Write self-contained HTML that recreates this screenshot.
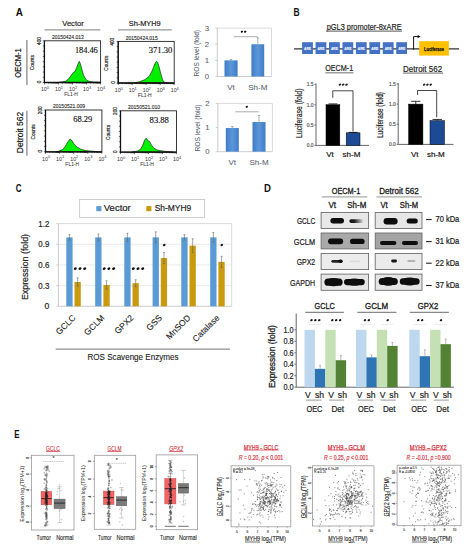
<!DOCTYPE html>
<html><head><meta charset="utf-8"><style>
html,body{margin:0;padding:0;background:#fff;}
svg{display:block;}
text{font-family:"Liberation Sans", sans-serif;}
</style></head><body>
<svg width="476" height="550" viewBox="0 0 476 550">
<rect width="476" height="550" fill="#fff"/>
<text x="15.80" y="16.26" font-size="10.5" fill="#111" text-anchor="start" font-weight="bold" textLength="7.2" lengthAdjust="spacingAndGlyphs" >A</text>
<text x="73.00" y="26.02" font-size="7.6" fill="#222" text-anchor="middle" stroke="#222" stroke-width="0.18" textLength="21.5" lengthAdjust="spacingAndGlyphs" >Vector</text>
<line x1="44.40" y1="29.80" x2="100.30" y2="29.80" stroke="#9a9a9a" stroke-width="1.3" />
<text x="144.70" y="26.02" font-size="7.6" fill="#222" text-anchor="middle" stroke="#222" stroke-width="0.18" textLength="31.8" lengthAdjust="spacingAndGlyphs" >Sh-MYH9</text>
<line x1="118.00" y1="29.80" x2="171.80" y2="29.80" stroke="#9a9a9a" stroke-width="1.3" />
<text transform="translate(18.10,63.00) rotate(-90)" x="0" y="3.29" font-size="9.2" fill="#111" text-anchor="middle" stroke="#111" stroke-width="0.18" textLength="29.5" lengthAdjust="spacingAndGlyphs" >OECM-1</text>
<line x1="26.90" y1="40.00" x2="26.90" y2="85.00" stroke="#8a8a8a" stroke-width="1.3" />
<text transform="translate(19.60,132.50) rotate(-90)" x="0" y="3.29" font-size="9.2" fill="#111" text-anchor="middle" stroke="#111" stroke-width="0.18" textLength="41.5" lengthAdjust="spacingAndGlyphs" >Detroit 562</text>
<line x1="26.90" y1="110.70" x2="26.90" y2="155.80" stroke="#8a8a8a" stroke-width="1.3" />
<path d="M59.00,82.50 L59.00,82.20 L63.00,81.80 L66.00,81.00 L68.00,79.50 L70.00,77.00 L72.00,74.00 L73.30,72.40 L75.00,71.50 L76.50,68.00 L78.00,64.00 L79.30,61.30 L80.50,64.00 L82.00,70.00 L83.50,75.00 L85.00,78.00 L87.00,80.50 L90.00,81.60 L94.00,82.00 L100.00,82.20 L100.00,82.50 Z" fill="#00f000" stroke="#111" stroke-width="0.6" />
<rect x="44.40" y="40.80" width="56.20" height="41.70" fill="none" stroke="#222" stroke-width="0.9" />
<line x1="44.40" y1="40.80" x2="44.40" y2="83.00" stroke="#111" stroke-width="1.3" />
<line x1="43.90" y1="82.50" x2="100.60" y2="82.50" stroke="#111" stroke-width="1.3" />
<line x1="42.80" y1="82.50" x2="44.40" y2="82.50" stroke="#111" stroke-width="0.6" />
<line x1="42.80" y1="77.29" x2="44.40" y2="77.29" stroke="#111" stroke-width="0.6" />
<line x1="42.80" y1="72.08" x2="44.40" y2="72.08" stroke="#111" stroke-width="0.6" />
<line x1="42.80" y1="66.86" x2="44.40" y2="66.86" stroke="#111" stroke-width="0.6" />
<line x1="42.80" y1="61.65" x2="44.40" y2="61.65" stroke="#111" stroke-width="0.6" />
<line x1="42.80" y1="56.44" x2="44.40" y2="56.44" stroke="#111" stroke-width="0.6" />
<line x1="42.80" y1="51.22" x2="44.40" y2="51.22" stroke="#111" stroke-width="0.6" />
<line x1="42.80" y1="46.01" x2="44.40" y2="46.01" stroke="#111" stroke-width="0.6" />
<line x1="42.80" y1="40.80" x2="44.40" y2="40.80" stroke="#111" stroke-width="0.6" />
<line x1="44.40" y1="82.50" x2="44.40" y2="84.50" stroke="#111" stroke-width="0.6" />
<line x1="48.63" y1="82.50" x2="48.63" y2="83.70" stroke="#111" stroke-width="0.6" />
<line x1="51.10" y1="82.50" x2="51.10" y2="83.70" stroke="#111" stroke-width="0.6" />
<line x1="52.86" y1="82.50" x2="52.86" y2="83.70" stroke="#111" stroke-width="0.6" />
<line x1="54.22" y1="82.50" x2="54.22" y2="83.70" stroke="#111" stroke-width="0.6" />
<line x1="55.33" y1="82.50" x2="55.33" y2="83.70" stroke="#111" stroke-width="0.6" />
<line x1="56.27" y1="82.50" x2="56.27" y2="83.70" stroke="#111" stroke-width="0.6" />
<line x1="57.09" y1="82.50" x2="57.09" y2="83.70" stroke="#111" stroke-width="0.6" />
<line x1="57.81" y1="82.50" x2="57.81" y2="83.70" stroke="#111" stroke-width="0.6" />
<line x1="58.45" y1="82.50" x2="58.45" y2="84.50" stroke="#111" stroke-width="0.6" />
<line x1="62.68" y1="82.50" x2="62.68" y2="83.70" stroke="#111" stroke-width="0.6" />
<line x1="65.15" y1="82.50" x2="65.15" y2="83.70" stroke="#111" stroke-width="0.6" />
<line x1="66.91" y1="82.50" x2="66.91" y2="83.70" stroke="#111" stroke-width="0.6" />
<line x1="68.27" y1="82.50" x2="68.27" y2="83.70" stroke="#111" stroke-width="0.6" />
<line x1="69.38" y1="82.50" x2="69.38" y2="83.70" stroke="#111" stroke-width="0.6" />
<line x1="70.32" y1="82.50" x2="70.32" y2="83.70" stroke="#111" stroke-width="0.6" />
<line x1="71.14" y1="82.50" x2="71.14" y2="83.70" stroke="#111" stroke-width="0.6" />
<line x1="71.86" y1="82.50" x2="71.86" y2="83.70" stroke="#111" stroke-width="0.6" />
<line x1="72.50" y1="82.50" x2="72.50" y2="84.50" stroke="#111" stroke-width="0.6" />
<line x1="76.73" y1="82.50" x2="76.73" y2="83.70" stroke="#111" stroke-width="0.6" />
<line x1="79.20" y1="82.50" x2="79.20" y2="83.70" stroke="#111" stroke-width="0.6" />
<line x1="80.96" y1="82.50" x2="80.96" y2="83.70" stroke="#111" stroke-width="0.6" />
<line x1="82.32" y1="82.50" x2="82.32" y2="83.70" stroke="#111" stroke-width="0.6" />
<line x1="83.43" y1="82.50" x2="83.43" y2="83.70" stroke="#111" stroke-width="0.6" />
<line x1="84.37" y1="82.50" x2="84.37" y2="83.70" stroke="#111" stroke-width="0.6" />
<line x1="85.19" y1="82.50" x2="85.19" y2="83.70" stroke="#111" stroke-width="0.6" />
<line x1="85.91" y1="82.50" x2="85.91" y2="83.70" stroke="#111" stroke-width="0.6" />
<line x1="86.55" y1="82.50" x2="86.55" y2="84.50" stroke="#111" stroke-width="0.6" />
<line x1="90.78" y1="82.50" x2="90.78" y2="83.70" stroke="#111" stroke-width="0.6" />
<line x1="93.25" y1="82.50" x2="93.25" y2="83.70" stroke="#111" stroke-width="0.6" />
<line x1="95.01" y1="82.50" x2="95.01" y2="83.70" stroke="#111" stroke-width="0.6" />
<line x1="96.37" y1="82.50" x2="96.37" y2="83.70" stroke="#111" stroke-width="0.6" />
<line x1="97.48" y1="82.50" x2="97.48" y2="83.70" stroke="#111" stroke-width="0.6" />
<line x1="98.42" y1="82.50" x2="98.42" y2="83.70" stroke="#111" stroke-width="0.6" />
<line x1="99.24" y1="82.50" x2="99.24" y2="83.70" stroke="#111" stroke-width="0.6" />
<line x1="99.96" y1="82.50" x2="99.96" y2="83.70" stroke="#111" stroke-width="0.6" />
<line x1="100.60" y1="82.50" x2="100.60" y2="84.50" stroke="#111" stroke-width="0.6" />
<text x="67.90" y="39.16" font-size="5.2" fill="#222" text-anchor="middle" stroke="#222" stroke-width="0.1" textLength="32" lengthAdjust="spacingAndGlyphs" >20150424.013</text>
<text x="74.90" y="52.55" font-size="8.8" fill="#111" text-anchor="start" style='font-family:"Liberation Serif", serif' stroke="#111" stroke-width="0.15" textLength="22.9" lengthAdjust="spacingAndGlyphs" >184.46</text>
<text transform="translate(39.00,41.10) rotate(-90)" x="0" y="1.65" font-size="4.6" fill="#222" text-anchor="middle" stroke="#222" stroke-width="0.18" >400</text>
<text transform="translate(39.20,82.00) rotate(-90)" x="0" y="1.65" font-size="4.6" fill="#222" text-anchor="middle" stroke="#222" stroke-width="0.18" >0</text>
<text transform="translate(32.40,62.65) rotate(-90)" x="0" y="1.72" font-size="4.8" fill="#222" text-anchor="middle" stroke="#222" stroke-width="0.18" textLength="15" lengthAdjust="spacingAndGlyphs" >Counts</text>
<text x="40.90" y="91.20" font-size="5.3" fill="#333">10<tspan font-size="3.9" dy="-2.1">0</tspan></text>
<text x="54.95" y="91.20" font-size="5.3" fill="#333">10<tspan font-size="3.9" dy="-2.1">1</tspan></text>
<text x="69.00" y="91.20" font-size="5.3" fill="#333">10<tspan font-size="3.9" dy="-2.1">2</tspan></text>
<text x="83.05" y="91.20" font-size="5.3" fill="#333">10<tspan font-size="3.9" dy="-2.1">3</tspan></text>
<text x="97.10" y="91.20" font-size="5.3" fill="#333">10<tspan font-size="3.9" dy="-2.1">4</tspan></text>
<text x="71.05" y="96.22" font-size="4.8" fill="#333" text-anchor="middle" stroke="#333" stroke-width="0.05" textLength="13.7" lengthAdjust="spacingAndGlyphs" >FL1-H</text>
<path d="M134.40,83.00 L134.40,82.80 L139.40,81.80 L145.10,79.60 L149.50,75.90 L152.00,71.00 L154.00,66.00 L155.50,62.50 L156.50,61.30 L157.70,62.50 L159.00,66.40 L160.90,74.00 L162.80,80.30 L164.70,82.50 L168.40,83.00 L168.40,83.00 Z" fill="#00f000" stroke="#111" stroke-width="0.6" />
<rect x="118.20" y="41.40" width="56.00" height="41.60" fill="none" stroke="#222" stroke-width="0.9" />
<line x1="118.20" y1="41.40" x2="118.20" y2="83.50" stroke="#111" stroke-width="1.3" />
<line x1="117.70" y1="83.00" x2="174.20" y2="83.00" stroke="#111" stroke-width="1.3" />
<line x1="116.60" y1="83.00" x2="118.20" y2="83.00" stroke="#111" stroke-width="0.6" />
<line x1="116.60" y1="77.80" x2="118.20" y2="77.80" stroke="#111" stroke-width="0.6" />
<line x1="116.60" y1="72.60" x2="118.20" y2="72.60" stroke="#111" stroke-width="0.6" />
<line x1="116.60" y1="67.40" x2="118.20" y2="67.40" stroke="#111" stroke-width="0.6" />
<line x1="116.60" y1="62.20" x2="118.20" y2="62.20" stroke="#111" stroke-width="0.6" />
<line x1="116.60" y1="57.00" x2="118.20" y2="57.00" stroke="#111" stroke-width="0.6" />
<line x1="116.60" y1="51.80" x2="118.20" y2="51.80" stroke="#111" stroke-width="0.6" />
<line x1="116.60" y1="46.60" x2="118.20" y2="46.60" stroke="#111" stroke-width="0.6" />
<line x1="116.60" y1="41.40" x2="118.20" y2="41.40" stroke="#111" stroke-width="0.6" />
<line x1="118.20" y1="83.00" x2="118.20" y2="85.00" stroke="#111" stroke-width="0.6" />
<line x1="122.41" y1="83.00" x2="122.41" y2="84.20" stroke="#111" stroke-width="0.6" />
<line x1="124.88" y1="83.00" x2="124.88" y2="84.20" stroke="#111" stroke-width="0.6" />
<line x1="126.63" y1="83.00" x2="126.63" y2="84.20" stroke="#111" stroke-width="0.6" />
<line x1="127.99" y1="83.00" x2="127.99" y2="84.20" stroke="#111" stroke-width="0.6" />
<line x1="129.09" y1="83.00" x2="129.09" y2="84.20" stroke="#111" stroke-width="0.6" />
<line x1="130.03" y1="83.00" x2="130.03" y2="84.20" stroke="#111" stroke-width="0.6" />
<line x1="130.84" y1="83.00" x2="130.84" y2="84.20" stroke="#111" stroke-width="0.6" />
<line x1="131.56" y1="83.00" x2="131.56" y2="84.20" stroke="#111" stroke-width="0.6" />
<line x1="132.20" y1="83.00" x2="132.20" y2="85.00" stroke="#111" stroke-width="0.6" />
<line x1="136.41" y1="83.00" x2="136.41" y2="84.20" stroke="#111" stroke-width="0.6" />
<line x1="138.88" y1="83.00" x2="138.88" y2="84.20" stroke="#111" stroke-width="0.6" />
<line x1="140.63" y1="83.00" x2="140.63" y2="84.20" stroke="#111" stroke-width="0.6" />
<line x1="141.99" y1="83.00" x2="141.99" y2="84.20" stroke="#111" stroke-width="0.6" />
<line x1="143.09" y1="83.00" x2="143.09" y2="84.20" stroke="#111" stroke-width="0.6" />
<line x1="144.03" y1="83.00" x2="144.03" y2="84.20" stroke="#111" stroke-width="0.6" />
<line x1="144.84" y1="83.00" x2="144.84" y2="84.20" stroke="#111" stroke-width="0.6" />
<line x1="145.56" y1="83.00" x2="145.56" y2="84.20" stroke="#111" stroke-width="0.6" />
<line x1="146.20" y1="83.00" x2="146.20" y2="85.00" stroke="#111" stroke-width="0.6" />
<line x1="150.41" y1="83.00" x2="150.41" y2="84.20" stroke="#111" stroke-width="0.6" />
<line x1="152.88" y1="83.00" x2="152.88" y2="84.20" stroke="#111" stroke-width="0.6" />
<line x1="154.63" y1="83.00" x2="154.63" y2="84.20" stroke="#111" stroke-width="0.6" />
<line x1="155.99" y1="83.00" x2="155.99" y2="84.20" stroke="#111" stroke-width="0.6" />
<line x1="157.09" y1="83.00" x2="157.09" y2="84.20" stroke="#111" stroke-width="0.6" />
<line x1="158.03" y1="83.00" x2="158.03" y2="84.20" stroke="#111" stroke-width="0.6" />
<line x1="158.84" y1="83.00" x2="158.84" y2="84.20" stroke="#111" stroke-width="0.6" />
<line x1="159.56" y1="83.00" x2="159.56" y2="84.20" stroke="#111" stroke-width="0.6" />
<line x1="160.20" y1="83.00" x2="160.20" y2="85.00" stroke="#111" stroke-width="0.6" />
<line x1="164.41" y1="83.00" x2="164.41" y2="84.20" stroke="#111" stroke-width="0.6" />
<line x1="166.88" y1="83.00" x2="166.88" y2="84.20" stroke="#111" stroke-width="0.6" />
<line x1="168.63" y1="83.00" x2="168.63" y2="84.20" stroke="#111" stroke-width="0.6" />
<line x1="169.99" y1="83.00" x2="169.99" y2="84.20" stroke="#111" stroke-width="0.6" />
<line x1="171.09" y1="83.00" x2="171.09" y2="84.20" stroke="#111" stroke-width="0.6" />
<line x1="172.03" y1="83.00" x2="172.03" y2="84.20" stroke="#111" stroke-width="0.6" />
<line x1="172.84" y1="83.00" x2="172.84" y2="84.20" stroke="#111" stroke-width="0.6" />
<line x1="173.56" y1="83.00" x2="173.56" y2="84.20" stroke="#111" stroke-width="0.6" />
<line x1="174.20" y1="83.00" x2="174.20" y2="85.00" stroke="#111" stroke-width="0.6" />
<text x="141.70" y="39.76" font-size="5.2" fill="#222" text-anchor="middle" stroke="#222" stroke-width="0.1" textLength="32" lengthAdjust="spacingAndGlyphs" >20150424.015</text>
<text x="148.80" y="53.15" font-size="8.8" fill="#111" text-anchor="start" style='font-family:"Liberation Serif", serif' stroke="#111" stroke-width="0.15" textLength="23.6" lengthAdjust="spacingAndGlyphs" >371.30</text>
<text transform="translate(112.80,41.70) rotate(-90)" x="0" y="1.65" font-size="4.6" fill="#222" text-anchor="middle" stroke="#222" stroke-width="0.18" >400</text>
<text transform="translate(113.00,82.50) rotate(-90)" x="0" y="1.65" font-size="4.6" fill="#222" text-anchor="middle" stroke="#222" stroke-width="0.18" >0</text>
<text transform="translate(106.20,63.20) rotate(-90)" x="0" y="1.72" font-size="4.8" fill="#222" text-anchor="middle" stroke="#222" stroke-width="0.18" textLength="15" lengthAdjust="spacingAndGlyphs" >Counts</text>
<text x="114.70" y="91.70" font-size="5.3" fill="#333">10<tspan font-size="3.9" dy="-2.1">0</tspan></text>
<text x="128.70" y="91.70" font-size="5.3" fill="#333">10<tspan font-size="3.9" dy="-2.1">1</tspan></text>
<text x="142.70" y="91.70" font-size="5.3" fill="#333">10<tspan font-size="3.9" dy="-2.1">2</tspan></text>
<text x="156.70" y="91.70" font-size="5.3" fill="#333">10<tspan font-size="3.9" dy="-2.1">3</tspan></text>
<text x="170.70" y="91.70" font-size="5.3" fill="#333">10<tspan font-size="3.9" dy="-2.1">4</tspan></text>
<text x="144.76" y="96.72" font-size="4.8" fill="#333" text-anchor="middle" stroke="#333" stroke-width="0.05" textLength="13.7" lengthAdjust="spacingAndGlyphs" >FL1-H</text>
<path d="M56.30,151.80 L56.30,151.70 L58.90,151.10 L62.70,149.60 L65.20,146.40 L67.70,142.00 L70.00,139.10 L72.10,140.80 L74.00,143.90 L77.20,147.10 L80.90,149.20 L85.40,150.60 L92.90,151.20 L98.00,151.70 L98.00,151.80 Z" fill="#00f000" stroke="#111" stroke-width="0.6" />
<rect x="45.50" y="110.00" width="56.40" height="41.80" fill="none" stroke="#222" stroke-width="0.9" />
<line x1="45.50" y1="110.00" x2="45.50" y2="152.30" stroke="#111" stroke-width="1.3" />
<line x1="45.00" y1="151.80" x2="101.90" y2="151.80" stroke="#111" stroke-width="1.3" />
<line x1="43.90" y1="151.80" x2="45.50" y2="151.80" stroke="#111" stroke-width="0.6" />
<line x1="43.90" y1="146.58" x2="45.50" y2="146.58" stroke="#111" stroke-width="0.6" />
<line x1="43.90" y1="141.35" x2="45.50" y2="141.35" stroke="#111" stroke-width="0.6" />
<line x1="43.90" y1="136.12" x2="45.50" y2="136.12" stroke="#111" stroke-width="0.6" />
<line x1="43.90" y1="130.90" x2="45.50" y2="130.90" stroke="#111" stroke-width="0.6" />
<line x1="43.90" y1="125.68" x2="45.50" y2="125.68" stroke="#111" stroke-width="0.6" />
<line x1="43.90" y1="120.45" x2="45.50" y2="120.45" stroke="#111" stroke-width="0.6" />
<line x1="43.90" y1="115.23" x2="45.50" y2="115.23" stroke="#111" stroke-width="0.6" />
<line x1="43.90" y1="110.00" x2="45.50" y2="110.00" stroke="#111" stroke-width="0.6" />
<line x1="45.50" y1="151.80" x2="45.50" y2="153.80" stroke="#111" stroke-width="0.6" />
<line x1="49.74" y1="151.80" x2="49.74" y2="153.00" stroke="#111" stroke-width="0.6" />
<line x1="52.23" y1="151.80" x2="52.23" y2="153.00" stroke="#111" stroke-width="0.6" />
<line x1="53.99" y1="151.80" x2="53.99" y2="153.00" stroke="#111" stroke-width="0.6" />
<line x1="55.36" y1="151.80" x2="55.36" y2="153.00" stroke="#111" stroke-width="0.6" />
<line x1="56.47" y1="151.80" x2="56.47" y2="153.00" stroke="#111" stroke-width="0.6" />
<line x1="57.42" y1="151.80" x2="57.42" y2="153.00" stroke="#111" stroke-width="0.6" />
<line x1="58.23" y1="151.80" x2="58.23" y2="153.00" stroke="#111" stroke-width="0.6" />
<line x1="58.95" y1="151.80" x2="58.95" y2="153.00" stroke="#111" stroke-width="0.6" />
<line x1="59.60" y1="151.80" x2="59.60" y2="153.80" stroke="#111" stroke-width="0.6" />
<line x1="63.84" y1="151.80" x2="63.84" y2="153.00" stroke="#111" stroke-width="0.6" />
<line x1="66.33" y1="151.80" x2="66.33" y2="153.00" stroke="#111" stroke-width="0.6" />
<line x1="68.09" y1="151.80" x2="68.09" y2="153.00" stroke="#111" stroke-width="0.6" />
<line x1="69.46" y1="151.80" x2="69.46" y2="153.00" stroke="#111" stroke-width="0.6" />
<line x1="70.57" y1="151.80" x2="70.57" y2="153.00" stroke="#111" stroke-width="0.6" />
<line x1="71.52" y1="151.80" x2="71.52" y2="153.00" stroke="#111" stroke-width="0.6" />
<line x1="72.33" y1="151.80" x2="72.33" y2="153.00" stroke="#111" stroke-width="0.6" />
<line x1="73.05" y1="151.80" x2="73.05" y2="153.00" stroke="#111" stroke-width="0.6" />
<line x1="73.70" y1="151.80" x2="73.70" y2="153.80" stroke="#111" stroke-width="0.6" />
<line x1="77.94" y1="151.80" x2="77.94" y2="153.00" stroke="#111" stroke-width="0.6" />
<line x1="80.43" y1="151.80" x2="80.43" y2="153.00" stroke="#111" stroke-width="0.6" />
<line x1="82.19" y1="151.80" x2="82.19" y2="153.00" stroke="#111" stroke-width="0.6" />
<line x1="83.56" y1="151.80" x2="83.56" y2="153.00" stroke="#111" stroke-width="0.6" />
<line x1="84.67" y1="151.80" x2="84.67" y2="153.00" stroke="#111" stroke-width="0.6" />
<line x1="85.62" y1="151.80" x2="85.62" y2="153.00" stroke="#111" stroke-width="0.6" />
<line x1="86.43" y1="151.80" x2="86.43" y2="153.00" stroke="#111" stroke-width="0.6" />
<line x1="87.15" y1="151.80" x2="87.15" y2="153.00" stroke="#111" stroke-width="0.6" />
<line x1="87.80" y1="151.80" x2="87.80" y2="153.80" stroke="#111" stroke-width="0.6" />
<line x1="92.04" y1="151.80" x2="92.04" y2="153.00" stroke="#111" stroke-width="0.6" />
<line x1="94.53" y1="151.80" x2="94.53" y2="153.00" stroke="#111" stroke-width="0.6" />
<line x1="96.29" y1="151.80" x2="96.29" y2="153.00" stroke="#111" stroke-width="0.6" />
<line x1="97.66" y1="151.80" x2="97.66" y2="153.00" stroke="#111" stroke-width="0.6" />
<line x1="98.77" y1="151.80" x2="98.77" y2="153.00" stroke="#111" stroke-width="0.6" />
<line x1="99.72" y1="151.80" x2="99.72" y2="153.00" stroke="#111" stroke-width="0.6" />
<line x1="100.53" y1="151.80" x2="100.53" y2="153.00" stroke="#111" stroke-width="0.6" />
<line x1="101.25" y1="151.80" x2="101.25" y2="153.00" stroke="#111" stroke-width="0.6" />
<line x1="101.90" y1="151.80" x2="101.90" y2="153.80" stroke="#111" stroke-width="0.6" />
<text x="69.00" y="108.36" font-size="5.2" fill="#222" text-anchor="middle" stroke="#222" stroke-width="0.1" textLength="32" lengthAdjust="spacingAndGlyphs" >20150521.009</text>
<text x="73.20" y="121.75" font-size="8.8" fill="#111" text-anchor="start" style='font-family:"Liberation Serif", serif' stroke="#111" stroke-width="0.15" textLength="19" lengthAdjust="spacingAndGlyphs" >68.29</text>
<text transform="translate(40.10,110.30) rotate(-90)" x="0" y="1.65" font-size="4.6" fill="#222" text-anchor="middle" stroke="#222" stroke-width="0.18" >200</text>
<text transform="translate(40.30,151.30) rotate(-90)" x="0" y="1.65" font-size="4.6" fill="#222" text-anchor="middle" stroke="#222" stroke-width="0.18" >0</text>
<text transform="translate(33.50,131.90) rotate(-90)" x="0" y="1.72" font-size="4.8" fill="#222" text-anchor="middle" stroke="#222" stroke-width="0.18" textLength="15" lengthAdjust="spacingAndGlyphs" >Counts</text>
<text x="42.00" y="160.50" font-size="5.3" fill="#333">10<tspan font-size="3.9" dy="-2.1">0</tspan></text>
<text x="56.10" y="160.50" font-size="5.3" fill="#333">10<tspan font-size="3.9" dy="-2.1">1</tspan></text>
<text x="70.20" y="160.50" font-size="5.3" fill="#333">10<tspan font-size="3.9" dy="-2.1">2</tspan></text>
<text x="84.30" y="160.50" font-size="5.3" fill="#333">10<tspan font-size="3.9" dy="-2.1">3</tspan></text>
<text x="98.40" y="160.50" font-size="5.3" fill="#333">10<tspan font-size="3.9" dy="-2.1">4</tspan></text>
<text x="72.24" y="165.52" font-size="4.8" fill="#333" text-anchor="middle" stroke="#333" stroke-width="0.05" textLength="13.7" lengthAdjust="spacingAndGlyphs" >FL1-H</text>
<path d="M132.00,152.10 L132.00,152.10 L137.70,150.90 L140.80,149.00 L142.70,145.20 L144.60,140.10 L146.20,138.20 L148.00,140.80 L149.60,141.40 L151.50,145.20 L154.00,148.30 L157.80,150.20 L164.10,151.20 L173.00,152.10 L173.00,152.10 Z" fill="#00f000" stroke="#111" stroke-width="0.6" />
<rect x="120.50" y="110.80" width="56.00" height="41.30" fill="none" stroke="#222" stroke-width="0.9" />
<line x1="120.50" y1="110.80" x2="120.50" y2="152.60" stroke="#111" stroke-width="1.3" />
<line x1="120.00" y1="152.10" x2="176.50" y2="152.10" stroke="#111" stroke-width="1.3" />
<line x1="118.90" y1="152.10" x2="120.50" y2="152.10" stroke="#111" stroke-width="0.6" />
<line x1="118.90" y1="146.94" x2="120.50" y2="146.94" stroke="#111" stroke-width="0.6" />
<line x1="118.90" y1="141.78" x2="120.50" y2="141.78" stroke="#111" stroke-width="0.6" />
<line x1="118.90" y1="136.61" x2="120.50" y2="136.61" stroke="#111" stroke-width="0.6" />
<line x1="118.90" y1="131.45" x2="120.50" y2="131.45" stroke="#111" stroke-width="0.6" />
<line x1="118.90" y1="126.29" x2="120.50" y2="126.29" stroke="#111" stroke-width="0.6" />
<line x1="118.90" y1="121.12" x2="120.50" y2="121.12" stroke="#111" stroke-width="0.6" />
<line x1="118.90" y1="115.96" x2="120.50" y2="115.96" stroke="#111" stroke-width="0.6" />
<line x1="118.90" y1="110.80" x2="120.50" y2="110.80" stroke="#111" stroke-width="0.6" />
<line x1="120.50" y1="152.10" x2="120.50" y2="154.10" stroke="#111" stroke-width="0.6" />
<line x1="124.71" y1="152.10" x2="124.71" y2="153.30" stroke="#111" stroke-width="0.6" />
<line x1="127.18" y1="152.10" x2="127.18" y2="153.30" stroke="#111" stroke-width="0.6" />
<line x1="128.93" y1="152.10" x2="128.93" y2="153.30" stroke="#111" stroke-width="0.6" />
<line x1="130.29" y1="152.10" x2="130.29" y2="153.30" stroke="#111" stroke-width="0.6" />
<line x1="131.39" y1="152.10" x2="131.39" y2="153.30" stroke="#111" stroke-width="0.6" />
<line x1="132.33" y1="152.10" x2="132.33" y2="153.30" stroke="#111" stroke-width="0.6" />
<line x1="133.14" y1="152.10" x2="133.14" y2="153.30" stroke="#111" stroke-width="0.6" />
<line x1="133.86" y1="152.10" x2="133.86" y2="153.30" stroke="#111" stroke-width="0.6" />
<line x1="134.50" y1="152.10" x2="134.50" y2="154.10" stroke="#111" stroke-width="0.6" />
<line x1="138.71" y1="152.10" x2="138.71" y2="153.30" stroke="#111" stroke-width="0.6" />
<line x1="141.18" y1="152.10" x2="141.18" y2="153.30" stroke="#111" stroke-width="0.6" />
<line x1="142.93" y1="152.10" x2="142.93" y2="153.30" stroke="#111" stroke-width="0.6" />
<line x1="144.29" y1="152.10" x2="144.29" y2="153.30" stroke="#111" stroke-width="0.6" />
<line x1="145.39" y1="152.10" x2="145.39" y2="153.30" stroke="#111" stroke-width="0.6" />
<line x1="146.33" y1="152.10" x2="146.33" y2="153.30" stroke="#111" stroke-width="0.6" />
<line x1="147.14" y1="152.10" x2="147.14" y2="153.30" stroke="#111" stroke-width="0.6" />
<line x1="147.86" y1="152.10" x2="147.86" y2="153.30" stroke="#111" stroke-width="0.6" />
<line x1="148.50" y1="152.10" x2="148.50" y2="154.10" stroke="#111" stroke-width="0.6" />
<line x1="152.71" y1="152.10" x2="152.71" y2="153.30" stroke="#111" stroke-width="0.6" />
<line x1="155.18" y1="152.10" x2="155.18" y2="153.30" stroke="#111" stroke-width="0.6" />
<line x1="156.93" y1="152.10" x2="156.93" y2="153.30" stroke="#111" stroke-width="0.6" />
<line x1="158.29" y1="152.10" x2="158.29" y2="153.30" stroke="#111" stroke-width="0.6" />
<line x1="159.39" y1="152.10" x2="159.39" y2="153.30" stroke="#111" stroke-width="0.6" />
<line x1="160.33" y1="152.10" x2="160.33" y2="153.30" stroke="#111" stroke-width="0.6" />
<line x1="161.14" y1="152.10" x2="161.14" y2="153.30" stroke="#111" stroke-width="0.6" />
<line x1="161.86" y1="152.10" x2="161.86" y2="153.30" stroke="#111" stroke-width="0.6" />
<line x1="162.50" y1="152.10" x2="162.50" y2="154.10" stroke="#111" stroke-width="0.6" />
<line x1="166.71" y1="152.10" x2="166.71" y2="153.30" stroke="#111" stroke-width="0.6" />
<line x1="169.18" y1="152.10" x2="169.18" y2="153.30" stroke="#111" stroke-width="0.6" />
<line x1="170.93" y1="152.10" x2="170.93" y2="153.30" stroke="#111" stroke-width="0.6" />
<line x1="172.29" y1="152.10" x2="172.29" y2="153.30" stroke="#111" stroke-width="0.6" />
<line x1="173.39" y1="152.10" x2="173.39" y2="153.30" stroke="#111" stroke-width="0.6" />
<line x1="174.33" y1="152.10" x2="174.33" y2="153.30" stroke="#111" stroke-width="0.6" />
<line x1="175.14" y1="152.10" x2="175.14" y2="153.30" stroke="#111" stroke-width="0.6" />
<line x1="175.86" y1="152.10" x2="175.86" y2="153.30" stroke="#111" stroke-width="0.6" />
<line x1="176.50" y1="152.10" x2="176.50" y2="154.10" stroke="#111" stroke-width="0.6" />
<text x="144.00" y="109.16" font-size="5.2" fill="#222" text-anchor="middle" stroke="#222" stroke-width="0.1" textLength="32" lengthAdjust="spacingAndGlyphs" >20150521.010</text>
<text x="149.60" y="122.55" font-size="8.8" fill="#111" text-anchor="start" style='font-family:"Liberation Serif", serif' stroke="#111" stroke-width="0.15" textLength="19.3" lengthAdjust="spacingAndGlyphs" >83.88</text>
<text transform="translate(115.10,111.10) rotate(-90)" x="0" y="1.65" font-size="4.6" fill="#222" text-anchor="middle" stroke="#222" stroke-width="0.18" >200</text>
<text transform="translate(115.30,151.60) rotate(-90)" x="0" y="1.65" font-size="4.6" fill="#222" text-anchor="middle" stroke="#222" stroke-width="0.18" >0</text>
<text transform="translate(108.50,132.45) rotate(-90)" x="0" y="1.72" font-size="4.8" fill="#222" text-anchor="middle" stroke="#222" stroke-width="0.18" textLength="15" lengthAdjust="spacingAndGlyphs" >Counts</text>
<text x="117.00" y="160.80" font-size="5.3" fill="#333">10<tspan font-size="3.9" dy="-2.1">0</tspan></text>
<text x="131.00" y="160.80" font-size="5.3" fill="#333">10<tspan font-size="3.9" dy="-2.1">1</tspan></text>
<text x="145.00" y="160.80" font-size="5.3" fill="#333">10<tspan font-size="3.9" dy="-2.1">2</tspan></text>
<text x="159.00" y="160.80" font-size="5.3" fill="#333">10<tspan font-size="3.9" dy="-2.1">3</tspan></text>
<text x="173.00" y="160.80" font-size="5.3" fill="#333">10<tspan font-size="3.9" dy="-2.1">4</tspan></text>
<text x="147.06" y="165.82" font-size="4.8" fill="#333" text-anchor="middle" stroke="#333" stroke-width="0.05" textLength="13.7" lengthAdjust="spacingAndGlyphs" >FL1-H</text>
<defs><linearGradient id="gb" x1="0" y1="0" x2="1" y2="0"><stop offset="0" stop-color="#3f7cc6"/><stop offset="0.5" stop-color="#5a97da"/><stop offset="1" stop-color="#3f7cc6"/></linearGradient></defs>
<line x1="217.30" y1="76.50" x2="217.30" y2="28.10" stroke="#bfbfbf" stroke-width="0.8" />
<line x1="217.30" y1="28.10" x2="271.50" y2="28.10" stroke="#d0d0d0" stroke-width="0.8" />
<line x1="271.50" y1="28.10" x2="271.50" y2="76.50" stroke="#d0d0d0" stroke-width="0.8" />
<line x1="217.30" y1="76.50" x2="271.50" y2="76.50" stroke="#bfbfbf" stroke-width="0.8" />
<text x="206.80" y="79.29" font-size="7.8" fill="#556070" text-anchor="middle" stroke="#556070" stroke-width="0.05" >0</text>
<line x1="215.30" y1="76.50" x2="217.30" y2="76.50" stroke="#bfbfbf" stroke-width="0.8" />
<text x="206.80" y="63.16" font-size="7.8" fill="#556070" text-anchor="middle" stroke="#556070" stroke-width="0.05" >1</text>
<line x1="215.30" y1="60.37" x2="217.30" y2="60.37" stroke="#bfbfbf" stroke-width="0.8" />
<text x="206.80" y="47.03" font-size="7.8" fill="#556070" text-anchor="middle" stroke="#556070" stroke-width="0.05" >2</text>
<line x1="215.30" y1="44.23" x2="217.30" y2="44.23" stroke="#bfbfbf" stroke-width="0.8" />
<text x="206.80" y="30.89" font-size="7.8" fill="#556070" text-anchor="middle" stroke="#556070" stroke-width="0.05" >3</text>
<line x1="215.30" y1="28.10" x2="217.30" y2="28.10" stroke="#bfbfbf" stroke-width="0.8" />
<rect x="224.50" y="60.37" width="13.10" height="16.13" fill="url(#gb)" />
<line x1="231.05" y1="59.40" x2="231.05" y2="61.24" stroke="#7a8fa8" stroke-width="0.7" />
<line x1="229.85" y1="59.40" x2="232.25" y2="59.40" stroke="#7a8fa8" stroke-width="0.7" />
<text x="231.05" y="89.56" font-size="8.0" fill="#556070" text-anchor="middle" stroke="#556070" stroke-width="0.05" >Vt</text>
<rect x="251.40" y="44.23" width="12.80" height="32.27" fill="url(#gb)" />
<line x1="257.80" y1="37.78" x2="257.80" y2="50.04" stroke="#7a8fa8" stroke-width="0.7" />
<line x1="256.60" y1="37.78" x2="259.00" y2="37.78" stroke="#7a8fa8" stroke-width="0.7" />
<text x="257.80" y="89.56" font-size="8.0" fill="#556070" text-anchor="middle" stroke="#556070" stroke-width="0.05" >Sh-M</text>
<line x1="233.70" y1="36.70" x2="257.60" y2="36.70" stroke="#a6a6a6" stroke-width="0.9" />
<ellipse cx="241.95" cy="31.70" rx="1.25" ry="0.95" fill="#111" transform="rotate(-25 241.95 31.70)"/>
<ellipse cx="245.25" cy="31.70" rx="1.25" ry="0.95" fill="#111" transform="rotate(-25 245.25 31.70)"/>
<text transform="translate(196.30,53.20) rotate(-90)" x="0" y="2.86" font-size="8.0" fill="#556070" text-anchor="middle" stroke="#556070" stroke-width="0.05" textLength="46.5" lengthAdjust="spacingAndGlyphs" >ROS level (fold)</text>
<line x1="217.80" y1="151.70" x2="217.80" y2="103.40" stroke="#bfbfbf" stroke-width="0.8" />
<line x1="217.80" y1="103.40" x2="272.40" y2="103.40" stroke="#d0d0d0" stroke-width="0.8" />
<line x1="272.40" y1="103.40" x2="272.40" y2="151.70" stroke="#d0d0d0" stroke-width="0.8" />
<line x1="217.80" y1="151.70" x2="272.40" y2="151.70" stroke="#bfbfbf" stroke-width="0.8" />
<text x="207.30" y="154.49" font-size="7.8" fill="#556070" text-anchor="middle" stroke="#556070" stroke-width="0.05" >0</text>
<line x1="215.80" y1="151.70" x2="217.80" y2="151.70" stroke="#bfbfbf" stroke-width="0.8" />
<text x="207.30" y="130.34" font-size="7.8" fill="#556070" text-anchor="middle" stroke="#556070" stroke-width="0.05" >1</text>
<line x1="215.80" y1="127.55" x2="217.80" y2="127.55" stroke="#bfbfbf" stroke-width="0.8" />
<text x="207.30" y="106.19" font-size="7.8" fill="#556070" text-anchor="middle" stroke="#556070" stroke-width="0.05" >2</text>
<line x1="215.80" y1="103.40" x2="217.80" y2="103.40" stroke="#bfbfbf" stroke-width="0.8" />
<rect x="225.80" y="128.03" width="13.00" height="23.67" fill="url(#gb)" />
<line x1="232.30" y1="126.58" x2="232.30" y2="129.34" stroke="#7a8fa8" stroke-width="0.7" />
<line x1="231.10" y1="126.58" x2="233.50" y2="126.58" stroke="#7a8fa8" stroke-width="0.7" />
<text x="232.30" y="164.76" font-size="8.0" fill="#556070" text-anchor="middle" stroke="#556070" stroke-width="0.05" >Vt</text>
<rect x="252.50" y="122.00" width="13.00" height="29.70" fill="url(#gb)" />
<line x1="259.00" y1="115.47" x2="259.00" y2="127.86" stroke="#7a8fa8" stroke-width="0.7" />
<line x1="257.80" y1="115.47" x2="260.20" y2="115.47" stroke="#7a8fa8" stroke-width="0.7" />
<text x="259.00" y="164.76" font-size="8.0" fill="#556070" text-anchor="middle" stroke="#556070" stroke-width="0.05" >Sh-M</text>
<line x1="235.30" y1="111.80" x2="258.80" y2="111.80" stroke="#a6a6a6" stroke-width="0.9" />
<ellipse cx="246.80" cy="106.80" rx="1.25" ry="0.95" fill="#111" transform="rotate(-25 246.80 106.80)"/>
<text transform="translate(197.20,128.00) rotate(-90)" x="0" y="2.86" font-size="8.0" fill="#556070" text-anchor="middle" stroke="#556070" stroke-width="0.05" textLength="47" lengthAdjust="spacingAndGlyphs" >ROS level (fold)</text>
<text x="293.60" y="16.36" font-size="10.5" fill="#111" text-anchor="start" font-weight="bold" textLength="6.1" lengthAdjust="spacingAndGlyphs" >B</text>
<text x="326.70" y="29.84" font-size="8.2" fill="#222" text-anchor="start" stroke="#222" stroke-width="0.18" textLength="75" lengthAdjust="spacingAndGlyphs" >pGL3 promoter-8xARE</text>
<line x1="326.00" y1="31.20" x2="402.00" y2="31.20" stroke="#777" stroke-width="1.2" />
<line x1="294.00" y1="48.90" x2="459.00" y2="48.90" stroke="#333" stroke-width="1.3" />
<rect x="302.10" y="42.20" width="10.80" height="11.80" fill="#4472c4" />
<text x="307.50" y="49.88" font-size="4.4" fill="#fff" text-anchor="middle" font-weight="bold" stroke="#fff" stroke-width="0.1" textLength="7.0" lengthAdjust="spacingAndGlyphs" >ARE</text>
<rect x="315.55" y="42.20" width="10.80" height="11.80" fill="#4472c4" />
<text x="320.95" y="49.88" font-size="4.4" fill="#fff" text-anchor="middle" font-weight="bold" stroke="#fff" stroke-width="0.1" textLength="7.0" lengthAdjust="spacingAndGlyphs" >ARE</text>
<rect x="329.00" y="42.20" width="10.80" height="11.80" fill="#4472c4" />
<text x="334.40" y="49.88" font-size="4.4" fill="#fff" text-anchor="middle" font-weight="bold" stroke="#fff" stroke-width="0.1" textLength="7.0" lengthAdjust="spacingAndGlyphs" >ARE</text>
<rect x="342.45" y="42.20" width="10.80" height="11.80" fill="#4472c4" />
<text x="347.85" y="49.88" font-size="4.4" fill="#fff" text-anchor="middle" font-weight="bold" stroke="#fff" stroke-width="0.1" textLength="7.0" lengthAdjust="spacingAndGlyphs" >ARE</text>
<rect x="355.90" y="42.20" width="10.80" height="11.80" fill="#4472c4" />
<text x="361.30" y="49.88" font-size="4.4" fill="#fff" text-anchor="middle" font-weight="bold" stroke="#fff" stroke-width="0.1" textLength="7.0" lengthAdjust="spacingAndGlyphs" >ARE</text>
<rect x="369.35" y="42.20" width="10.80" height="11.80" fill="#4472c4" />
<text x="374.75" y="49.88" font-size="4.4" fill="#fff" text-anchor="middle" font-weight="bold" stroke="#fff" stroke-width="0.1" textLength="7.0" lengthAdjust="spacingAndGlyphs" >ARE</text>
<rect x="382.80" y="42.20" width="10.80" height="11.80" fill="#4472c4" />
<text x="388.20" y="49.88" font-size="4.4" fill="#fff" text-anchor="middle" font-weight="bold" stroke="#fff" stroke-width="0.1" textLength="7.0" lengthAdjust="spacingAndGlyphs" >ARE</text>
<rect x="396.25" y="42.20" width="10.80" height="11.80" fill="#4472c4" />
<text x="401.65" y="49.88" font-size="4.4" fill="#fff" text-anchor="middle" font-weight="bold" stroke="#fff" stroke-width="0.1" textLength="7.0" lengthAdjust="spacingAndGlyphs" >ARE</text>
<path d="M413.6,49.8 L413.6,36.6 L418.5,36.6" fill="none" stroke="#111" stroke-width="1.0" />
<path d="M420.6,36.6 L417.6,34.9 L417.6,38.3 Z" fill="#111" />
<rect x="419.20" y="41.20" width="29.70" height="14.40" fill="#ffc000" />
<text x="434.00" y="50.69" font-size="5.0" fill="#111" text-anchor="middle" font-weight="bold" stroke="#111" stroke-width="0.25" textLength="20" lengthAdjust="spacingAndGlyphs" >Luciferase</text>
<line x1="316.00" y1="83.40" x2="316.00" y2="145.40" stroke="#555" stroke-width="0.9" />
<line x1="316.00" y1="145.40" x2="369.00" y2="145.40" stroke="#555" stroke-width="0.9" />
<line x1="314.40" y1="145.40" x2="316.00" y2="145.40" stroke="#555" stroke-width="0.8" />
<text x="313.60" y="147.33" font-size="5.4" fill="#555" text-anchor="end" stroke="#555" stroke-width="0.18" textLength="6.8" lengthAdjust="spacingAndGlyphs" >0.0</text>
<line x1="314.40" y1="125.07" x2="316.00" y2="125.07" stroke="#555" stroke-width="0.8" />
<text x="313.60" y="127.00" font-size="5.4" fill="#555" text-anchor="end" stroke="#555" stroke-width="0.18" textLength="6.8" lengthAdjust="spacingAndGlyphs" >0.5</text>
<line x1="314.40" y1="104.73" x2="316.00" y2="104.73" stroke="#555" stroke-width="0.8" />
<text x="313.60" y="106.67" font-size="5.4" fill="#555" text-anchor="end" stroke="#555" stroke-width="0.18" textLength="6.8" lengthAdjust="spacingAndGlyphs" >1.0</text>
<line x1="314.40" y1="84.40" x2="316.00" y2="84.40" stroke="#555" stroke-width="0.8" />
<text x="313.60" y="86.33" font-size="5.4" fill="#555" text-anchor="end" stroke="#555" stroke-width="0.18" textLength="6.8" lengthAdjust="spacingAndGlyphs" >1.5</text>
<rect x="326.00" y="104.73" width="13.80" height="40.67" fill="#000" stroke="#000" stroke-width="0.5" />
<line x1="332.90" y1="103.92" x2="332.90" y2="104.73" stroke="#000" stroke-width="0.8" />
<line x1="328.50" y1="103.92" x2="337.30" y2="103.92" stroke="#000" stroke-width="0.8" />
<text x="330.00" y="156.86" font-size="8" fill="#111" text-anchor="middle" stroke="#111" stroke-width="0.18" >Vt</text>
<rect x="346.20" y="132.79" width="13.80" height="12.61" fill="#1c4a94" stroke="#000" stroke-width="0.5" />
<line x1="353.10" y1="132.39" x2="353.10" y2="132.79" stroke="#000" stroke-width="0.8" />
<line x1="348.70" y1="132.39" x2="357.50" y2="132.39" stroke="#000" stroke-width="0.8" />
<text x="351.50" y="156.86" font-size="8" fill="#111" text-anchor="middle" stroke="#111" stroke-width="0.18" >sh-M</text>
<path d="M332.8,97.8 L332.8,90.8 L353,90.8 L353,131.4" fill="none" stroke="#333" stroke-width="0.9" />
<ellipse cx="339.90" cy="84.60" rx="1.35" ry="1.0" fill="#222" transform="rotate(-25 339.90 84.60)"/>
<ellipse cx="343.20" cy="84.60" rx="1.35" ry="1.0" fill="#222" transform="rotate(-25 343.20 84.60)"/>
<ellipse cx="346.50" cy="84.60" rx="1.35" ry="1.0" fill="#222" transform="rotate(-25 346.50 84.60)"/>
<text x="339.20" y="71.31" font-size="8.4" fill="#222" text-anchor="middle" stroke="#222" stroke-width="0.18" textLength="28" lengthAdjust="spacingAndGlyphs" >OECM-1</text>
<line x1="325.30" y1="72.80" x2="353.50" y2="72.80" stroke="#888" stroke-width="1.2" />
<line x1="398.20" y1="83.00" x2="398.20" y2="144.40" stroke="#555" stroke-width="0.9" />
<line x1="398.20" y1="144.40" x2="453.50" y2="144.40" stroke="#555" stroke-width="0.9" />
<line x1="396.60" y1="144.40" x2="398.20" y2="144.40" stroke="#555" stroke-width="0.8" />
<text x="395.80" y="146.33" font-size="5.4" fill="#555" text-anchor="end" stroke="#555" stroke-width="0.18" textLength="6.8" lengthAdjust="spacingAndGlyphs" >0.0</text>
<line x1="396.60" y1="124.27" x2="398.20" y2="124.27" stroke="#555" stroke-width="0.8" />
<text x="395.80" y="126.20" font-size="5.4" fill="#555" text-anchor="end" stroke="#555" stroke-width="0.18" textLength="6.8" lengthAdjust="spacingAndGlyphs" >0.5</text>
<line x1="396.60" y1="104.13" x2="398.20" y2="104.13" stroke="#555" stroke-width="0.8" />
<text x="395.80" y="106.07" font-size="5.4" fill="#555" text-anchor="end" stroke="#555" stroke-width="0.18" textLength="6.8" lengthAdjust="spacingAndGlyphs" >1.0</text>
<line x1="396.60" y1="84.00" x2="398.20" y2="84.00" stroke="#555" stroke-width="0.8" />
<text x="395.80" y="85.93" font-size="5.4" fill="#555" text-anchor="end" stroke="#555" stroke-width="0.18" textLength="6.8" lengthAdjust="spacingAndGlyphs" >1.5</text>
<rect x="408.60" y="104.13" width="14.30" height="40.27" fill="#000" stroke="#000" stroke-width="0.5" />
<line x1="415.75" y1="101.31" x2="415.75" y2="104.13" stroke="#000" stroke-width="0.8" />
<line x1="411.10" y1="101.31" x2="420.40" y2="101.31" stroke="#000" stroke-width="0.8" />
<text x="414.80" y="156.86" font-size="8" fill="#111" text-anchor="middle" stroke="#111" stroke-width="0.18" >Vt</text>
<rect x="430.00" y="120.64" width="14.50" height="23.76" fill="#1c4a94" stroke="#000" stroke-width="0.5" />
<line x1="437.25" y1="119.43" x2="437.25" y2="120.64" stroke="#000" stroke-width="0.8" />
<line x1="432.50" y1="119.43" x2="442.00" y2="119.43" stroke="#000" stroke-width="0.8" />
<text x="435.80" y="156.86" font-size="8" fill="#111" text-anchor="middle" stroke="#111" stroke-width="0.18" >sh-M</text>
<path d="M417.6,94.9 L417.6,90.5 L436.7,90.5 L436.7,117.3" fill="none" stroke="#333" stroke-width="0.9" />
<ellipse cx="424.15" cy="84.60" rx="1.35" ry="1.0" fill="#222" transform="rotate(-25 424.15 84.60)"/>
<ellipse cx="427.45" cy="84.60" rx="1.35" ry="1.0" fill="#222" transform="rotate(-25 427.45 84.60)"/>
<ellipse cx="430.75" cy="84.60" rx="1.35" ry="1.0" fill="#222" transform="rotate(-25 430.75 84.60)"/>
<text x="422.60" y="71.51" font-size="8.4" fill="#222" text-anchor="middle" stroke="#222" stroke-width="0.18" textLength="39" lengthAdjust="spacingAndGlyphs" >Detroit 562</text>
<line x1="402.90" y1="73.10" x2="443.00" y2="73.10" stroke="#888" stroke-width="1.2" />
<text transform="translate(299.50,113.30) rotate(-90)" x="0" y="2.94" font-size="8.2" fill="#222" text-anchor="middle" stroke="#222" stroke-width="0.18" textLength="49.5" lengthAdjust="spacingAndGlyphs" >Luciferase (fold)</text>
<text transform="translate(379.80,115.00) rotate(-90)" x="0" y="2.94" font-size="8.2" fill="#222" text-anchor="middle" stroke="#222" stroke-width="0.18" textLength="46" lengthAdjust="spacingAndGlyphs" >Luciferase (fold)</text>
<text x="15.80" y="191.76" font-size="10.5" fill="#111" text-anchor="start" font-weight="bold" textLength="5.8" lengthAdjust="spacingAndGlyphs" >C</text>
<rect x="79.60" y="199.50" width="125.00" height="17.90" fill="#fff" stroke="#c8c8c8" stroke-width="0.9" />
<rect x="96.30" y="206.10" width="5.10" height="5.10" fill="#5b9bd5" />
<text x="103.80" y="211.28" font-size="8.6" fill="#222" text-anchor="start" stroke="#222" stroke-width="0.18" textLength="27.0" lengthAdjust="spacingAndGlyphs" >Vector</text>
<rect x="146.30" y="206.10" width="5.10" height="5.10" fill="#c99a0e" />
<text x="154.70" y="211.28" font-size="8.6" fill="#222" text-anchor="start" stroke="#222" stroke-width="0.18" textLength="36.6" lengthAdjust="spacingAndGlyphs" >Sh-MYH9</text>
<line x1="58.40" y1="223.60" x2="58.40" y2="306.30" stroke="#bfbfbf" stroke-width="0.8" />
<line x1="58.40" y1="223.60" x2="231.70" y2="223.60" stroke="#d0d0d0" stroke-width="0.8" />
<line x1="231.70" y1="223.60" x2="231.70" y2="306.30" stroke="#d0d0d0" stroke-width="0.8" />
<line x1="56.40" y1="306.30" x2="58.40" y2="306.30" stroke="#bfbfbf" stroke-width="0.8" />
<text x="49.30" y="309.38" font-size="8.6" fill="#222" text-anchor="end" stroke="#222" stroke-width="0.18" >0</text>
<line x1="58.40" y1="285.62" x2="231.70" y2="285.62" stroke="#e4e4e4" stroke-width="0.8" />
<line x1="56.40" y1="285.62" x2="58.40" y2="285.62" stroke="#bfbfbf" stroke-width="0.8" />
<text x="49.30" y="288.70" font-size="8.6" fill="#222" text-anchor="end" stroke="#222" stroke-width="0.18" textLength="11" lengthAdjust="spacingAndGlyphs" >0.3</text>
<line x1="58.40" y1="264.95" x2="231.70" y2="264.95" stroke="#e4e4e4" stroke-width="0.8" />
<line x1="56.40" y1="264.95" x2="58.40" y2="264.95" stroke="#bfbfbf" stroke-width="0.8" />
<text x="49.30" y="268.03" font-size="8.6" fill="#222" text-anchor="end" stroke="#222" stroke-width="0.18" textLength="11" lengthAdjust="spacingAndGlyphs" >0.6</text>
<line x1="58.40" y1="244.27" x2="231.70" y2="244.27" stroke="#e4e4e4" stroke-width="0.8" />
<line x1="56.40" y1="244.27" x2="58.40" y2="244.27" stroke="#bfbfbf" stroke-width="0.8" />
<text x="49.30" y="247.35" font-size="8.6" fill="#222" text-anchor="end" stroke="#222" stroke-width="0.18" textLength="11" lengthAdjust="spacingAndGlyphs" >0.9</text>
<line x1="56.40" y1="223.60" x2="58.40" y2="223.60" stroke="#bfbfbf" stroke-width="0.8" />
<text x="49.30" y="226.68" font-size="8.6" fill="#222" text-anchor="end" stroke="#222" stroke-width="0.18" textLength="11" lengthAdjust="spacingAndGlyphs" >1.2</text>
<line x1="58.40" y1="306.30" x2="231.70" y2="306.30" stroke="#bfbfbf" stroke-width="0.8" />
<text transform="translate(25.00,267.00) rotate(-90)" x="0" y="2.94" font-size="8.2" fill="#222" text-anchor="middle" stroke="#222" stroke-width="0.18" textLength="66" lengthAdjust="spacingAndGlyphs" >Expression (fold)</text>
<rect x="66.30" y="237.38" width="6.30" height="68.92" fill="#5b9bd5" />
<rect x="74.50" y="281.97" width="6.30" height="24.33" fill="#c99a0e" />
<line x1="69.45" y1="234.63" x2="69.45" y2="240.14" stroke="#666" stroke-width="0.6" />
<line x1="68.45" y1="234.63" x2="70.45" y2="234.63" stroke="#666" stroke-width="0.6" />
<line x1="68.45" y1="240.14" x2="70.45" y2="240.14" stroke="#666" stroke-width="0.6" />
<line x1="77.65" y1="277.84" x2="77.65" y2="286.11" stroke="#666" stroke-width="0.6" />
<line x1="76.65" y1="277.84" x2="78.65" y2="277.84" stroke="#666" stroke-width="0.6" />
<line x1="76.65" y1="286.11" x2="78.65" y2="286.11" stroke="#666" stroke-width="0.6" />
<ellipse cx="75.30" cy="268.60" rx="1.6" ry="1.15" fill="#111" transform="rotate(-25 75.30 268.60)"/>
<ellipse cx="80.00" cy="268.60" rx="1.6" ry="1.15" fill="#111" transform="rotate(-25 80.00 268.60)"/>
<ellipse cx="84.70" cy="268.60" rx="1.6" ry="1.15" fill="#111" transform="rotate(-25 84.70 268.60)"/>
<text transform="translate(76.20,318.40) rotate(-45)" x="0" y="0" font-size="8.6" fill="#222" stroke="#222" stroke-width="0.1" text-anchor="end">GCLC</text>
<rect x="95.20" y="237.38" width="6.30" height="68.92" fill="#5b9bd5" />
<rect x="103.40" y="284.94" width="6.30" height="21.36" fill="#c99a0e" />
<line x1="98.35" y1="233.94" x2="98.35" y2="240.83" stroke="#666" stroke-width="0.6" />
<line x1="97.35" y1="233.94" x2="99.35" y2="233.94" stroke="#666" stroke-width="0.6" />
<line x1="97.35" y1="240.83" x2="99.35" y2="240.83" stroke="#666" stroke-width="0.6" />
<line x1="106.55" y1="280.80" x2="106.55" y2="289.07" stroke="#666" stroke-width="0.6" />
<line x1="105.55" y1="280.80" x2="107.55" y2="280.80" stroke="#666" stroke-width="0.6" />
<line x1="105.55" y1="289.07" x2="107.55" y2="289.07" stroke="#666" stroke-width="0.6" />
<ellipse cx="104.20" cy="268.60" rx="1.6" ry="1.15" fill="#111" transform="rotate(-25 104.20 268.60)"/>
<ellipse cx="108.90" cy="268.60" rx="1.6" ry="1.15" fill="#111" transform="rotate(-25 108.90 268.60)"/>
<ellipse cx="113.60" cy="268.60" rx="1.6" ry="1.15" fill="#111" transform="rotate(-25 113.60 268.60)"/>
<text transform="translate(105.10,318.40) rotate(-45)" x="0" y="0" font-size="8.6" fill="#222" stroke="#222" stroke-width="0.1" text-anchor="end">GCLM</text>
<rect x="124.30" y="237.38" width="6.30" height="68.92" fill="#5b9bd5" />
<rect x="132.50" y="283.21" width="6.30" height="23.09" fill="#c99a0e" />
<line x1="127.45" y1="233.25" x2="127.45" y2="241.52" stroke="#666" stroke-width="0.6" />
<line x1="126.45" y1="233.25" x2="128.45" y2="233.25" stroke="#666" stroke-width="0.6" />
<line x1="126.45" y1="241.52" x2="128.45" y2="241.52" stroke="#666" stroke-width="0.6" />
<line x1="135.65" y1="279.77" x2="135.65" y2="286.66" stroke="#666" stroke-width="0.6" />
<line x1="134.65" y1="279.77" x2="136.65" y2="279.77" stroke="#666" stroke-width="0.6" />
<line x1="134.65" y1="286.66" x2="136.65" y2="286.66" stroke="#666" stroke-width="0.6" />
<ellipse cx="133.30" cy="268.60" rx="1.6" ry="1.15" fill="#111" transform="rotate(-25 133.30 268.60)"/>
<ellipse cx="138.00" cy="268.60" rx="1.6" ry="1.15" fill="#111" transform="rotate(-25 138.00 268.60)"/>
<ellipse cx="142.70" cy="268.60" rx="1.6" ry="1.15" fill="#111" transform="rotate(-25 142.70 268.60)"/>
<text transform="translate(134.20,318.40) rotate(-45)" x="0" y="0" font-size="8.6" fill="#222" stroke="#222" stroke-width="0.1" text-anchor="end">GPX2</text>
<rect x="152.60" y="237.38" width="6.30" height="68.92" fill="#5b9bd5" />
<rect x="160.80" y="258.06" width="6.30" height="48.24" fill="#c99a0e" />
<line x1="155.75" y1="231.87" x2="155.75" y2="242.90" stroke="#666" stroke-width="0.6" />
<line x1="154.75" y1="231.87" x2="156.75" y2="231.87" stroke="#666" stroke-width="0.6" />
<line x1="154.75" y1="242.90" x2="156.75" y2="242.90" stroke="#666" stroke-width="0.6" />
<line x1="163.95" y1="252.55" x2="163.95" y2="263.57" stroke="#666" stroke-width="0.6" />
<line x1="162.95" y1="252.55" x2="164.95" y2="252.55" stroke="#666" stroke-width="0.6" />
<line x1="162.95" y1="263.57" x2="164.95" y2="263.57" stroke="#666" stroke-width="0.6" />
<ellipse cx="164.20" cy="245.00" rx="1.4" ry="1.0" fill="#111" transform="rotate(-25 164.20 245.00)"/>
<text transform="translate(162.50,318.40) rotate(-45)" x="0" y="0" font-size="8.6" fill="#222" stroke="#222" stroke-width="0.1" text-anchor="end">GSS</text>
<rect x="181.30" y="237.38" width="6.30" height="68.92" fill="#5b9bd5" />
<rect x="189.50" y="245.65" width="6.30" height="60.65" fill="#c99a0e" />
<line x1="184.45" y1="234.63" x2="184.45" y2="240.14" stroke="#666" stroke-width="0.6" />
<line x1="183.45" y1="234.63" x2="185.45" y2="234.63" stroke="#666" stroke-width="0.6" />
<line x1="183.45" y1="240.14" x2="185.45" y2="240.14" stroke="#666" stroke-width="0.6" />
<line x1="192.65" y1="238.76" x2="192.65" y2="252.54" stroke="#666" stroke-width="0.6" />
<line x1="191.65" y1="238.76" x2="193.65" y2="238.76" stroke="#666" stroke-width="0.6" />
<line x1="191.65" y1="252.54" x2="193.65" y2="252.54" stroke="#666" stroke-width="0.6" />
<text transform="translate(191.20,318.40) rotate(-45)" x="0" y="0" font-size="8.6" fill="#222" stroke="#222" stroke-width="0.1" text-anchor="end">MnSOD</text>
<rect x="210.20" y="237.38" width="6.30" height="68.92" fill="#5b9bd5" />
<rect x="218.40" y="261.85" width="6.30" height="44.45" fill="#c99a0e" />
<line x1="213.35" y1="232.56" x2="213.35" y2="242.21" stroke="#666" stroke-width="0.6" />
<line x1="212.35" y1="232.56" x2="214.35" y2="232.56" stroke="#666" stroke-width="0.6" />
<line x1="212.35" y1="242.21" x2="214.35" y2="242.21" stroke="#666" stroke-width="0.6" />
<line x1="221.55" y1="256.34" x2="221.55" y2="267.36" stroke="#666" stroke-width="0.6" />
<line x1="220.55" y1="256.34" x2="222.55" y2="256.34" stroke="#666" stroke-width="0.6" />
<line x1="220.55" y1="267.36" x2="222.55" y2="267.36" stroke="#666" stroke-width="0.6" />
<ellipse cx="221.80" cy="245.00" rx="1.4" ry="1.0" fill="#111" transform="rotate(-25 221.80 245.00)"/>
<text transform="translate(220.10,318.40) rotate(-45)" x="0" y="0" font-size="8.6" fill="#222" stroke="#222" stroke-width="0.1" text-anchor="end">Catalase</text>
<line x1="55.70" y1="349.10" x2="230.00" y2="349.10" stroke="#8f8f8f" stroke-width="1.2" />
<text x="133.00" y="360.38" font-size="8.6" fill="#222" text-anchor="middle" stroke="#222" stroke-width="0.12" textLength="91" lengthAdjust="spacingAndGlyphs" >ROS Scavenge Enzymes</text>
<text x="264.10" y="192.26" font-size="10.5" fill="#111" text-anchor="start" font-weight="bold" textLength="6.9" lengthAdjust="spacingAndGlyphs" >D</text>
<text x="346.00" y="193.91" font-size="8.4" fill="#222" text-anchor="middle" stroke="#222" stroke-width="0.3" textLength="28.6" lengthAdjust="spacingAndGlyphs" >OECM-1</text>
<line x1="321.70" y1="196.90" x2="367.40" y2="196.90" stroke="#aaa" stroke-width="1.2" />
<text x="399.00" y="193.91" font-size="8.4" fill="#222" text-anchor="middle" stroke="#222" stroke-width="0.3" textLength="39.5" lengthAdjust="spacingAndGlyphs" >Detroit 562</text>
<line x1="376.40" y1="196.90" x2="422.10" y2="196.90" stroke="#aaa" stroke-width="1.2" />
<text x="332.20" y="208.21" font-size="8.4" fill="#222" text-anchor="middle" stroke="#222" stroke-width="0.3" textLength="7.6" lengthAdjust="spacingAndGlyphs" >Vt</text>
<text x="356.80" y="208.21" font-size="8.4" fill="#222" text-anchor="middle" stroke="#222" stroke-width="0.3" textLength="19" lengthAdjust="spacingAndGlyphs" >Sh-M</text>
<text x="384.00" y="208.21" font-size="8.4" fill="#222" text-anchor="middle" stroke="#222" stroke-width="0.3" textLength="7.2" lengthAdjust="spacingAndGlyphs" >Vt</text>
<text x="409.00" y="208.21" font-size="8.4" fill="#222" text-anchor="middle" stroke="#222" stroke-width="0.3" textLength="18.3" lengthAdjust="spacingAndGlyphs" >Sh-M</text>
<defs><filter id="bl" x="-20%" y="-50%" width="140%" height="200%"><feGaussianBlur stdDeviation="0.7"/></filter><filter id="bl2" x="-20%" y="-80%" width="140%" height="260%"><feGaussianBlur stdDeviation="1.1"/></filter><linearGradient id="fade" x1="0" y1="0" x2="1" y2="0"><stop offset="0" stop-color="#111"/><stop offset="0.35" stop-color="#222"/><stop offset="1" stop-color="#222" stop-opacity="0"/></linearGradient></defs>
<rect x="321.10" y="212.40" width="47.50" height="16.10" fill="#e8e8e8" stroke="#666" stroke-width="0.85" />
<rect x="375.20" y="212.40" width="46.80" height="16.10" fill="#e6e6e6" stroke="#666" stroke-width="0.85" />
<text x="306.10" y="224.13" font-size="8.6" fill="#1a1a1a" text-anchor="middle" stroke="#1a1a1a" stroke-width="0.2" textLength="18.4" lengthAdjust="spacingAndGlyphs" >GCLC</text>
<line x1="426.10" y1="219.50" x2="431.70" y2="219.50" stroke="#222" stroke-width="1.1" />
<text x="435.50" y="221.98" font-size="8.6" fill="#1a1a1a" text-anchor="start" stroke="#1a1a1a" stroke-width="0.22" textLength="23.7" lengthAdjust="spacingAndGlyphs" >70 kDa</text>
<rect x="321.10" y="233.00" width="47.50" height="15.90" fill="#a9a9a9" stroke="#666" stroke-width="0.85" />
<rect x="375.20" y="233.00" width="46.80" height="15.90" fill="#a4a4a4" stroke="#666" stroke-width="0.85" />
<text x="304.40" y="244.63" font-size="8.6" fill="#1a1a1a" text-anchor="middle" stroke="#1a1a1a" stroke-width="0.2" textLength="21.4" lengthAdjust="spacingAndGlyphs" >GCLM</text>
<line x1="426.10" y1="241.60" x2="431.70" y2="241.60" stroke="#222" stroke-width="1.1" />
<text x="435.50" y="244.08" font-size="8.6" fill="#1a1a1a" text-anchor="start" stroke="#1a1a1a" stroke-width="0.22" textLength="23.7" lengthAdjust="spacingAndGlyphs" >31 kDa</text>
<rect x="321.10" y="253.40" width="47.50" height="16.20" fill="#ececec" stroke="#666" stroke-width="0.85" />
<rect x="375.20" y="253.40" width="46.80" height="16.20" fill="#ebebeb" stroke="#666" stroke-width="0.85" />
<text x="305.90" y="265.18" font-size="8.6" fill="#1a1a1a" text-anchor="middle" stroke="#1a1a1a" stroke-width="0.2" textLength="18.5" lengthAdjust="spacingAndGlyphs" >GPX2</text>
<line x1="426.10" y1="263.20" x2="431.70" y2="263.20" stroke="#222" stroke-width="1.1" />
<text x="435.50" y="265.68" font-size="8.6" fill="#1a1a1a" text-anchor="start" stroke="#1a1a1a" stroke-width="0.22" textLength="23.7" lengthAdjust="spacingAndGlyphs" >22 kDa</text>
<rect x="321.10" y="274.10" width="47.50" height="16.20" fill="#e6e6e6" stroke="#666" stroke-width="0.85" />
<rect x="375.20" y="274.10" width="46.80" height="16.20" fill="#e4e4e4" stroke="#666" stroke-width="0.85" />
<text x="302.60" y="285.88" font-size="8.6" fill="#1a1a1a" text-anchor="middle" stroke="#1a1a1a" stroke-width="0.2" textLength="25.0" lengthAdjust="spacingAndGlyphs" >GAPDH</text>
<line x1="426.10" y1="285.50" x2="431.70" y2="285.50" stroke="#222" stroke-width="1.1" />
<text x="435.50" y="287.98" font-size="8.6" fill="#1a1a1a" text-anchor="start" stroke="#1a1a1a" stroke-width="0.22" textLength="23.7" lengthAdjust="spacingAndGlyphs" >37 kDa</text>
<rect x="330.40" y="217.90" width="13.60" height="5.50" rx="2.75" ry="2.75" fill="#0a0a0a" opacity="1.0" filter="url(#bl)"/>
<rect x="349.3" y="219.3" width="14.5" height="3.6" rx="1.8" fill="url(#fade)" filter="url(#bl)"/>
<rect x="383.60" y="218.00" width="14.00" height="6.40" rx="3.20" ry="3.20" fill="#0a0a0a" opacity="1.0" filter="url(#bl)"/>
<rect x="406.60" y="218.60" width="11.20" height="5.00" rx="2.50" ry="2.50" fill="#0a0a0a" opacity="1.0" filter="url(#bl)"/>
<rect x="328.00" y="238.40" width="15.20" height="5.80" rx="2.90" ry="2.90" fill="#0a0a0a" opacity="1.0" filter="url(#bl)"/>
<rect x="350.00" y="238.80" width="14.60" height="5.20" rx="2.60" ry="2.60" fill="#0a0a0a" opacity="1.0" filter="url(#bl)"/>
<rect x="380.00" y="240.90" width="16.40" height="4.00" rx="2.00" ry="2.00" fill="#0a0a0a" opacity="1.0" filter="url(#bl)"/>
<rect x="402.00" y="240.90" width="16.00" height="4.00" rx="2.00" ry="2.00" fill="#0a0a0a" opacity="1.0" filter="url(#bl)"/>
<rect x="331.40" y="259.90" width="11.00" height="2.80" rx="1.40" ry="1.40" fill="#0a0a0a" opacity="0.9" filter="url(#bl)"/>
<rect x="338.50" y="259.60" width="4.10" height="3.30" rx="1.65" ry="1.65" fill="#0a0a0a" opacity="1.0" filter="url(#bl)"/>
<rect x="349.50" y="260.40" width="10.50" height="1.80" rx="0.90" ry="0.90" fill="#0a0a0a" opacity="0.07" filter="url(#bl)"/>
<rect x="391.20" y="259.50" width="5.80" height="2.90" rx="1.45" ry="1.45" fill="#0a0a0a" opacity="0.95" filter="url(#bl)"/>
<rect x="407.30" y="260.00" width="8.20" height="1.90" rx="0.95" ry="0.95" fill="#0a0a0a" opacity="0.25" filter="url(#bl)"/>
<rect x="324.40" y="278.50" width="18.20" height="7.30" rx="3.65" ry="3.65" fill="#0a0a0a" opacity="1.0" filter="url(#bl)"/>
<rect x="344.00" y="279.00" width="20.80" height="6.20" rx="3.10" ry="3.10" fill="#0a0a0a" opacity="1.0" filter="url(#bl)"/>
<rect x="378.70" y="277.90" width="19.10" height="7.00" rx="3.50" ry="3.50" fill="#0a0a0a" opacity="1.0" filter="url(#bl)"/>
<rect x="399.80" y="278.20" width="19.80" height="6.50" rx="3.25" ry="3.25" fill="#0a0a0a" opacity="1.0" filter="url(#bl)"/>
<ellipse cx="333.50" cy="282.15" rx="7.10" ry="4.15" fill="#0a0a0a" filter="url(#bl)"/>
<ellipse cx="354.40" cy="282.10" rx="8.11" ry="3.60" fill="#0a0a0a" filter="url(#bl)"/>
<ellipse cx="388.25" cy="281.40" rx="7.45" ry="4.30" fill="#0a0a0a" filter="url(#bl)"/>
<ellipse cx="409.70" cy="281.45" rx="7.72" ry="4.05" fill="#0a0a0a" filter="url(#bl)"/>
<line x1="296.20" y1="313.50" x2="296.20" y2="387.20" stroke="#555" stroke-width="0.9" />
<line x1="296.20" y1="387.20" x2="454.00" y2="387.20" stroke="#555" stroke-width="0.9" />
<line x1="294.40" y1="387.20" x2="296.20" y2="387.20" stroke="#555" stroke-width="0.8" />
<text x="293.60" y="390.14" font-size="8.2" fill="#222" text-anchor="end" stroke="#222" stroke-width="0.18" textLength="10.2" lengthAdjust="spacingAndGlyphs" >0.0</text>
<line x1="294.40" y1="375.72" x2="296.20" y2="375.72" stroke="#555" stroke-width="0.8" />
<text x="293.60" y="378.66" font-size="8.2" fill="#222" text-anchor="end" stroke="#222" stroke-width="0.18" textLength="10.2" lengthAdjust="spacingAndGlyphs" >0.2</text>
<line x1="294.40" y1="364.24" x2="296.20" y2="364.24" stroke="#555" stroke-width="0.8" />
<text x="293.60" y="367.18" font-size="8.2" fill="#222" text-anchor="end" stroke="#222" stroke-width="0.18" textLength="10.2" lengthAdjust="spacingAndGlyphs" >0.4</text>
<line x1="294.40" y1="352.76" x2="296.20" y2="352.76" stroke="#555" stroke-width="0.8" />
<text x="293.60" y="355.70" font-size="8.2" fill="#222" text-anchor="end" stroke="#222" stroke-width="0.18" textLength="10.2" lengthAdjust="spacingAndGlyphs" >0.6</text>
<line x1="294.40" y1="341.28" x2="296.20" y2="341.28" stroke="#555" stroke-width="0.8" />
<text x="293.60" y="344.22" font-size="8.2" fill="#222" text-anchor="end" stroke="#222" stroke-width="0.18" textLength="10.2" lengthAdjust="spacingAndGlyphs" >0.8</text>
<line x1="294.40" y1="329.80" x2="296.20" y2="329.80" stroke="#555" stroke-width="0.8" />
<text x="293.60" y="332.74" font-size="8.2" fill="#222" text-anchor="end" stroke="#222" stroke-width="0.18" textLength="10.2" lengthAdjust="spacingAndGlyphs" >1.0</text>
<text transform="translate(272.30,356.60) rotate(-90)" x="0" y="3.08" font-size="8.6" fill="#222" text-anchor="middle" stroke="#222" stroke-width="0.3" textLength="63" lengthAdjust="spacingAndGlyphs" >Expression (fold)</text>
<rect x="304.50" y="329.80" width="10.40" height="57.40" fill="#bdd7ee" />
<rect x="314.90" y="368.83" width="10.40" height="18.37" fill="#2e75b6" />
<line x1="320.10" y1="365.39" x2="320.10" y2="368.83" stroke="#999" stroke-width="0.7" />
<line x1="319.10" y1="365.39" x2="321.10" y2="365.39" stroke="#999" stroke-width="0.7" />
<rect x="325.30" y="329.80" width="10.40" height="57.40" fill="#c5e0b4" />
<rect x="335.70" y="360.22" width="10.40" height="26.98" fill="#548235" />
<line x1="340.90" y1="355.63" x2="340.90" y2="360.22" stroke="#999" stroke-width="0.7" />
<line x1="339.90" y1="355.63" x2="341.90" y2="355.63" stroke="#999" stroke-width="0.7" />
<text x="324.70" y="309.18" font-size="8.6" fill="#1a1a1a" text-anchor="middle" stroke="#1a1a1a" stroke-width="0.3" textLength="20.2" lengthAdjust="spacingAndGlyphs" >GCLC</text>
<line x1="305.30" y1="312.40" x2="343.90" y2="312.40" stroke="#888" stroke-width="1.1" />
<ellipse cx="311.50" cy="320.20" rx="1.3" ry="1.0" fill="#111" transform="rotate(-25 311.50 320.20)"/>
<ellipse cx="315.40" cy="320.20" rx="1.3" ry="1.0" fill="#111" transform="rotate(-25 315.40 320.20)"/>
<ellipse cx="319.30" cy="320.20" rx="1.3" ry="1.0" fill="#111" transform="rotate(-25 319.30 320.20)"/>
<line x1="308.90" y1="324.40" x2="320.90" y2="324.40" stroke="#d8d8d8" stroke-width="0.6" />
<ellipse cx="332.30" cy="320.20" rx="1.3" ry="1.0" fill="#111" transform="rotate(-25 332.30 320.20)"/>
<ellipse cx="336.20" cy="320.20" rx="1.3" ry="1.0" fill="#111" transform="rotate(-25 336.20 320.20)"/>
<ellipse cx="340.10" cy="320.20" rx="1.3" ry="1.0" fill="#111" transform="rotate(-25 340.10 320.20)"/>
<line x1="329.70" y1="324.40" x2="341.70" y2="324.40" stroke="#d8d8d8" stroke-width="0.6" />
<text x="307.90" y="397.68" font-size="8.6" fill="#222" text-anchor="middle" stroke="#222" stroke-width="0.2" >V</text>
<text x="319.50" y="397.68" font-size="8.6" fill="#222" text-anchor="middle" stroke="#222" stroke-width="0.2" >sh</text>
<text x="331.10" y="397.68" font-size="8.6" fill="#222" text-anchor="middle" stroke="#222" stroke-width="0.2" >V</text>
<text x="342.40" y="397.68" font-size="8.6" fill="#222" text-anchor="middle" stroke="#222" stroke-width="0.2" >sh</text>
<line x1="306.00" y1="400.10" x2="321.40" y2="400.10" stroke="#999" stroke-width="1.0" />
<line x1="329.00" y1="400.10" x2="344.10" y2="400.10" stroke="#999" stroke-width="1.0" />
<text x="314.40" y="411.68" font-size="8.6" fill="#222" text-anchor="middle" stroke="#222" stroke-width="0.2" textLength="16" lengthAdjust="spacingAndGlyphs" >OEC</text>
<text x="337.80" y="411.68" font-size="8.6" fill="#222" text-anchor="middle" stroke="#222" stroke-width="0.2" textLength="12.6" lengthAdjust="spacingAndGlyphs" >Det</text>
<rect x="356.00" y="329.80" width="10.40" height="57.40" fill="#bdd7ee" />
<rect x="366.40" y="357.35" width="10.40" height="29.85" fill="#2e75b6" />
<line x1="371.60" y1="355.06" x2="371.60" y2="357.35" stroke="#999" stroke-width="0.7" />
<line x1="370.60" y1="355.06" x2="372.60" y2="355.06" stroke="#999" stroke-width="0.7" />
<rect x="376.80" y="329.80" width="10.40" height="57.40" fill="#c5e0b4" />
<rect x="387.20" y="345.87" width="10.40" height="41.33" fill="#548235" />
<line x1="392.40" y1="342.43" x2="392.40" y2="345.87" stroke="#999" stroke-width="0.7" />
<line x1="391.40" y1="342.43" x2="393.40" y2="342.43" stroke="#999" stroke-width="0.7" />
<text x="376.65" y="309.18" font-size="8.6" fill="#1a1a1a" text-anchor="middle" stroke="#1a1a1a" stroke-width="0.3" textLength="23.1" lengthAdjust="spacingAndGlyphs" >GCLM</text>
<line x1="357.30" y1="312.40" x2="396.40" y2="312.40" stroke="#888" stroke-width="1.1" />
<ellipse cx="364.95" cy="320.20" rx="1.3" ry="1.0" fill="#111" transform="rotate(-25 364.95 320.20)"/>
<ellipse cx="368.85" cy="320.20" rx="1.3" ry="1.0" fill="#111" transform="rotate(-25 368.85 320.20)"/>
<line x1="360.40" y1="324.40" x2="372.40" y2="324.40" stroke="#d8d8d8" stroke-width="0.6" />
<ellipse cx="387.70" cy="320.20" rx="1.3" ry="1.0" fill="#111" transform="rotate(-25 387.70 320.20)"/>
<line x1="381.20" y1="324.40" x2="393.20" y2="324.40" stroke="#d8d8d8" stroke-width="0.6" />
<text x="359.40" y="397.68" font-size="8.6" fill="#222" text-anchor="middle" stroke="#222" stroke-width="0.2" >V</text>
<text x="371.00" y="397.68" font-size="8.6" fill="#222" text-anchor="middle" stroke="#222" stroke-width="0.2" >sh</text>
<text x="382.60" y="397.68" font-size="8.6" fill="#222" text-anchor="middle" stroke="#222" stroke-width="0.2" >V</text>
<text x="393.90" y="397.68" font-size="8.6" fill="#222" text-anchor="middle" stroke="#222" stroke-width="0.2" >sh</text>
<line x1="357.50" y1="400.10" x2="372.90" y2="400.10" stroke="#999" stroke-width="1.0" />
<line x1="380.50" y1="400.10" x2="395.60" y2="400.10" stroke="#999" stroke-width="1.0" />
<text x="365.90" y="411.68" font-size="8.6" fill="#222" text-anchor="middle" stroke="#222" stroke-width="0.2" textLength="16" lengthAdjust="spacingAndGlyphs" >OEC</text>
<text x="389.30" y="411.68" font-size="8.6" fill="#222" text-anchor="middle" stroke="#222" stroke-width="0.2" textLength="12.6" lengthAdjust="spacingAndGlyphs" >Det</text>
<rect x="409.30" y="329.80" width="10.40" height="57.40" fill="#bdd7ee" />
<rect x="419.70" y="356.20" width="10.40" height="31.00" fill="#2e75b6" />
<line x1="424.90" y1="349.89" x2="424.90" y2="356.20" stroke="#999" stroke-width="0.7" />
<line x1="423.90" y1="349.89" x2="425.90" y2="349.89" stroke="#999" stroke-width="0.7" />
<rect x="430.10" y="329.80" width="10.40" height="57.40" fill="#c5e0b4" />
<rect x="440.50" y="344.15" width="10.40" height="43.05" fill="#548235" />
<line x1="445.70" y1="338.98" x2="445.70" y2="344.15" stroke="#999" stroke-width="0.7" />
<line x1="444.70" y1="338.98" x2="446.70" y2="338.98" stroke="#999" stroke-width="0.7" />
<text x="428.00" y="309.18" font-size="8.6" fill="#1a1a1a" text-anchor="middle" stroke="#1a1a1a" stroke-width="0.3" textLength="20.5" lengthAdjust="spacingAndGlyphs" >GPX2</text>
<line x1="409.80" y1="312.40" x2="448.90" y2="312.40" stroke="#888" stroke-width="1.1" />
<ellipse cx="418.25" cy="320.20" rx="1.3" ry="1.0" fill="#111" transform="rotate(-25 418.25 320.20)"/>
<ellipse cx="422.15" cy="320.20" rx="1.3" ry="1.0" fill="#111" transform="rotate(-25 422.15 320.20)"/>
<line x1="413.70" y1="324.40" x2="425.70" y2="324.40" stroke="#d8d8d8" stroke-width="0.6" />
<ellipse cx="441.00" cy="320.20" rx="1.3" ry="1.0" fill="#111" transform="rotate(-25 441.00 320.20)"/>
<line x1="434.50" y1="324.40" x2="446.50" y2="324.40" stroke="#d8d8d8" stroke-width="0.6" />
<text x="412.70" y="397.68" font-size="8.6" fill="#222" text-anchor="middle" stroke="#222" stroke-width="0.2" >V</text>
<text x="424.30" y="397.68" font-size="8.6" fill="#222" text-anchor="middle" stroke="#222" stroke-width="0.2" >sh</text>
<text x="435.90" y="397.68" font-size="8.6" fill="#222" text-anchor="middle" stroke="#222" stroke-width="0.2" >V</text>
<text x="447.20" y="397.68" font-size="8.6" fill="#222" text-anchor="middle" stroke="#222" stroke-width="0.2" >sh</text>
<line x1="410.80" y1="400.10" x2="426.20" y2="400.10" stroke="#999" stroke-width="1.0" />
<line x1="433.80" y1="400.10" x2="448.90" y2="400.10" stroke="#999" stroke-width="1.0" />
<text x="419.20" y="411.68" font-size="8.6" fill="#222" text-anchor="middle" stroke="#222" stroke-width="0.2" textLength="16" lengthAdjust="spacingAndGlyphs" >OEC</text>
<text x="442.60" y="411.68" font-size="8.6" fill="#222" text-anchor="middle" stroke="#222" stroke-width="0.2" textLength="12.6" lengthAdjust="spacingAndGlyphs" >Det</text>
<text x="14.20" y="438.36" font-size="10.5" fill="#111" text-anchor="start" font-weight="bold" textLength="5.3" lengthAdjust="spacingAndGlyphs" >E</text>
<text x="52.90" y="451.25" font-size="7.4" fill="#d42f3a" text-anchor="middle" stroke="#d42f3a" stroke-width="0.12" textLength="13.8" lengthAdjust="spacingAndGlyphs" >GCLC</text>
<line x1="45.90" y1="451.50" x2="59.90" y2="451.50" stroke="#d42f3a" stroke-width="0.7" />
<rect x="31.50" y="455.30" width="42.50" height="74.70" fill="#fff" stroke="#9a9a9a" stroke-width="0.8" />
<line x1="30.10" y1="457.80" x2="31.50" y2="457.80" stroke="#666" stroke-width="0.6" />
<text transform="translate(27.30,457.80) rotate(-90)" x="0" y="1.22" font-size="3.4" fill="#444" text-anchor="middle" stroke="#444" stroke-width="0.18" >8</text>
<line x1="30.10" y1="474.00" x2="31.50" y2="474.00" stroke="#666" stroke-width="0.6" />
<text transform="translate(27.30,474.00) rotate(-90)" x="0" y="1.22" font-size="3.4" fill="#444" text-anchor="middle" stroke="#444" stroke-width="0.18" >6</text>
<line x1="30.10" y1="490.00" x2="31.50" y2="490.00" stroke="#666" stroke-width="0.6" />
<text transform="translate(27.30,490.00) rotate(-90)" x="0" y="1.22" font-size="3.4" fill="#444" text-anchor="middle" stroke="#444" stroke-width="0.18" >4</text>
<line x1="30.10" y1="506.00" x2="31.50" y2="506.00" stroke="#666" stroke-width="0.6" />
<text transform="translate(27.30,506.00) rotate(-90)" x="0" y="1.22" font-size="3.4" fill="#444" text-anchor="middle" stroke="#444" stroke-width="0.18" >2</text>
<line x1="30.10" y1="522.00" x2="31.50" y2="522.00" stroke="#666" stroke-width="0.6" />
<text transform="translate(27.30,522.00) rotate(-90)" x="0" y="1.22" font-size="3.4" fill="#444" text-anchor="middle" stroke="#444" stroke-width="0.18" >0</text>
<line x1="46.40" y1="466.00" x2="46.40" y2="491.50" stroke="#aaa" stroke-width="0.45" />
<line x1="46.40" y1="504.80" x2="46.40" y2="524.60" stroke="#aaa" stroke-width="0.45" />
<line x1="44.20" y1="466.00" x2="48.60" y2="466.00" stroke="#999" stroke-width="0.5" />
<line x1="44.20" y1="524.60" x2="48.60" y2="524.60" stroke="#999" stroke-width="0.5" />
<line x1="59.55" y1="486.80" x2="59.55" y2="499.10" stroke="#aaa" stroke-width="0.45" />
<line x1="59.55" y1="508.70" x2="59.55" y2="522.60" stroke="#aaa" stroke-width="0.45" />
<line x1="57.35" y1="486.80" x2="61.75" y2="486.80" stroke="#999" stroke-width="0.5" />
<line x1="57.35" y1="522.60" x2="61.75" y2="522.60" stroke="#999" stroke-width="0.5" />
<rect x="41.10" y="491.50" width="10.60" height="13.30" fill="#f46464" stroke="#c84848" stroke-width="0.5" />
<rect x="54.00" y="499.10" width="11.10" height="9.60" fill="#7a7a7a" stroke="#5a5a5a" stroke-width="0.4" />
<circle cx="45.60" cy="498.74" r="0.5" fill="#222" stroke="none" opacity="0.7"/>
<circle cx="46.65" cy="499.53" r="0.5" fill="#222" stroke="none" opacity="0.7"/>
<circle cx="47.30" cy="467.67" r="0.5" fill="none" stroke="#555" stroke-width="0.35"/>
<circle cx="46.07" cy="502.64" r="0.5" fill="#222" stroke="none" opacity="0.7"/>
<circle cx="45.54" cy="494.62" r="0.5" fill="#222" stroke="none" opacity="0.7"/>
<circle cx="46.34" cy="514.77" r="0.5" fill="none" stroke="#555" stroke-width="0.35"/>
<circle cx="46.83" cy="514.90" r="0.5" fill="none" stroke="#555" stroke-width="0.35"/>
<circle cx="47.39" cy="469.84" r="0.5" fill="none" stroke="#555" stroke-width="0.35"/>
<circle cx="46.51" cy="488.14" r="0.5" fill="none" stroke="#555" stroke-width="0.35"/>
<circle cx="46.12" cy="501.36" r="0.5" fill="#222" stroke="none" opacity="0.7"/>
<circle cx="46.27" cy="467.63" r="0.5" fill="none" stroke="#555" stroke-width="0.35"/>
<circle cx="46.77" cy="481.07" r="0.5" fill="none" stroke="#555" stroke-width="0.35"/>
<circle cx="46.33" cy="491.91" r="0.5" fill="#222" stroke="none" opacity="0.7"/>
<circle cx="46.15" cy="514.82" r="0.5" fill="none" stroke="#555" stroke-width="0.35"/>
<circle cx="47.68" cy="488.41" r="0.5" fill="none" stroke="#555" stroke-width="0.35"/>
<circle cx="46.11" cy="489.49" r="0.5" fill="none" stroke="#555" stroke-width="0.35"/>
<circle cx="46.46" cy="502.15" r="0.5" fill="#222" stroke="none" opacity="0.7"/>
<circle cx="46.49" cy="503.94" r="0.5" fill="#222" stroke="none" opacity="0.7"/>
<circle cx="46.79" cy="506.87" r="0.5" fill="#222" stroke="none" opacity="0.55"/>
<circle cx="46.55" cy="494.39" r="0.5" fill="#222" stroke="none" opacity="0.7"/>
<circle cx="46.41" cy="514.05" r="0.5" fill="none" stroke="#555" stroke-width="0.35"/>
<circle cx="46.62" cy="473.68" r="0.5" fill="none" stroke="#555" stroke-width="0.35"/>
<circle cx="45.72" cy="496.63" r="0.5" fill="#222" stroke="none" opacity="0.7"/>
<circle cx="46.56" cy="499.28" r="0.5" fill="#222" stroke="none" opacity="0.7"/>
<circle cx="46.83" cy="503.53" r="0.5" fill="#222" stroke="none" opacity="0.7"/>
<circle cx="45.49" cy="489.69" r="0.5" fill="none" stroke="#555" stroke-width="0.35"/>
<circle cx="45.07" cy="525.81" r="0.5" fill="none" stroke="#555" stroke-width="0.35"/>
<circle cx="46.40" cy="470.16" r="0.5" fill="none" stroke="#555" stroke-width="0.35"/>
<circle cx="45.70" cy="525.25" r="0.5" fill="none" stroke="#555" stroke-width="0.35"/>
<circle cx="46.59" cy="516.87" r="0.5" fill="none" stroke="#555" stroke-width="0.35"/>
<circle cx="49.37" cy="471.38" r="0.5" fill="none" stroke="#555" stroke-width="0.35"/>
<circle cx="46.36" cy="516.96" r="0.5" fill="none" stroke="#555" stroke-width="0.35"/>
<circle cx="46.95" cy="492.34" r="0.5" fill="#222" stroke="none" opacity="0.7"/>
<circle cx="45.21" cy="525.78" r="0.5" fill="none" stroke="#555" stroke-width="0.35"/>
<circle cx="46.21" cy="502.15" r="0.5" fill="#222" stroke="none" opacity="0.7"/>
<circle cx="46.83" cy="493.51" r="0.5" fill="#222" stroke="none" opacity="0.7"/>
<circle cx="46.34" cy="501.72" r="0.5" fill="#222" stroke="none" opacity="0.7"/>
<circle cx="46.73" cy="505.74" r="0.5" fill="none" stroke="#555" stroke-width="0.35"/>
<circle cx="44.99" cy="467.15" r="0.5" fill="none" stroke="#555" stroke-width="0.35"/>
<circle cx="47.42" cy="474.44" r="0.5" fill="none" stroke="#555" stroke-width="0.35"/>
<circle cx="44.69" cy="525.59" r="0.5" fill="none" stroke="#555" stroke-width="0.35"/>
<circle cx="47.47" cy="504.78" r="0.5" fill="#222" stroke="none" opacity="0.7"/>
<circle cx="46.41" cy="492.52" r="0.5" fill="#222" stroke="none" opacity="0.7"/>
<circle cx="46.38" cy="491.92" r="0.5" fill="#222" stroke="none" opacity="0.7"/>
<circle cx="46.76" cy="496.93" r="0.5" fill="#222" stroke="none" opacity="0.7"/>
<circle cx="48.31" cy="469.98" r="0.5" fill="none" stroke="#555" stroke-width="0.35"/>
<circle cx="44.61" cy="503.04" r="0.5" fill="#222" stroke="none" opacity="0.7"/>
<circle cx="46.74" cy="504.25" r="0.5" fill="#222" stroke="none" opacity="0.7"/>
<circle cx="46.12" cy="512.81" r="0.5" fill="none" stroke="#555" stroke-width="0.35"/>
<circle cx="46.55" cy="498.42" r="0.5" fill="#222" stroke="none" opacity="0.7"/>
<circle cx="46.53" cy="481.19" r="0.5" fill="none" stroke="#555" stroke-width="0.35"/>
<circle cx="45.89" cy="499.75" r="0.5" fill="#222" stroke="none" opacity="0.7"/>
<circle cx="47.09" cy="515.55" r="0.5" fill="none" stroke="#555" stroke-width="0.35"/>
<circle cx="46.70" cy="501.08" r="0.5" fill="#222" stroke="none" opacity="0.7"/>
<circle cx="47.47" cy="495.50" r="0.5" fill="#222" stroke="none" opacity="0.7"/>
<circle cx="46.06" cy="515.85" r="0.5" fill="none" stroke="#555" stroke-width="0.35"/>
<circle cx="46.76" cy="491.65" r="0.5" fill="#222" stroke="none" opacity="0.7"/>
<circle cx="46.73" cy="499.21" r="0.5" fill="#222" stroke="none" opacity="0.7"/>
<circle cx="46.58" cy="499.69" r="0.5" fill="#222" stroke="none" opacity="0.7"/>
<circle cx="46.59" cy="467.53" r="0.5" fill="none" stroke="#555" stroke-width="0.35"/>
<circle cx="46.56" cy="477.89" r="0.5" fill="none" stroke="#555" stroke-width="0.35"/>
<circle cx="45.86" cy="474.99" r="0.5" fill="none" stroke="#555" stroke-width="0.35"/>
<circle cx="46.00" cy="484.82" r="0.5" fill="#222" stroke="none" opacity="0.55"/>
<circle cx="46.54" cy="492.31" r="0.5" fill="#222" stroke="none" opacity="0.7"/>
<circle cx="47.28" cy="490.56" r="0.5" fill="none" stroke="#555" stroke-width="0.35"/>
<circle cx="47.08" cy="497.57" r="0.5" fill="#222" stroke="none" opacity="0.7"/>
<circle cx="46.91" cy="495.76" r="0.5" fill="#222" stroke="none" opacity="0.7"/>
<circle cx="46.85" cy="495.66" r="0.5" fill="#222" stroke="none" opacity="0.7"/>
<circle cx="46.52" cy="499.42" r="0.5" fill="#222" stroke="none" opacity="0.7"/>
<circle cx="46.90" cy="496.52" r="0.5" fill="#222" stroke="none" opacity="0.7"/>
<circle cx="48.00" cy="466.69" r="0.5" fill="none" stroke="#555" stroke-width="0.35"/>
<circle cx="46.19" cy="501.28" r="0.5" fill="#222" stroke="none" opacity="0.7"/>
<circle cx="45.95" cy="494.46" r="0.5" fill="#222" stroke="none" opacity="0.7"/>
<circle cx="47.67" cy="509.86" r="0.5" fill="#222" stroke="none" opacity="0.55"/>
<circle cx="45.40" cy="497.29" r="0.5" fill="#222" stroke="none" opacity="0.7"/>
<circle cx="47.49" cy="468.60" r="0.5" fill="none" stroke="#555" stroke-width="0.35"/>
<circle cx="46.21" cy="495.94" r="0.5" fill="#222" stroke="none" opacity="0.7"/>
<circle cx="46.08" cy="514.09" r="0.5" fill="none" stroke="#555" stroke-width="0.35"/>
<circle cx="46.56" cy="508.39" r="0.5" fill="none" stroke="#555" stroke-width="0.35"/>
<circle cx="46.89" cy="500.15" r="0.5" fill="#222" stroke="none" opacity="0.7"/>
<circle cx="46.51" cy="514.36" r="0.5" fill="none" stroke="#555" stroke-width="0.35"/>
<circle cx="45.83" cy="493.11" r="0.5" fill="#222" stroke="none" opacity="0.7"/>
<circle cx="46.33" cy="494.04" r="0.5" fill="#222" stroke="none" opacity="0.7"/>
<circle cx="46.74" cy="522.58" r="0.5" fill="none" stroke="#555" stroke-width="0.35"/>
<circle cx="47.13" cy="495.21" r="0.5" fill="#222" stroke="none" opacity="0.7"/>
<circle cx="47.04" cy="518.41" r="0.5" fill="none" stroke="#555" stroke-width="0.35"/>
<circle cx="45.90" cy="512.12" r="0.5" fill="#222" stroke="none" opacity="0.55"/>
<circle cx="46.03" cy="495.38" r="0.5" fill="#222" stroke="none" opacity="0.7"/>
<circle cx="44.22" cy="472.91" r="0.5" fill="none" stroke="#555" stroke-width="0.35"/>
<circle cx="46.88" cy="497.04" r="0.5" fill="#222" stroke="none" opacity="0.7"/>
<circle cx="45.55" cy="496.95" r="0.5" fill="#222" stroke="none" opacity="0.7"/>
<circle cx="46.52" cy="508.11" r="0.5" fill="none" stroke="#555" stroke-width="0.35"/>
<circle cx="46.55" cy="504.05" r="0.5" fill="#222" stroke="none" opacity="0.7"/>
<circle cx="46.88" cy="525.72" r="0.5" fill="none" stroke="#555" stroke-width="0.35"/>
<circle cx="47.41" cy="504.14" r="0.5" fill="#222" stroke="none" opacity="0.7"/>
<circle cx="45.75" cy="509.51" r="0.5" fill="#222" stroke="none" opacity="0.55"/>
<circle cx="46.30" cy="487.34" r="0.5" fill="#222" stroke="none" opacity="0.55"/>
<circle cx="44.27" cy="479.23" r="0.5" fill="none" stroke="#555" stroke-width="0.35"/>
<circle cx="46.92" cy="496.04" r="0.5" fill="#222" stroke="none" opacity="0.7"/>
<circle cx="47.90" cy="492.41" r="0.5" fill="#222" stroke="none" opacity="0.7"/>
<circle cx="47.05" cy="495.32" r="0.5" fill="#222" stroke="none" opacity="0.7"/>
<circle cx="45.80" cy="505.76" r="0.5" fill="#222" stroke="none" opacity="0.55"/>
<circle cx="46.60" cy="519.51" r="0.5" fill="none" stroke="#555" stroke-width="0.35"/>
<circle cx="46.55" cy="523.81" r="0.5" fill="none" stroke="#555" stroke-width="0.35"/>
<circle cx="47.05" cy="517.03" r="0.5" fill="none" stroke="#555" stroke-width="0.35"/>
<circle cx="46.29" cy="501.41" r="0.5" fill="#222" stroke="none" opacity="0.7"/>
<circle cx="46.26" cy="495.49" r="0.5" fill="#222" stroke="none" opacity="0.7"/>
<circle cx="45.73" cy="479.39" r="0.5" fill="none" stroke="#555" stroke-width="0.35"/>
<circle cx="46.79" cy="503.99" r="0.5" fill="#222" stroke="none" opacity="0.7"/>
<circle cx="45.32" cy="474.70" r="0.5" fill="none" stroke="#555" stroke-width="0.35"/>
<circle cx="46.29" cy="502.96" r="0.5" fill="#222" stroke="none" opacity="0.7"/>
<circle cx="46.79" cy="501.90" r="0.5" fill="#222" stroke="none" opacity="0.7"/>
<circle cx="46.35" cy="494.12" r="0.5" fill="#222" stroke="none" opacity="0.7"/>
<circle cx="46.16" cy="502.36" r="0.5" fill="#222" stroke="none" opacity="0.7"/>
<circle cx="46.51" cy="502.03" r="0.5" fill="#222" stroke="none" opacity="0.7"/>
<circle cx="47.54" cy="521.89" r="0.5" fill="none" stroke="#555" stroke-width="0.35"/>
<circle cx="45.85" cy="504.96" r="0.5" fill="none" stroke="#555" stroke-width="0.35"/>
<circle cx="45.92" cy="488.00" r="0.5" fill="none" stroke="#555" stroke-width="0.35"/>
<circle cx="46.43" cy="495.11" r="0.5" fill="#222" stroke="none" opacity="0.7"/>
<circle cx="46.51" cy="498.51" r="0.5" fill="#222" stroke="none" opacity="0.7"/>
<circle cx="46.32" cy="497.79" r="0.5" fill="#222" stroke="none" opacity="0.7"/>
<circle cx="47.37" cy="466.05" r="0.5" fill="none" stroke="#555" stroke-width="0.35"/>
<circle cx="46.78" cy="493.19" r="0.5" fill="#222" stroke="none" opacity="0.7"/>
<circle cx="46.55" cy="492.41" r="0.5" fill="#222" stroke="none" opacity="0.7"/>
<circle cx="45.60" cy="522.91" r="0.5" fill="none" stroke="#555" stroke-width="0.35"/>
<circle cx="47.02" cy="498.18" r="0.5" fill="#222" stroke="none" opacity="0.7"/>
<circle cx="46.82" cy="495.68" r="0.5" fill="#222" stroke="none" opacity="0.7"/>
<circle cx="46.85" cy="500.10" r="0.5" fill="#222" stroke="none" opacity="0.7"/>
<circle cx="47.81" cy="496.30" r="0.5" fill="#222" stroke="none" opacity="0.7"/>
<circle cx="45.25" cy="495.87" r="0.5" fill="#222" stroke="none" opacity="0.7"/>
<circle cx="45.85" cy="498.89" r="0.5" fill="#222" stroke="none" opacity="0.7"/>
<circle cx="45.25" cy="475.70" r="0.5" fill="none" stroke="#555" stroke-width="0.35"/>
<circle cx="46.09" cy="493.87" r="0.5" fill="#222" stroke="none" opacity="0.7"/>
<circle cx="46.22" cy="499.54" r="0.5" fill="#222" stroke="none" opacity="0.7"/>
<circle cx="46.57" cy="475.70" r="0.5" fill="none" stroke="#555" stroke-width="0.35"/>
<circle cx="46.44" cy="518.01" r="0.5" fill="none" stroke="#555" stroke-width="0.35"/>
<circle cx="47.25" cy="496.45" r="0.5" fill="#222" stroke="none" opacity="0.7"/>
<circle cx="45.86" cy="500.85" r="0.5" fill="#222" stroke="none" opacity="0.7"/>
<circle cx="46.53" cy="500.73" r="0.5" fill="#222" stroke="none" opacity="0.7"/>
<circle cx="46.37" cy="494.76" r="0.5" fill="#222" stroke="none" opacity="0.7"/>
<circle cx="45.91" cy="500.75" r="0.5" fill="#222" stroke="none" opacity="0.7"/>
<circle cx="45.84" cy="497.15" r="0.5" fill="#222" stroke="none" opacity="0.7"/>
<circle cx="46.33" cy="503.20" r="0.5" fill="#222" stroke="none" opacity="0.7"/>
<circle cx="45.62" cy="512.73" r="0.5" fill="none" stroke="#555" stroke-width="0.35"/>
<circle cx="47.41" cy="521.57" r="0.5" fill="none" stroke="#555" stroke-width="0.35"/>
<circle cx="46.77" cy="497.67" r="0.5" fill="#222" stroke="none" opacity="0.7"/>
<circle cx="46.29" cy="502.32" r="0.5" fill="#222" stroke="none" opacity="0.7"/>
<circle cx="44.47" cy="488.63" r="0.5" fill="none" stroke="#555" stroke-width="0.35"/>
<circle cx="46.94" cy="483.02" r="0.5" fill="none" stroke="#555" stroke-width="0.35"/>
<circle cx="45.01" cy="480.38" r="0.5" fill="#222" stroke="none" opacity="0.55"/>
<circle cx="45.85" cy="499.32" r="0.5" fill="#222" stroke="none" opacity="0.7"/>
<circle cx="45.12" cy="493.41" r="0.5" fill="#222" stroke="none" opacity="0.7"/>
<circle cx="47.04" cy="467.13" r="0.5" fill="none" stroke="#555" stroke-width="0.35"/>
<circle cx="45.91" cy="492.82" r="0.5" fill="#222" stroke="none" opacity="0.7"/>
<circle cx="47.17" cy="508.60" r="0.5" fill="none" stroke="#555" stroke-width="0.35"/>
<circle cx="45.76" cy="502.69" r="0.5" fill="#222" stroke="none" opacity="0.7"/>
<circle cx="45.95" cy="502.72" r="0.5" fill="#222" stroke="none" opacity="0.7"/>
<circle cx="45.95" cy="487.32" r="0.5" fill="#222" stroke="none" opacity="0.55"/>
<circle cx="46.11" cy="517.08" r="0.5" fill="none" stroke="#555" stroke-width="0.35"/>
<circle cx="46.17" cy="466.92" r="0.5" fill="none" stroke="#555" stroke-width="0.35"/>
<circle cx="44.58" cy="479.04" r="0.5" fill="none" stroke="#555" stroke-width="0.35"/>
<circle cx="44.21" cy="468.72" r="0.5" fill="none" stroke="#555" stroke-width="0.35"/>
<circle cx="46.28" cy="489.83" r="0.5" fill="none" stroke="#555" stroke-width="0.35"/>
<circle cx="45.76" cy="495.81" r="0.5" fill="#222" stroke="none" opacity="0.7"/>
<circle cx="46.32" cy="502.51" r="0.5" fill="#222" stroke="none" opacity="0.7"/>
<circle cx="45.55" cy="493.89" r="0.5" fill="#222" stroke="none" opacity="0.7"/>
<circle cx="45.24" cy="499.69" r="0.5" fill="#222" stroke="none" opacity="0.7"/>
<circle cx="47.03" cy="476.04" r="0.5" fill="none" stroke="#555" stroke-width="0.35"/>
<circle cx="47.34" cy="496.78" r="0.5" fill="#222" stroke="none" opacity="0.7"/>
<circle cx="46.94" cy="497.06" r="0.5" fill="#222" stroke="none" opacity="0.7"/>
<circle cx="47.27" cy="498.15" r="0.5" fill="#222" stroke="none" opacity="0.7"/>
<circle cx="46.63" cy="513.55" r="0.5" fill="none" stroke="#555" stroke-width="0.35"/>
<circle cx="45.75" cy="470.10" r="0.5" fill="none" stroke="#555" stroke-width="0.35"/>
<circle cx="46.48" cy="485.28" r="0.5" fill="none" stroke="#555" stroke-width="0.35"/>
<circle cx="45.16" cy="479.19" r="0.5" fill="none" stroke="#555" stroke-width="0.35"/>
<circle cx="46.42" cy="500.05" r="0.5" fill="#222" stroke="none" opacity="0.7"/>
<circle cx="46.40" cy="507.97" r="0.5" fill="none" stroke="#555" stroke-width="0.35"/>
<circle cx="46.50" cy="501.45" r="0.5" fill="#222" stroke="none" opacity="0.7"/>
<circle cx="45.97" cy="515.77" r="0.5" fill="none" stroke="#555" stroke-width="0.35"/>
<circle cx="47.33" cy="501.06" r="0.5" fill="#222" stroke="none" opacity="0.7"/>
<circle cx="46.52" cy="495.06" r="0.5" fill="#222" stroke="none" opacity="0.7"/>
<circle cx="46.78" cy="499.29" r="0.5" fill="#222" stroke="none" opacity="0.7"/>
<circle cx="47.19" cy="494.59" r="0.5" fill="#222" stroke="none" opacity="0.7"/>
<circle cx="45.87" cy="490.31" r="0.5" fill="#222" stroke="none" opacity="0.55"/>
<circle cx="46.85" cy="500.88" r="0.5" fill="#222" stroke="none" opacity="0.7"/>
<circle cx="46.04" cy="502.85" r="0.5" fill="#222" stroke="none" opacity="0.7"/>
<circle cx="46.18" cy="495.05" r="0.5" fill="#222" stroke="none" opacity="0.7"/>
<circle cx="46.03" cy="491.81" r="0.5" fill="#222" stroke="none" opacity="0.7"/>
<circle cx="45.33" cy="496.59" r="0.5" fill="#222" stroke="none" opacity="0.7"/>
<circle cx="46.90" cy="496.29" r="0.5" fill="#222" stroke="none" opacity="0.7"/>
<circle cx="47.55" cy="501.80" r="0.5" fill="#222" stroke="none" opacity="0.7"/>
<circle cx="45.71" cy="504.68" r="0.5" fill="#222" stroke="none" opacity="0.7"/>
<circle cx="45.76" cy="499.47" r="0.5" fill="#222" stroke="none" opacity="0.7"/>
<circle cx="46.97" cy="502.60" r="0.5" fill="#222" stroke="none" opacity="0.7"/>
<circle cx="46.20" cy="516.61" r="0.5" fill="none" stroke="#555" stroke-width="0.35"/>
<circle cx="46.72" cy="501.09" r="0.5" fill="#222" stroke="none" opacity="0.7"/>
<circle cx="44.69" cy="513.29" r="0.5" fill="none" stroke="#555" stroke-width="0.35"/>
<circle cx="46.44" cy="490.49" r="0.5" fill="none" stroke="#555" stroke-width="0.35"/>
<circle cx="46.02" cy="494.55" r="0.5" fill="#222" stroke="none" opacity="0.7"/>
<circle cx="44.86" cy="501.05" r="0.5" fill="#222" stroke="none" opacity="0.7"/>
<circle cx="46.75" cy="490.45" r="0.5" fill="#222" stroke="none" opacity="0.55"/>
<circle cx="47.02" cy="509.93" r="0.5" fill="#222" stroke="none" opacity="0.55"/>
<circle cx="46.55" cy="494.94" r="0.5" fill="#222" stroke="none" opacity="0.7"/>
<circle cx="47.05" cy="500.87" r="0.5" fill="#222" stroke="none" opacity="0.7"/>
<circle cx="45.66" cy="523.87" r="0.5" fill="none" stroke="#555" stroke-width="0.35"/>
<circle cx="45.86" cy="503.01" r="0.5" fill="#222" stroke="none" opacity="0.7"/>
<circle cx="45.90" cy="497.13" r="0.5" fill="#222" stroke="none" opacity="0.7"/>
<circle cx="47.98" cy="468.19" r="0.5" fill="none" stroke="#555" stroke-width="0.35"/>
<circle cx="47.11" cy="502.59" r="0.5" fill="#222" stroke="none" opacity="0.7"/>
<circle cx="46.32" cy="496.24" r="0.5" fill="#222" stroke="none" opacity="0.7"/>
<circle cx="46.55" cy="500.48" r="0.5" fill="#222" stroke="none" opacity="0.7"/>
<circle cx="46.47" cy="495.95" r="0.5" fill="#222" stroke="none" opacity="0.7"/>
<circle cx="46.53" cy="497.96" r="0.5" fill="#222" stroke="none" opacity="0.7"/>
<circle cx="46.26" cy="499.28" r="0.5" fill="#222" stroke="none" opacity="0.7"/>
<circle cx="46.10" cy="513.09" r="0.5" fill="none" stroke="#555" stroke-width="0.35"/>
<circle cx="45.58" cy="493.09" r="0.5" fill="#222" stroke="none" opacity="0.7"/>
<circle cx="45.98" cy="500.35" r="0.5" fill="#222" stroke="none" opacity="0.7"/>
<circle cx="47.47" cy="503.30" r="0.5" fill="#222" stroke="none" opacity="0.7"/>
<circle cx="46.87" cy="506.85" r="0.5" fill="#222" stroke="none" opacity="0.55"/>
<circle cx="46.94" cy="512.73" r="0.5" fill="#222" stroke="none" opacity="0.55"/>
<circle cx="46.44" cy="485.31" r="0.5" fill="none" stroke="#555" stroke-width="0.35"/>
<circle cx="46.76" cy="500.49" r="0.5" fill="#222" stroke="none" opacity="0.7"/>
<circle cx="45.91" cy="486.55" r="0.5" fill="#222" stroke="none" opacity="0.55"/>
<circle cx="45.89" cy="501.53" r="0.5" fill="#222" stroke="none" opacity="0.7"/>
<circle cx="45.50" cy="519.06" r="0.5" fill="none" stroke="#555" stroke-width="0.35"/>
<circle cx="45.71" cy="493.01" r="0.5" fill="#222" stroke="none" opacity="0.7"/>
<circle cx="46.98" cy="496.18" r="0.5" fill="#222" stroke="none" opacity="0.7"/>
<circle cx="44.28" cy="483.30" r="0.5" fill="none" stroke="#555" stroke-width="0.35"/>
<circle cx="46.63" cy="493.92" r="0.5" fill="#222" stroke="none" opacity="0.7"/>
<circle cx="47.10" cy="482.09" r="0.5" fill="#222" stroke="none" opacity="0.55"/>
<circle cx="61.24" cy="507.63" r="0.45" fill="none" stroke="#777" stroke-width="0.3"/>
<circle cx="59.66" cy="484.97" r="0.45" fill="none" stroke="#777" stroke-width="0.3"/>
<circle cx="59.34" cy="510.72" r="0.45" fill="none" stroke="#777" stroke-width="0.3"/>
<circle cx="58.63" cy="505.99" r="0.45" fill="none" stroke="#777" stroke-width="0.3"/>
<circle cx="59.36" cy="504.38" r="0.45" fill="none" stroke="#777" stroke-width="0.3"/>
<circle cx="60.92" cy="490.32" r="0.45" fill="none" stroke="#777" stroke-width="0.3"/>
<circle cx="58.96" cy="500.71" r="0.45" fill="none" stroke="#777" stroke-width="0.3"/>
<circle cx="57.83" cy="505.94" r="0.45" fill="none" stroke="#777" stroke-width="0.3"/>
<circle cx="57.65" cy="491.69" r="0.45" fill="none" stroke="#777" stroke-width="0.3"/>
<circle cx="57.89" cy="488.75" r="0.45" fill="none" stroke="#777" stroke-width="0.3"/>
<circle cx="57.47" cy="502.72" r="0.45" fill="none" stroke="#777" stroke-width="0.3"/>
<circle cx="61.20" cy="509.30" r="0.45" fill="none" stroke="#777" stroke-width="0.3"/>
<circle cx="60.08" cy="501.40" r="0.45" fill="none" stroke="#777" stroke-width="0.3"/>
<circle cx="59.19" cy="488.67" r="0.45" fill="none" stroke="#777" stroke-width="0.3"/>
<circle cx="61.74" cy="502.91" r="0.45" fill="none" stroke="#777" stroke-width="0.3"/>
<circle cx="58.56" cy="506.49" r="0.45" fill="none" stroke="#777" stroke-width="0.3"/>
<circle cx="60.68" cy="507.21" r="0.45" fill="none" stroke="#777" stroke-width="0.3"/>
<circle cx="60.75" cy="501.62" r="0.45" fill="none" stroke="#777" stroke-width="0.3"/>
<circle cx="57.23" cy="500.09" r="0.45" fill="none" stroke="#777" stroke-width="0.3"/>
<circle cx="57.21" cy="494.64" r="0.45" fill="none" stroke="#777" stroke-width="0.3"/>
<circle cx="58.16" cy="500.83" r="0.45" fill="none" stroke="#777" stroke-width="0.3"/>
<circle cx="60.91" cy="506.21" r="0.45" fill="none" stroke="#777" stroke-width="0.3"/>
<circle cx="61.49" cy="519.41" r="0.45" fill="none" stroke="#777" stroke-width="0.3"/>
<circle cx="57.71" cy="500.42" r="0.45" fill="none" stroke="#777" stroke-width="0.3"/>
<circle cx="61.12" cy="500.88" r="0.45" fill="none" stroke="#777" stroke-width="0.3"/>
<line x1="41.10" y1="498.60" x2="51.70" y2="498.60" stroke="#222" stroke-width="0.9" />
<line x1="54.00" y1="503.10" x2="65.10" y2="503.10" stroke="#222" stroke-width="0.9" />
<line x1="42.90" y1="461.50" x2="63.90" y2="461.50" stroke="#bbb" stroke-width="0.8" stroke-dasharray="1.2 0.6"/>
<text x="53.40" y="460.29" font-size="5" fill="#555" text-anchor="middle" stroke="#555" stroke-width="0.18" >*</text>
<text x="43.70" y="539.73" font-size="6.8" fill="#1a1a1a" text-anchor="middle" stroke="#1a1a1a" stroke-width="0.1" textLength="14.2" lengthAdjust="spacingAndGlyphs" >Tumor</text>
<text x="64.85" y="539.73" font-size="6.8" fill="#1a1a1a" text-anchor="middle" stroke="#1a1a1a" stroke-width="0.1" textLength="17.3" lengthAdjust="spacingAndGlyphs" >Normal</text>
<text transform="translate(21.80,493.65) rotate(-90)" x="0" y="2.3" font-size="6.2" fill="#222" text-anchor="middle" textLength="56" lengthAdjust="spacingAndGlyphs">Expression  log<tspan font-size="4" dy="1.5">2</tspan><tspan dy="-1.5">(TPM+1)</tspan></text>
<text x="114.50" y="451.25" font-size="7.4" fill="#d42f3a" text-anchor="middle" stroke="#d42f3a" stroke-width="0.12" textLength="13.8" lengthAdjust="spacingAndGlyphs" >GCLM</text>
<line x1="107.50" y1="451.50" x2="121.50" y2="451.50" stroke="#d42f3a" stroke-width="0.7" />
<rect x="94.30" y="455.30" width="41.40" height="74.00" fill="#fff" stroke="#9a9a9a" stroke-width="0.8" />
<line x1="92.90" y1="461.40" x2="94.30" y2="461.40" stroke="#666" stroke-width="0.6" />
<text transform="translate(90.10,461.40) rotate(-90)" x="0" y="1.22" font-size="3.4" fill="#444" text-anchor="middle" stroke="#444" stroke-width="0.18" >8</text>
<line x1="92.90" y1="479.10" x2="94.30" y2="479.10" stroke="#666" stroke-width="0.6" />
<text transform="translate(90.10,479.10) rotate(-90)" x="0" y="1.22" font-size="3.4" fill="#444" text-anchor="middle" stroke="#444" stroke-width="0.18" >6</text>
<line x1="92.90" y1="496.50" x2="94.30" y2="496.50" stroke="#666" stroke-width="0.6" />
<text transform="translate(90.10,496.50) rotate(-90)" x="0" y="1.22" font-size="3.4" fill="#444" text-anchor="middle" stroke="#444" stroke-width="0.18" >4</text>
<line x1="92.90" y1="513.50" x2="94.30" y2="513.50" stroke="#666" stroke-width="0.6" />
<text transform="translate(90.10,513.50) rotate(-90)" x="0" y="1.22" font-size="3.4" fill="#444" text-anchor="middle" stroke="#444" stroke-width="0.18" >2</text>
<line x1="108.75" y1="465.00" x2="108.75" y2="491.10" stroke="#aaa" stroke-width="0.45" />
<line x1="108.75" y1="504.50" x2="108.75" y2="525.00" stroke="#aaa" stroke-width="0.45" />
<line x1="106.55" y1="465.00" x2="110.95" y2="465.00" stroke="#999" stroke-width="0.5" />
<line x1="106.55" y1="525.00" x2="110.95" y2="525.00" stroke="#999" stroke-width="0.5" />
<line x1="121.55" y1="487.50" x2="121.55" y2="496.70" stroke="#aaa" stroke-width="0.45" />
<line x1="121.55" y1="505.80" x2="121.55" y2="518.00" stroke="#aaa" stroke-width="0.45" />
<line x1="119.35" y1="487.50" x2="123.75" y2="487.50" stroke="#999" stroke-width="0.5" />
<line x1="119.35" y1="518.00" x2="123.75" y2="518.00" stroke="#999" stroke-width="0.5" />
<rect x="103.50" y="491.10" width="10.50" height="13.40" fill="#f46464" stroke="#c84848" stroke-width="0.5" />
<rect x="116.30" y="496.70" width="10.50" height="9.10" fill="#7a7a7a" stroke="#5a5a5a" stroke-width="0.4" />
<circle cx="107.81" cy="498.72" r="0.5" fill="#222" stroke="none" opacity="0.7"/>
<circle cx="108.90" cy="494.45" r="0.5" fill="#222" stroke="none" opacity="0.7"/>
<circle cx="108.50" cy="463.85" r="0.5" fill="none" stroke="#555" stroke-width="0.35"/>
<circle cx="108.32" cy="521.88" r="0.5" fill="none" stroke="#555" stroke-width="0.35"/>
<circle cx="108.38" cy="511.97" r="0.5" fill="#222" stroke="none" opacity="0.55"/>
<circle cx="109.12" cy="498.91" r="0.5" fill="#222" stroke="none" opacity="0.7"/>
<circle cx="108.30" cy="490.45" r="0.5" fill="none" stroke="#555" stroke-width="0.35"/>
<circle cx="107.61" cy="471.41" r="0.5" fill="none" stroke="#555" stroke-width="0.35"/>
<circle cx="107.51" cy="513.94" r="0.5" fill="none" stroke="#555" stroke-width="0.35"/>
<circle cx="108.41" cy="483.42" r="0.5" fill="#222" stroke="none" opacity="0.55"/>
<circle cx="108.39" cy="501.42" r="0.5" fill="#222" stroke="none" opacity="0.7"/>
<circle cx="108.95" cy="476.82" r="0.5" fill="none" stroke="#555" stroke-width="0.35"/>
<circle cx="108.94" cy="497.27" r="0.5" fill="#222" stroke="none" opacity="0.7"/>
<circle cx="108.62" cy="498.20" r="0.5" fill="#222" stroke="none" opacity="0.7"/>
<circle cx="108.86" cy="497.81" r="0.5" fill="#222" stroke="none" opacity="0.7"/>
<circle cx="108.43" cy="475.48" r="0.5" fill="none" stroke="#555" stroke-width="0.35"/>
<circle cx="108.52" cy="503.95" r="0.5" fill="#222" stroke="none" opacity="0.7"/>
<circle cx="108.21" cy="507.14" r="0.5" fill="#222" stroke="none" opacity="0.55"/>
<circle cx="109.07" cy="480.51" r="0.5" fill="none" stroke="#555" stroke-width="0.35"/>
<circle cx="108.78" cy="495.92" r="0.5" fill="#222" stroke="none" opacity="0.7"/>
<circle cx="109.42" cy="492.14" r="0.5" fill="#222" stroke="none" opacity="0.7"/>
<circle cx="108.36" cy="503.56" r="0.5" fill="#222" stroke="none" opacity="0.7"/>
<circle cx="110.36" cy="502.76" r="0.5" fill="#222" stroke="none" opacity="0.7"/>
<circle cx="110.19" cy="466.78" r="0.5" fill="none" stroke="#555" stroke-width="0.35"/>
<circle cx="109.17" cy="516.22" r="0.5" fill="none" stroke="#555" stroke-width="0.35"/>
<circle cx="108.61" cy="518.46" r="0.5" fill="none" stroke="#555" stroke-width="0.35"/>
<circle cx="108.32" cy="472.65" r="0.5" fill="none" stroke="#555" stroke-width="0.35"/>
<circle cx="108.97" cy="522.67" r="0.5" fill="none" stroke="#555" stroke-width="0.35"/>
<circle cx="108.27" cy="513.02" r="0.5" fill="none" stroke="#555" stroke-width="0.35"/>
<circle cx="109.91" cy="476.63" r="0.5" fill="none" stroke="#555" stroke-width="0.35"/>
<circle cx="109.27" cy="491.67" r="0.5" fill="#222" stroke="none" opacity="0.7"/>
<circle cx="109.61" cy="493.78" r="0.5" fill="#222" stroke="none" opacity="0.7"/>
<circle cx="109.13" cy="497.76" r="0.5" fill="#222" stroke="none" opacity="0.7"/>
<circle cx="108.92" cy="478.10" r="0.5" fill="none" stroke="#555" stroke-width="0.35"/>
<circle cx="109.01" cy="499.80" r="0.5" fill="#222" stroke="none" opacity="0.7"/>
<circle cx="108.15" cy="497.32" r="0.5" fill="#222" stroke="none" opacity="0.7"/>
<circle cx="107.69" cy="474.28" r="0.5" fill="none" stroke="#555" stroke-width="0.35"/>
<circle cx="109.18" cy="503.15" r="0.5" fill="#222" stroke="none" opacity="0.7"/>
<circle cx="107.87" cy="473.31" r="0.5" fill="none" stroke="#555" stroke-width="0.35"/>
<circle cx="108.84" cy="498.19" r="0.5" fill="#222" stroke="none" opacity="0.7"/>
<circle cx="109.78" cy="494.10" r="0.5" fill="#222" stroke="none" opacity="0.7"/>
<circle cx="108.95" cy="493.90" r="0.5" fill="#222" stroke="none" opacity="0.7"/>
<circle cx="111.16" cy="467.03" r="0.5" fill="none" stroke="#555" stroke-width="0.35"/>
<circle cx="108.39" cy="493.72" r="0.5" fill="#222" stroke="none" opacity="0.7"/>
<circle cx="108.43" cy="493.39" r="0.5" fill="#222" stroke="none" opacity="0.7"/>
<circle cx="108.23" cy="493.35" r="0.5" fill="#222" stroke="none" opacity="0.7"/>
<circle cx="108.10" cy="492.57" r="0.5" fill="#222" stroke="none" opacity="0.7"/>
<circle cx="109.50" cy="497.67" r="0.5" fill="#222" stroke="none" opacity="0.7"/>
<circle cx="108.60" cy="491.40" r="0.5" fill="#222" stroke="none" opacity="0.7"/>
<circle cx="108.47" cy="496.56" r="0.5" fill="#222" stroke="none" opacity="0.7"/>
<circle cx="108.83" cy="464.44" r="0.5" fill="none" stroke="#555" stroke-width="0.35"/>
<circle cx="109.36" cy="496.41" r="0.5" fill="#222" stroke="none" opacity="0.7"/>
<circle cx="107.57" cy="504.04" r="0.5" fill="#222" stroke="none" opacity="0.7"/>
<circle cx="108.67" cy="492.36" r="0.5" fill="#222" stroke="none" opacity="0.7"/>
<circle cx="108.59" cy="493.31" r="0.5" fill="#222" stroke="none" opacity="0.7"/>
<circle cx="108.75" cy="472.73" r="0.5" fill="none" stroke="#555" stroke-width="0.35"/>
<circle cx="109.05" cy="491.80" r="0.5" fill="#222" stroke="none" opacity="0.7"/>
<circle cx="107.89" cy="470.73" r="0.5" fill="none" stroke="#555" stroke-width="0.35"/>
<circle cx="108.12" cy="476.08" r="0.5" fill="none" stroke="#555" stroke-width="0.35"/>
<circle cx="108.70" cy="510.36" r="0.5" fill="#222" stroke="none" opacity="0.55"/>
<circle cx="107.90" cy="494.66" r="0.5" fill="#222" stroke="none" opacity="0.7"/>
<circle cx="109.75" cy="516.77" r="0.5" fill="none" stroke="#555" stroke-width="0.35"/>
<circle cx="109.41" cy="492.36" r="0.5" fill="#222" stroke="none" opacity="0.7"/>
<circle cx="109.24" cy="490.24" r="0.5" fill="#222" stroke="none" opacity="0.55"/>
<circle cx="108.69" cy="491.15" r="0.5" fill="#222" stroke="none" opacity="0.7"/>
<circle cx="108.58" cy="492.31" r="0.5" fill="#222" stroke="none" opacity="0.7"/>
<circle cx="108.65" cy="491.59" r="0.5" fill="#222" stroke="none" opacity="0.7"/>
<circle cx="109.34" cy="499.87" r="0.5" fill="#222" stroke="none" opacity="0.7"/>
<circle cx="109.70" cy="508.41" r="0.5" fill="none" stroke="#555" stroke-width="0.35"/>
<circle cx="109.07" cy="513.80" r="0.5" fill="none" stroke="#555" stroke-width="0.35"/>
<circle cx="108.94" cy="522.39" r="0.5" fill="none" stroke="#555" stroke-width="0.35"/>
<circle cx="109.26" cy="505.17" r="0.5" fill="#222" stroke="none" opacity="0.55"/>
<circle cx="109.47" cy="499.23" r="0.5" fill="#222" stroke="none" opacity="0.7"/>
<circle cx="108.49" cy="506.21" r="0.5" fill="none" stroke="#555" stroke-width="0.35"/>
<circle cx="109.48" cy="502.49" r="0.5" fill="#222" stroke="none" opacity="0.7"/>
<circle cx="110.03" cy="496.32" r="0.5" fill="#222" stroke="none" opacity="0.7"/>
<circle cx="108.47" cy="500.21" r="0.5" fill="#222" stroke="none" opacity="0.7"/>
<circle cx="109.19" cy="507.91" r="0.5" fill="none" stroke="#555" stroke-width="0.35"/>
<circle cx="109.46" cy="483.62" r="0.5" fill="none" stroke="#555" stroke-width="0.35"/>
<circle cx="108.78" cy="515.29" r="0.5" fill="none" stroke="#555" stroke-width="0.35"/>
<circle cx="108.39" cy="511.58" r="0.5" fill="none" stroke="#555" stroke-width="0.35"/>
<circle cx="109.16" cy="494.17" r="0.5" fill="#222" stroke="none" opacity="0.7"/>
<circle cx="109.01" cy="476.51" r="0.5" fill="none" stroke="#555" stroke-width="0.35"/>
<circle cx="108.76" cy="493.37" r="0.5" fill="#222" stroke="none" opacity="0.7"/>
<circle cx="111.98" cy="480.02" r="0.5" fill="none" stroke="#555" stroke-width="0.35"/>
<circle cx="108.42" cy="473.87" r="0.5" fill="none" stroke="#555" stroke-width="0.35"/>
<circle cx="108.61" cy="493.16" r="0.5" fill="#222" stroke="none" opacity="0.7"/>
<circle cx="108.75" cy="463.64" r="0.5" fill="none" stroke="#555" stroke-width="0.35"/>
<circle cx="108.25" cy="501.26" r="0.5" fill="#222" stroke="none" opacity="0.7"/>
<circle cx="110.17" cy="465.73" r="0.5" fill="none" stroke="#555" stroke-width="0.35"/>
<circle cx="109.21" cy="502.40" r="0.5" fill="#222" stroke="none" opacity="0.7"/>
<circle cx="107.94" cy="487.69" r="0.5" fill="#222" stroke="none" opacity="0.55"/>
<circle cx="107.74" cy="513.27" r="0.5" fill="none" stroke="#555" stroke-width="0.35"/>
<circle cx="108.58" cy="518.79" r="0.5" fill="none" stroke="#555" stroke-width="0.35"/>
<circle cx="108.40" cy="496.06" r="0.5" fill="#222" stroke="none" opacity="0.7"/>
<circle cx="108.39" cy="496.45" r="0.5" fill="#222" stroke="none" opacity="0.7"/>
<circle cx="109.17" cy="506.55" r="0.5" fill="none" stroke="#555" stroke-width="0.35"/>
<circle cx="108.51" cy="492.58" r="0.5" fill="#222" stroke="none" opacity="0.7"/>
<circle cx="108.41" cy="499.80" r="0.5" fill="#222" stroke="none" opacity="0.7"/>
<circle cx="110.03" cy="491.75" r="0.5" fill="#222" stroke="none" opacity="0.7"/>
<circle cx="108.47" cy="499.74" r="0.5" fill="#222" stroke="none" opacity="0.7"/>
<circle cx="110.29" cy="491.26" r="0.5" fill="#222" stroke="none" opacity="0.7"/>
<circle cx="107.75" cy="504.06" r="0.5" fill="#222" stroke="none" opacity="0.7"/>
<circle cx="108.65" cy="498.64" r="0.5" fill="#222" stroke="none" opacity="0.7"/>
<circle cx="108.62" cy="501.57" r="0.5" fill="#222" stroke="none" opacity="0.7"/>
<circle cx="108.32" cy="485.16" r="0.5" fill="#222" stroke="none" opacity="0.55"/>
<circle cx="108.72" cy="493.62" r="0.5" fill="#222" stroke="none" opacity="0.7"/>
<circle cx="109.74" cy="492.16" r="0.5" fill="#222" stroke="none" opacity="0.7"/>
<circle cx="110.02" cy="506.69" r="0.5" fill="none" stroke="#555" stroke-width="0.35"/>
<circle cx="109.75" cy="504.05" r="0.5" fill="#222" stroke="none" opacity="0.7"/>
<circle cx="108.33" cy="503.07" r="0.5" fill="#222" stroke="none" opacity="0.7"/>
<circle cx="108.98" cy="497.33" r="0.5" fill="#222" stroke="none" opacity="0.7"/>
<circle cx="107.09" cy="502.21" r="0.5" fill="#222" stroke="none" opacity="0.7"/>
<circle cx="109.47" cy="481.03" r="0.5" fill="#222" stroke="none" opacity="0.55"/>
<circle cx="110.77" cy="487.49" r="0.5" fill="none" stroke="#555" stroke-width="0.35"/>
<circle cx="107.95" cy="499.18" r="0.5" fill="#222" stroke="none" opacity="0.7"/>
<circle cx="108.79" cy="492.59" r="0.5" fill="#222" stroke="none" opacity="0.7"/>
<circle cx="107.82" cy="516.09" r="0.5" fill="none" stroke="#555" stroke-width="0.35"/>
<circle cx="109.68" cy="508.52" r="0.5" fill="#222" stroke="none" opacity="0.55"/>
<circle cx="108.08" cy="497.32" r="0.5" fill="#222" stroke="none" opacity="0.7"/>
<circle cx="108.02" cy="465.17" r="0.5" fill="none" stroke="#555" stroke-width="0.35"/>
<circle cx="108.46" cy="497.59" r="0.5" fill="#222" stroke="none" opacity="0.7"/>
<circle cx="108.03" cy="498.51" r="0.5" fill="#222" stroke="none" opacity="0.7"/>
<circle cx="109.83" cy="474.88" r="0.5" fill="none" stroke="#555" stroke-width="0.35"/>
<circle cx="109.77" cy="480.02" r="0.5" fill="#222" stroke="none" opacity="0.55"/>
<circle cx="108.86" cy="495.80" r="0.5" fill="#222" stroke="none" opacity="0.7"/>
<circle cx="109.32" cy="511.04" r="0.5" fill="none" stroke="#555" stroke-width="0.35"/>
<circle cx="107.42" cy="492.23" r="0.5" fill="#222" stroke="none" opacity="0.7"/>
<circle cx="109.43" cy="493.31" r="0.5" fill="#222" stroke="none" opacity="0.7"/>
<circle cx="108.16" cy="518.66" r="0.5" fill="none" stroke="#555" stroke-width="0.35"/>
<circle cx="108.96" cy="523.74" r="0.5" fill="none" stroke="#555" stroke-width="0.35"/>
<circle cx="108.13" cy="489.17" r="0.5" fill="#222" stroke="none" opacity="0.55"/>
<circle cx="108.41" cy="496.71" r="0.5" fill="#222" stroke="none" opacity="0.7"/>
<circle cx="109.37" cy="522.11" r="0.5" fill="none" stroke="#555" stroke-width="0.35"/>
<circle cx="110.01" cy="513.94" r="0.5" fill="none" stroke="#555" stroke-width="0.35"/>
<circle cx="108.20" cy="474.44" r="0.5" fill="none" stroke="#555" stroke-width="0.35"/>
<circle cx="107.54" cy="522.45" r="0.5" fill="none" stroke="#555" stroke-width="0.35"/>
<circle cx="108.52" cy="503.62" r="0.5" fill="#222" stroke="none" opacity="0.7"/>
<circle cx="109.32" cy="492.38" r="0.5" fill="#222" stroke="none" opacity="0.7"/>
<circle cx="109.54" cy="471.27" r="0.5" fill="none" stroke="#555" stroke-width="0.35"/>
<circle cx="108.55" cy="499.67" r="0.5" fill="#222" stroke="none" opacity="0.7"/>
<circle cx="108.13" cy="501.09" r="0.5" fill="#222" stroke="none" opacity="0.7"/>
<circle cx="108.77" cy="496.89" r="0.5" fill="#222" stroke="none" opacity="0.7"/>
<circle cx="109.41" cy="501.04" r="0.5" fill="#222" stroke="none" opacity="0.7"/>
<circle cx="108.14" cy="471.07" r="0.5" fill="none" stroke="#555" stroke-width="0.35"/>
<circle cx="109.63" cy="495.11" r="0.5" fill="#222" stroke="none" opacity="0.7"/>
<circle cx="108.93" cy="492.14" r="0.5" fill="#222" stroke="none" opacity="0.7"/>
<circle cx="108.97" cy="501.32" r="0.5" fill="#222" stroke="none" opacity="0.7"/>
<circle cx="108.38" cy="490.44" r="0.5" fill="#222" stroke="none" opacity="0.55"/>
<circle cx="107.32" cy="521.58" r="0.5" fill="none" stroke="#555" stroke-width="0.35"/>
<circle cx="107.93" cy="493.26" r="0.5" fill="#222" stroke="none" opacity="0.7"/>
<circle cx="107.47" cy="497.31" r="0.5" fill="#222" stroke="none" opacity="0.7"/>
<circle cx="108.64" cy="498.36" r="0.5" fill="#222" stroke="none" opacity="0.7"/>
<circle cx="108.87" cy="502.53" r="0.5" fill="#222" stroke="none" opacity="0.7"/>
<circle cx="108.05" cy="497.31" r="0.5" fill="#222" stroke="none" opacity="0.7"/>
<circle cx="108.82" cy="520.24" r="0.5" fill="none" stroke="#555" stroke-width="0.35"/>
<circle cx="109.16" cy="494.35" r="0.5" fill="#222" stroke="none" opacity="0.7"/>
<circle cx="109.62" cy="504.70" r="0.5" fill="#222" stroke="none" opacity="0.55"/>
<circle cx="108.79" cy="498.21" r="0.5" fill="#222" stroke="none" opacity="0.7"/>
<circle cx="109.33" cy="493.32" r="0.5" fill="#222" stroke="none" opacity="0.7"/>
<circle cx="108.83" cy="493.83" r="0.5" fill="#222" stroke="none" opacity="0.7"/>
<circle cx="108.71" cy="476.09" r="0.5" fill="none" stroke="#555" stroke-width="0.35"/>
<circle cx="108.28" cy="519.82" r="0.5" fill="none" stroke="#555" stroke-width="0.35"/>
<circle cx="109.16" cy="505.18" r="0.5" fill="#222" stroke="none" opacity="0.55"/>
<circle cx="108.33" cy="491.28" r="0.5" fill="#222" stroke="none" opacity="0.7"/>
<circle cx="108.94" cy="495.63" r="0.5" fill="#222" stroke="none" opacity="0.7"/>
<circle cx="109.42" cy="498.42" r="0.5" fill="#222" stroke="none" opacity="0.7"/>
<circle cx="108.38" cy="495.28" r="0.5" fill="#222" stroke="none" opacity="0.7"/>
<circle cx="108.63" cy="501.85" r="0.5" fill="#222" stroke="none" opacity="0.7"/>
<circle cx="108.38" cy="494.59" r="0.5" fill="#222" stroke="none" opacity="0.7"/>
<circle cx="107.88" cy="496.86" r="0.5" fill="#222" stroke="none" opacity="0.7"/>
<circle cx="109.02" cy="481.97" r="0.5" fill="none" stroke="#555" stroke-width="0.35"/>
<circle cx="108.75" cy="520.27" r="0.5" fill="none" stroke="#555" stroke-width="0.35"/>
<circle cx="109.47" cy="492.92" r="0.5" fill="#222" stroke="none" opacity="0.7"/>
<circle cx="109.07" cy="485.19" r="0.5" fill="none" stroke="#555" stroke-width="0.35"/>
<circle cx="108.34" cy="502.24" r="0.5" fill="#222" stroke="none" opacity="0.7"/>
<circle cx="107.68" cy="494.85" r="0.5" fill="#222" stroke="none" opacity="0.7"/>
<circle cx="108.49" cy="491.33" r="0.5" fill="#222" stroke="none" opacity="0.7"/>
<circle cx="108.31" cy="488.20" r="0.5" fill="#222" stroke="none" opacity="0.55"/>
<circle cx="107.57" cy="513.62" r="0.5" fill="none" stroke="#555" stroke-width="0.35"/>
<circle cx="107.47" cy="489.09" r="0.5" fill="none" stroke="#555" stroke-width="0.35"/>
<circle cx="108.30" cy="516.25" r="0.5" fill="none" stroke="#555" stroke-width="0.35"/>
<circle cx="108.13" cy="498.05" r="0.5" fill="#222" stroke="none" opacity="0.7"/>
<circle cx="109.60" cy="493.55" r="0.5" fill="#222" stroke="none" opacity="0.7"/>
<circle cx="108.14" cy="490.88" r="0.5" fill="#222" stroke="none" opacity="0.55"/>
<circle cx="108.75" cy="496.57" r="0.5" fill="#222" stroke="none" opacity="0.7"/>
<circle cx="108.63" cy="497.20" r="0.5" fill="#222" stroke="none" opacity="0.7"/>
<circle cx="109.21" cy="513.32" r="0.5" fill="none" stroke="#555" stroke-width="0.35"/>
<circle cx="108.27" cy="507.53" r="0.5" fill="#222" stroke="none" opacity="0.55"/>
<circle cx="108.61" cy="498.09" r="0.5" fill="#222" stroke="none" opacity="0.7"/>
<circle cx="109.87" cy="502.50" r="0.5" fill="#222" stroke="none" opacity="0.7"/>
<circle cx="109.21" cy="522.66" r="0.5" fill="none" stroke="#555" stroke-width="0.35"/>
<circle cx="108.28" cy="463.86" r="0.5" fill="none" stroke="#555" stroke-width="0.35"/>
<circle cx="110.24" cy="498.47" r="0.5" fill="#222" stroke="none" opacity="0.7"/>
<circle cx="108.23" cy="494.85" r="0.5" fill="#222" stroke="none" opacity="0.7"/>
<circle cx="108.23" cy="488.62" r="0.5" fill="none" stroke="#555" stroke-width="0.35"/>
<circle cx="109.21" cy="500.06" r="0.5" fill="#222" stroke="none" opacity="0.7"/>
<circle cx="108.41" cy="498.00" r="0.5" fill="#222" stroke="none" opacity="0.7"/>
<circle cx="109.66" cy="523.23" r="0.5" fill="none" stroke="#555" stroke-width="0.35"/>
<circle cx="109.67" cy="468.48" r="0.5" fill="none" stroke="#555" stroke-width="0.35"/>
<circle cx="107.53" cy="508.03" r="0.5" fill="none" stroke="#555" stroke-width="0.35"/>
<circle cx="108.03" cy="502.20" r="0.5" fill="#222" stroke="none" opacity="0.7"/>
<circle cx="107.98" cy="494.73" r="0.5" fill="#222" stroke="none" opacity="0.7"/>
<circle cx="109.40" cy="522.90" r="0.5" fill="none" stroke="#555" stroke-width="0.35"/>
<circle cx="108.69" cy="496.36" r="0.5" fill="#222" stroke="none" opacity="0.7"/>
<circle cx="109.41" cy="492.86" r="0.5" fill="#222" stroke="none" opacity="0.7"/>
<circle cx="108.28" cy="504.23" r="0.5" fill="#222" stroke="none" opacity="0.7"/>
<circle cx="109.19" cy="494.18" r="0.5" fill="#222" stroke="none" opacity="0.7"/>
<circle cx="107.80" cy="492.17" r="0.5" fill="#222" stroke="none" opacity="0.7"/>
<circle cx="109.45" cy="501.06" r="0.5" fill="#222" stroke="none" opacity="0.7"/>
<circle cx="109.04" cy="516.81" r="0.5" fill="none" stroke="#555" stroke-width="0.35"/>
<circle cx="109.14" cy="504.60" r="0.5" fill="#222" stroke="none" opacity="0.55"/>
<circle cx="109.53" cy="503.98" r="0.5" fill="#222" stroke="none" opacity="0.7"/>
<circle cx="108.61" cy="494.69" r="0.5" fill="#222" stroke="none" opacity="0.7"/>
<circle cx="109.92" cy="494.69" r="0.5" fill="#222" stroke="none" opacity="0.7"/>
<circle cx="109.15" cy="491.73" r="0.5" fill="#222" stroke="none" opacity="0.7"/>
<circle cx="109.59" cy="503.93" r="0.5" fill="#222" stroke="none" opacity="0.7"/>
<circle cx="107.89" cy="503.23" r="0.5" fill="#222" stroke="none" opacity="0.7"/>
<circle cx="108.08" cy="504.40" r="0.5" fill="#222" stroke="none" opacity="0.7"/>
<circle cx="109.57" cy="481.18" r="0.5" fill="#222" stroke="none" opacity="0.55"/>
<circle cx="109.60" cy="491.83" r="0.5" fill="#222" stroke="none" opacity="0.7"/>
<circle cx="110.12" cy="467.95" r="0.5" fill="none" stroke="#555" stroke-width="0.35"/>
<circle cx="108.97" cy="502.12" r="0.5" fill="#222" stroke="none" opacity="0.7"/>
<circle cx="108.21" cy="505.45" r="0.5" fill="none" stroke="#555" stroke-width="0.35"/>
<circle cx="109.51" cy="514.93" r="0.5" fill="none" stroke="#555" stroke-width="0.35"/>
<circle cx="108.84" cy="492.53" r="0.5" fill="#222" stroke="none" opacity="0.7"/>
<circle cx="109.15" cy="504.33" r="0.5" fill="#222" stroke="none" opacity="0.7"/>
<circle cx="108.78" cy="492.86" r="0.5" fill="#222" stroke="none" opacity="0.7"/>
<circle cx="109.28" cy="492.80" r="0.5" fill="#222" stroke="none" opacity="0.7"/>
<circle cx="109.63" cy="503.36" r="0.5" fill="#222" stroke="none" opacity="0.7"/>
<circle cx="121.27" cy="498.45" r="0.45" fill="none" stroke="#777" stroke-width="0.3"/>
<circle cx="122.48" cy="524.94" r="0.45" fill="none" stroke="#777" stroke-width="0.3"/>
<circle cx="122.07" cy="510.52" r="0.45" fill="none" stroke="#777" stroke-width="0.3"/>
<circle cx="122.74" cy="505.35" r="0.45" fill="none" stroke="#777" stroke-width="0.3"/>
<circle cx="122.88" cy="503.10" r="0.45" fill="none" stroke="#777" stroke-width="0.3"/>
<circle cx="119.99" cy="496.89" r="0.45" fill="none" stroke="#777" stroke-width="0.3"/>
<circle cx="123.37" cy="503.51" r="0.45" fill="none" stroke="#777" stroke-width="0.3"/>
<circle cx="122.92" cy="490.36" r="0.45" fill="none" stroke="#777" stroke-width="0.3"/>
<circle cx="119.96" cy="501.60" r="0.45" fill="none" stroke="#777" stroke-width="0.3"/>
<circle cx="121.18" cy="501.56" r="0.45" fill="none" stroke="#777" stroke-width="0.3"/>
<circle cx="119.40" cy="509.65" r="0.45" fill="none" stroke="#777" stroke-width="0.3"/>
<circle cx="121.17" cy="505.19" r="0.45" fill="none" stroke="#777" stroke-width="0.3"/>
<circle cx="122.11" cy="509.25" r="0.45" fill="none" stroke="#777" stroke-width="0.3"/>
<circle cx="119.86" cy="521.93" r="0.45" fill="none" stroke="#777" stroke-width="0.3"/>
<circle cx="120.44" cy="499.12" r="0.45" fill="none" stroke="#777" stroke-width="0.3"/>
<circle cx="120.28" cy="497.18" r="0.45" fill="none" stroke="#777" stroke-width="0.3"/>
<circle cx="120.56" cy="513.66" r="0.45" fill="none" stroke="#777" stroke-width="0.3"/>
<circle cx="120.44" cy="508.00" r="0.45" fill="none" stroke="#777" stroke-width="0.3"/>
<circle cx="119.99" cy="504.61" r="0.45" fill="none" stroke="#777" stroke-width="0.3"/>
<circle cx="122.47" cy="496.58" r="0.45" fill="none" stroke="#777" stroke-width="0.3"/>
<circle cx="121.29" cy="489.72" r="0.45" fill="none" stroke="#777" stroke-width="0.3"/>
<circle cx="120.37" cy="483.36" r="0.45" fill="none" stroke="#777" stroke-width="0.3"/>
<circle cx="123.10" cy="500.71" r="0.45" fill="none" stroke="#777" stroke-width="0.3"/>
<circle cx="120.76" cy="502.16" r="0.45" fill="none" stroke="#777" stroke-width="0.3"/>
<circle cx="122.96" cy="501.31" r="0.45" fill="none" stroke="#777" stroke-width="0.3"/>
<line x1="103.50" y1="497.60" x2="114.00" y2="497.60" stroke="#222" stroke-width="0.9" />
<line x1="116.30" y1="500.10" x2="126.80" y2="500.10" stroke="#222" stroke-width="0.9" />
<line x1="106.70" y1="463.30" x2="126.80" y2="463.30" stroke="#bbb" stroke-width="0.8" stroke-dasharray="1.2 0.6"/>
<text x="116.75" y="462.09" font-size="5" fill="#555" text-anchor="middle" stroke="#555" stroke-width="0.18" >*</text>
<text x="104.80" y="539.73" font-size="6.8" fill="#1a1a1a" text-anchor="middle" stroke="#1a1a1a" stroke-width="0.1" textLength="13.4" lengthAdjust="spacingAndGlyphs" >Tumor</text>
<text x="125.50" y="539.73" font-size="6.8" fill="#1a1a1a" text-anchor="middle" stroke="#1a1a1a" stroke-width="0.1" textLength="17.8" lengthAdjust="spacingAndGlyphs" >Normal</text>
<text transform="translate(82.90,493.30) rotate(-90)" x="0" y="2.3" font-size="6.2" fill="#222" text-anchor="middle" textLength="56" lengthAdjust="spacingAndGlyphs">Expression  log<tspan font-size="4" dy="1.5">2</tspan><tspan dy="-1.5">(TPM+1)</tspan></text>
<text x="176.20" y="451.25" font-size="7.4" fill="#d42f3a" text-anchor="middle" font-style="italic" stroke="#d42f3a" stroke-width="0.12" textLength="13.8" lengthAdjust="spacingAndGlyphs" >GPX2</text>
<line x1="169.20" y1="451.50" x2="183.20" y2="451.50" stroke="#d42f3a" stroke-width="0.7" />
<rect x="156.20" y="454.90" width="41.40" height="74.80" fill="#fff" stroke="#9a9a9a" stroke-width="0.8" />
<line x1="154.80" y1="466.70" x2="156.20" y2="466.70" stroke="#666" stroke-width="0.6" />
<text transform="translate(152.00,466.70) rotate(-90)" x="0" y="1.22" font-size="3.4" fill="#444" text-anchor="middle" stroke="#444" stroke-width="0.18" >10</text>
<line x1="154.80" y1="478.70" x2="156.20" y2="478.70" stroke="#666" stroke-width="0.6" />
<text transform="translate(152.00,478.70) rotate(-90)" x="0" y="1.22" font-size="3.4" fill="#444" text-anchor="middle" stroke="#444" stroke-width="0.18" >8</text>
<line x1="154.80" y1="490.60" x2="156.20" y2="490.60" stroke="#666" stroke-width="0.6" />
<text transform="translate(152.00,490.60) rotate(-90)" x="0" y="1.22" font-size="3.4" fill="#444" text-anchor="middle" stroke="#444" stroke-width="0.18" >6</text>
<line x1="154.80" y1="502.40" x2="156.20" y2="502.40" stroke="#666" stroke-width="0.6" />
<text transform="translate(152.00,502.40) rotate(-90)" x="0" y="1.22" font-size="3.4" fill="#444" text-anchor="middle" stroke="#444" stroke-width="0.18" >4</text>
<line x1="154.80" y1="514.40" x2="156.20" y2="514.40" stroke="#666" stroke-width="0.6" />
<text transform="translate(152.00,514.40) rotate(-90)" x="0" y="1.22" font-size="3.4" fill="#444" text-anchor="middle" stroke="#444" stroke-width="0.18" >2</text>
<line x1="154.80" y1="526.30" x2="156.20" y2="526.30" stroke="#666" stroke-width="0.6" />
<text transform="translate(152.00,526.30) rotate(-90)" x="0" y="1.22" font-size="3.4" fill="#444" text-anchor="middle" stroke="#444" stroke-width="0.18" >0</text>
<line x1="170.35" y1="460.50" x2="170.35" y2="478.50" stroke="#aaa" stroke-width="0.45" />
<line x1="170.35" y1="503.90" x2="170.35" y2="523.00" stroke="#aaa" stroke-width="0.45" />
<line x1="168.15" y1="460.50" x2="172.55" y2="460.50" stroke="#999" stroke-width="0.5" />
<line x1="168.15" y1="523.00" x2="172.55" y2="523.00" stroke="#999" stroke-width="0.5" />
<line x1="183.45" y1="470.50" x2="183.45" y2="483.50" stroke="#aaa" stroke-width="0.45" />
<line x1="183.45" y1="493.10" x2="183.45" y2="505.00" stroke="#aaa" stroke-width="0.45" />
<line x1="181.25" y1="470.50" x2="185.65" y2="470.50" stroke="#999" stroke-width="0.5" />
<line x1="181.25" y1="505.00" x2="185.65" y2="505.00" stroke="#999" stroke-width="0.5" />
<rect x="164.80" y="478.50" width="11.10" height="25.40" fill="#f46464" stroke="#c84848" stroke-width="0.5" />
<rect x="178.20" y="483.50" width="10.50" height="9.60" fill="#7a7a7a" stroke="#5a5a5a" stroke-width="0.4" />
<circle cx="170.29" cy="486.58" r="0.5" fill="#222" stroke="none" opacity="0.7"/>
<circle cx="171.34" cy="493.77" r="0.5" fill="#222" stroke="none" opacity="0.7"/>
<circle cx="169.65" cy="521.78" r="0.5" fill="none" stroke="#555" stroke-width="0.35"/>
<circle cx="168.75" cy="519.85" r="0.5" fill="none" stroke="#555" stroke-width="0.35"/>
<circle cx="170.53" cy="503.31" r="0.5" fill="#222" stroke="none" opacity="0.7"/>
<circle cx="170.78" cy="481.63" r="0.5" fill="#222" stroke="none" opacity="0.7"/>
<circle cx="170.63" cy="497.10" r="0.5" fill="#222" stroke="none" opacity="0.7"/>
<circle cx="170.72" cy="494.89" r="0.5" fill="#222" stroke="none" opacity="0.7"/>
<circle cx="170.32" cy="503.06" r="0.5" fill="#222" stroke="none" opacity="0.7"/>
<circle cx="170.01" cy="490.64" r="0.5" fill="#222" stroke="none" opacity="0.7"/>
<circle cx="169.91" cy="500.72" r="0.5" fill="#222" stroke="none" opacity="0.7"/>
<circle cx="170.23" cy="513.99" r="0.5" fill="none" stroke="#555" stroke-width="0.35"/>
<circle cx="170.16" cy="494.19" r="0.5" fill="#222" stroke="none" opacity="0.7"/>
<circle cx="171.01" cy="489.31" r="0.5" fill="#222" stroke="none" opacity="0.7"/>
<circle cx="170.99" cy="518.75" r="0.5" fill="none" stroke="#555" stroke-width="0.35"/>
<circle cx="169.59" cy="500.20" r="0.5" fill="#222" stroke="none" opacity="0.7"/>
<circle cx="170.87" cy="503.42" r="0.5" fill="#222" stroke="none" opacity="0.7"/>
<circle cx="170.40" cy="483.95" r="0.5" fill="#222" stroke="none" opacity="0.7"/>
<circle cx="171.15" cy="500.95" r="0.5" fill="#222" stroke="none" opacity="0.7"/>
<circle cx="171.40" cy="500.53" r="0.5" fill="#222" stroke="none" opacity="0.7"/>
<circle cx="170.93" cy="467.33" r="0.5" fill="none" stroke="#555" stroke-width="0.35"/>
<circle cx="169.21" cy="491.34" r="0.5" fill="#222" stroke="none" opacity="0.7"/>
<circle cx="170.30" cy="487.96" r="0.5" fill="#222" stroke="none" opacity="0.7"/>
<circle cx="168.15" cy="476.31" r="0.5" fill="none" stroke="#555" stroke-width="0.35"/>
<circle cx="170.30" cy="482.21" r="0.5" fill="#222" stroke="none" opacity="0.7"/>
<circle cx="171.61" cy="487.92" r="0.5" fill="#222" stroke="none" opacity="0.7"/>
<circle cx="168.85" cy="463.44" r="0.5" fill="none" stroke="#555" stroke-width="0.35"/>
<circle cx="170.44" cy="486.64" r="0.5" fill="#222" stroke="none" opacity="0.7"/>
<circle cx="169.72" cy="479.25" r="0.5" fill="#222" stroke="none" opacity="0.7"/>
<circle cx="170.08" cy="501.90" r="0.5" fill="#222" stroke="none" opacity="0.7"/>
<circle cx="169.90" cy="497.23" r="0.5" fill="#222" stroke="none" opacity="0.7"/>
<circle cx="171.07" cy="519.90" r="0.5" fill="none" stroke="#555" stroke-width="0.35"/>
<circle cx="170.17" cy="512.33" r="0.5" fill="none" stroke="#555" stroke-width="0.35"/>
<circle cx="170.76" cy="463.11" r="0.5" fill="none" stroke="#555" stroke-width="0.35"/>
<circle cx="171.13" cy="511.12" r="0.5" fill="none" stroke="#555" stroke-width="0.35"/>
<circle cx="168.54" cy="501.11" r="0.5" fill="#222" stroke="none" opacity="0.7"/>
<circle cx="170.05" cy="483.32" r="0.5" fill="#222" stroke="none" opacity="0.7"/>
<circle cx="169.28" cy="515.34" r="0.5" fill="none" stroke="#555" stroke-width="0.35"/>
<circle cx="170.35" cy="479.21" r="0.5" fill="#222" stroke="none" opacity="0.7"/>
<circle cx="170.00" cy="478.69" r="0.5" fill="#222" stroke="none" opacity="0.7"/>
<circle cx="169.82" cy="507.41" r="0.5" fill="none" stroke="#555" stroke-width="0.35"/>
<circle cx="170.49" cy="488.37" r="0.5" fill="#222" stroke="none" opacity="0.7"/>
<circle cx="170.58" cy="489.48" r="0.5" fill="#222" stroke="none" opacity="0.7"/>
<circle cx="171.11" cy="472.55" r="0.5" fill="#222" stroke="none" opacity="0.55"/>
<circle cx="169.49" cy="480.96" r="0.5" fill="#222" stroke="none" opacity="0.7"/>
<circle cx="170.66" cy="517.10" r="0.5" fill="none" stroke="#555" stroke-width="0.35"/>
<circle cx="170.08" cy="489.72" r="0.5" fill="#222" stroke="none" opacity="0.7"/>
<circle cx="170.56" cy="478.36" r="0.5" fill="#222" stroke="none" opacity="0.55"/>
<circle cx="170.39" cy="478.74" r="0.5" fill="#222" stroke="none" opacity="0.7"/>
<circle cx="170.82" cy="489.22" r="0.5" fill="#222" stroke="none" opacity="0.7"/>
<circle cx="170.64" cy="519.69" r="0.5" fill="none" stroke="#555" stroke-width="0.35"/>
<circle cx="170.93" cy="489.14" r="0.5" fill="#222" stroke="none" opacity="0.7"/>
<circle cx="171.20" cy="500.96" r="0.5" fill="#222" stroke="none" opacity="0.7"/>
<circle cx="170.77" cy="488.45" r="0.5" fill="#222" stroke="none" opacity="0.7"/>
<circle cx="170.97" cy="494.79" r="0.5" fill="#222" stroke="none" opacity="0.7"/>
<circle cx="170.16" cy="502.25" r="0.5" fill="#222" stroke="none" opacity="0.7"/>
<circle cx="170.06" cy="493.08" r="0.5" fill="#222" stroke="none" opacity="0.7"/>
<circle cx="168.87" cy="484.40" r="0.5" fill="#222" stroke="none" opacity="0.7"/>
<circle cx="170.70" cy="500.28" r="0.5" fill="#222" stroke="none" opacity="0.7"/>
<circle cx="170.45" cy="485.73" r="0.5" fill="#222" stroke="none" opacity="0.7"/>
<circle cx="170.94" cy="516.53" r="0.5" fill="none" stroke="#555" stroke-width="0.35"/>
<circle cx="169.19" cy="483.64" r="0.5" fill="#222" stroke="none" opacity="0.7"/>
<circle cx="170.10" cy="501.36" r="0.5" fill="#222" stroke="none" opacity="0.7"/>
<circle cx="170.06" cy="492.00" r="0.5" fill="#222" stroke="none" opacity="0.7"/>
<circle cx="171.27" cy="467.21" r="0.5" fill="#222" stroke="none" opacity="0.55"/>
<circle cx="168.97" cy="476.92" r="0.5" fill="none" stroke="#555" stroke-width="0.35"/>
<circle cx="170.86" cy="518.00" r="0.5" fill="none" stroke="#555" stroke-width="0.35"/>
<circle cx="171.57" cy="480.02" r="0.5" fill="#222" stroke="none" opacity="0.7"/>
<circle cx="169.62" cy="486.43" r="0.5" fill="#222" stroke="none" opacity="0.7"/>
<circle cx="171.08" cy="500.63" r="0.5" fill="#222" stroke="none" opacity="0.7"/>
<circle cx="171.48" cy="499.40" r="0.5" fill="#222" stroke="none" opacity="0.7"/>
<circle cx="172.17" cy="506.19" r="0.5" fill="none" stroke="#555" stroke-width="0.35"/>
<circle cx="170.65" cy="511.49" r="0.5" fill="none" stroke="#555" stroke-width="0.35"/>
<circle cx="171.22" cy="483.24" r="0.5" fill="#222" stroke="none" opacity="0.7"/>
<circle cx="169.59" cy="491.17" r="0.5" fill="#222" stroke="none" opacity="0.7"/>
<circle cx="169.93" cy="500.13" r="0.5" fill="#222" stroke="none" opacity="0.7"/>
<circle cx="170.27" cy="504.99" r="0.5" fill="#222" stroke="none" opacity="0.55"/>
<circle cx="169.76" cy="488.39" r="0.5" fill="#222" stroke="none" opacity="0.7"/>
<circle cx="170.24" cy="484.87" r="0.5" fill="#222" stroke="none" opacity="0.7"/>
<circle cx="170.72" cy="496.13" r="0.5" fill="#222" stroke="none" opacity="0.7"/>
<circle cx="170.22" cy="481.32" r="0.5" fill="#222" stroke="none" opacity="0.7"/>
<circle cx="170.06" cy="489.73" r="0.5" fill="#222" stroke="none" opacity="0.7"/>
<circle cx="170.39" cy="484.74" r="0.5" fill="#222" stroke="none" opacity="0.7"/>
<circle cx="170.69" cy="464.77" r="0.5" fill="none" stroke="#555" stroke-width="0.35"/>
<circle cx="169.29" cy="471.66" r="0.5" fill="none" stroke="#555" stroke-width="0.35"/>
<circle cx="170.07" cy="497.58" r="0.5" fill="#222" stroke="none" opacity="0.7"/>
<circle cx="171.03" cy="492.20" r="0.5" fill="#222" stroke="none" opacity="0.7"/>
<circle cx="170.52" cy="494.45" r="0.5" fill="#222" stroke="none" opacity="0.7"/>
<circle cx="170.19" cy="479.92" r="0.5" fill="#222" stroke="none" opacity="0.7"/>
<circle cx="170.59" cy="476.04" r="0.5" fill="#222" stroke="none" opacity="0.55"/>
<circle cx="170.68" cy="493.21" r="0.5" fill="#222" stroke="none" opacity="0.7"/>
<circle cx="170.35" cy="501.33" r="0.5" fill="#222" stroke="none" opacity="0.7"/>
<circle cx="170.12" cy="464.88" r="0.5" fill="none" stroke="#555" stroke-width="0.35"/>
<circle cx="171.03" cy="522.73" r="0.5" fill="none" stroke="#555" stroke-width="0.35"/>
<circle cx="170.14" cy="503.79" r="0.5" fill="#222" stroke="none" opacity="0.7"/>
<circle cx="170.20" cy="483.04" r="0.5" fill="#222" stroke="none" opacity="0.7"/>
<circle cx="169.52" cy="466.93" r="0.5" fill="#222" stroke="none" opacity="0.55"/>
<circle cx="171.27" cy="471.21" r="0.5" fill="#222" stroke="none" opacity="0.55"/>
<circle cx="169.96" cy="491.91" r="0.5" fill="#222" stroke="none" opacity="0.7"/>
<circle cx="171.26" cy="513.03" r="0.5" fill="none" stroke="#555" stroke-width="0.35"/>
<circle cx="171.12" cy="500.42" r="0.5" fill="#222" stroke="none" opacity="0.7"/>
<circle cx="170.20" cy="491.01" r="0.5" fill="#222" stroke="none" opacity="0.7"/>
<circle cx="169.40" cy="499.43" r="0.5" fill="#222" stroke="none" opacity="0.7"/>
<circle cx="170.51" cy="480.88" r="0.5" fill="#222" stroke="none" opacity="0.7"/>
<circle cx="171.10" cy="470.67" r="0.5" fill="#222" stroke="none" opacity="0.55"/>
<circle cx="170.50" cy="501.16" r="0.5" fill="#222" stroke="none" opacity="0.7"/>
<circle cx="171.60" cy="514.24" r="0.5" fill="none" stroke="#555" stroke-width="0.35"/>
<circle cx="169.56" cy="519.87" r="0.5" fill="none" stroke="#555" stroke-width="0.35"/>
<circle cx="170.28" cy="466.10" r="0.5" fill="none" stroke="#555" stroke-width="0.35"/>
<circle cx="171.34" cy="495.74" r="0.5" fill="#222" stroke="none" opacity="0.7"/>
<circle cx="170.29" cy="467.14" r="0.5" fill="none" stroke="#555" stroke-width="0.35"/>
<circle cx="171.21" cy="492.91" r="0.5" fill="#222" stroke="none" opacity="0.7"/>
<circle cx="170.05" cy="496.22" r="0.5" fill="#222" stroke="none" opacity="0.7"/>
<circle cx="170.73" cy="488.29" r="0.5" fill="#222" stroke="none" opacity="0.7"/>
<circle cx="170.25" cy="492.57" r="0.5" fill="#222" stroke="none" opacity="0.7"/>
<circle cx="170.78" cy="496.91" r="0.5" fill="#222" stroke="none" opacity="0.7"/>
<circle cx="170.24" cy="488.52" r="0.5" fill="#222" stroke="none" opacity="0.7"/>
<circle cx="170.50" cy="488.87" r="0.5" fill="#222" stroke="none" opacity="0.7"/>
<circle cx="170.13" cy="481.22" r="0.5" fill="#222" stroke="none" opacity="0.7"/>
<circle cx="170.52" cy="490.75" r="0.5" fill="#222" stroke="none" opacity="0.7"/>
<circle cx="170.40" cy="491.33" r="0.5" fill="#222" stroke="none" opacity="0.7"/>
<circle cx="169.47" cy="481.06" r="0.5" fill="#222" stroke="none" opacity="0.7"/>
<circle cx="171.47" cy="501.95" r="0.5" fill="#222" stroke="none" opacity="0.7"/>
<circle cx="170.39" cy="513.75" r="0.5" fill="none" stroke="#555" stroke-width="0.35"/>
<circle cx="170.62" cy="480.18" r="0.5" fill="#222" stroke="none" opacity="0.7"/>
<circle cx="171.04" cy="486.48" r="0.5" fill="#222" stroke="none" opacity="0.7"/>
<circle cx="170.08" cy="506.14" r="0.5" fill="#222" stroke="none" opacity="0.55"/>
<circle cx="171.00" cy="513.01" r="0.5" fill="none" stroke="#555" stroke-width="0.35"/>
<circle cx="170.03" cy="485.16" r="0.5" fill="#222" stroke="none" opacity="0.7"/>
<circle cx="170.54" cy="507.45" r="0.5" fill="none" stroke="#555" stroke-width="0.35"/>
<circle cx="171.27" cy="491.47" r="0.5" fill="#222" stroke="none" opacity="0.7"/>
<circle cx="171.13" cy="484.16" r="0.5" fill="#222" stroke="none" opacity="0.7"/>
<circle cx="170.50" cy="519.00" r="0.5" fill="none" stroke="#555" stroke-width="0.35"/>
<circle cx="170.89" cy="476.80" r="0.5" fill="#222" stroke="none" opacity="0.55"/>
<circle cx="170.68" cy="496.37" r="0.5" fill="#222" stroke="none" opacity="0.7"/>
<circle cx="170.45" cy="464.94" r="0.5" fill="none" stroke="#555" stroke-width="0.35"/>
<circle cx="169.90" cy="503.25" r="0.5" fill="#222" stroke="none" opacity="0.7"/>
<circle cx="170.89" cy="497.86" r="0.5" fill="#222" stroke="none" opacity="0.7"/>
<circle cx="171.76" cy="495.45" r="0.5" fill="#222" stroke="none" opacity="0.7"/>
<circle cx="168.97" cy="491.42" r="0.5" fill="#222" stroke="none" opacity="0.7"/>
<circle cx="171.12" cy="500.61" r="0.5" fill="#222" stroke="none" opacity="0.7"/>
<circle cx="170.57" cy="469.82" r="0.5" fill="#222" stroke="none" opacity="0.55"/>
<circle cx="169.51" cy="468.48" r="0.5" fill="none" stroke="#555" stroke-width="0.35"/>
<circle cx="171.58" cy="508.82" r="0.5" fill="#222" stroke="none" opacity="0.55"/>
<circle cx="170.40" cy="493.38" r="0.5" fill="#222" stroke="none" opacity="0.7"/>
<circle cx="170.40" cy="479.68" r="0.5" fill="#222" stroke="none" opacity="0.7"/>
<circle cx="170.37" cy="494.77" r="0.5" fill="#222" stroke="none" opacity="0.7"/>
<circle cx="171.66" cy="497.76" r="0.5" fill="#222" stroke="none" opacity="0.7"/>
<circle cx="170.79" cy="502.71" r="0.5" fill="#222" stroke="none" opacity="0.7"/>
<circle cx="171.18" cy="517.79" r="0.5" fill="none" stroke="#555" stroke-width="0.35"/>
<circle cx="169.94" cy="479.61" r="0.5" fill="#222" stroke="none" opacity="0.7"/>
<circle cx="170.78" cy="497.44" r="0.5" fill="#222" stroke="none" opacity="0.7"/>
<circle cx="170.67" cy="507.77" r="0.5" fill="none" stroke="#555" stroke-width="0.35"/>
<circle cx="171.36" cy="503.40" r="0.5" fill="#222" stroke="none" opacity="0.7"/>
<circle cx="171.35" cy="469.48" r="0.5" fill="none" stroke="#555" stroke-width="0.35"/>
<circle cx="169.92" cy="463.62" r="0.5" fill="none" stroke="#555" stroke-width="0.35"/>
<circle cx="170.96" cy="495.48" r="0.5" fill="#222" stroke="none" opacity="0.7"/>
<circle cx="169.89" cy="463.82" r="0.5" fill="none" stroke="#555" stroke-width="0.35"/>
<circle cx="169.54" cy="494.37" r="0.5" fill="#222" stroke="none" opacity="0.7"/>
<circle cx="169.79" cy="506.54" r="0.5" fill="none" stroke="#555" stroke-width="0.35"/>
<circle cx="170.61" cy="480.60" r="0.5" fill="#222" stroke="none" opacity="0.7"/>
<circle cx="170.16" cy="467.84" r="0.5" fill="#222" stroke="none" opacity="0.55"/>
<circle cx="169.19" cy="503.75" r="0.5" fill="#222" stroke="none" opacity="0.7"/>
<circle cx="170.00" cy="465.61" r="0.5" fill="none" stroke="#555" stroke-width="0.35"/>
<circle cx="169.61" cy="461.03" r="0.5" fill="none" stroke="#555" stroke-width="0.35"/>
<circle cx="170.24" cy="496.25" r="0.5" fill="#222" stroke="none" opacity="0.7"/>
<circle cx="170.88" cy="479.33" r="0.5" fill="#222" stroke="none" opacity="0.7"/>
<circle cx="170.22" cy="486.83" r="0.5" fill="#222" stroke="none" opacity="0.7"/>
<circle cx="170.50" cy="505.84" r="0.5" fill="#222" stroke="none" opacity="0.55"/>
<circle cx="170.42" cy="511.32" r="0.5" fill="none" stroke="#555" stroke-width="0.35"/>
<circle cx="171.47" cy="512.40" r="0.5" fill="none" stroke="#555" stroke-width="0.35"/>
<circle cx="171.24" cy="466.72" r="0.5" fill="none" stroke="#555" stroke-width="0.35"/>
<circle cx="171.53" cy="489.99" r="0.5" fill="#222" stroke="none" opacity="0.7"/>
<circle cx="170.35" cy="510.50" r="0.5" fill="#222" stroke="none" opacity="0.55"/>
<circle cx="169.46" cy="489.06" r="0.5" fill="#222" stroke="none" opacity="0.7"/>
<circle cx="169.50" cy="486.52" r="0.5" fill="#222" stroke="none" opacity="0.7"/>
<circle cx="170.24" cy="492.36" r="0.5" fill="#222" stroke="none" opacity="0.7"/>
<circle cx="169.82" cy="485.87" r="0.5" fill="#222" stroke="none" opacity="0.7"/>
<circle cx="170.37" cy="479.17" r="0.5" fill="#222" stroke="none" opacity="0.7"/>
<circle cx="170.04" cy="483.49" r="0.5" fill="#222" stroke="none" opacity="0.7"/>
<circle cx="169.57" cy="485.24" r="0.5" fill="#222" stroke="none" opacity="0.7"/>
<circle cx="172.37" cy="471.52" r="0.5" fill="#222" stroke="none" opacity="0.55"/>
<circle cx="170.50" cy="473.87" r="0.5" fill="#222" stroke="none" opacity="0.55"/>
<circle cx="169.66" cy="489.33" r="0.5" fill="#222" stroke="none" opacity="0.7"/>
<circle cx="170.51" cy="480.10" r="0.5" fill="#222" stroke="none" opacity="0.7"/>
<circle cx="170.35" cy="469.75" r="0.5" fill="#222" stroke="none" opacity="0.55"/>
<circle cx="169.60" cy="502.04" r="0.5" fill="#222" stroke="none" opacity="0.7"/>
<circle cx="171.68" cy="494.34" r="0.5" fill="#222" stroke="none" opacity="0.7"/>
<circle cx="170.37" cy="481.70" r="0.5" fill="#222" stroke="none" opacity="0.7"/>
<circle cx="172.10" cy="507.11" r="0.5" fill="none" stroke="#555" stroke-width="0.35"/>
<circle cx="168.57" cy="503.88" r="0.5" fill="#222" stroke="none" opacity="0.7"/>
<circle cx="171.38" cy="491.19" r="0.5" fill="#222" stroke="none" opacity="0.7"/>
<circle cx="170.41" cy="484.79" r="0.5" fill="#222" stroke="none" opacity="0.7"/>
<circle cx="169.60" cy="511.81" r="0.5" fill="#222" stroke="none" opacity="0.55"/>
<circle cx="168.99" cy="490.53" r="0.5" fill="#222" stroke="none" opacity="0.7"/>
<circle cx="170.69" cy="496.50" r="0.5" fill="#222" stroke="none" opacity="0.7"/>
<circle cx="169.77" cy="521.20" r="0.5" fill="none" stroke="#555" stroke-width="0.35"/>
<circle cx="170.25" cy="495.65" r="0.5" fill="#222" stroke="none" opacity="0.7"/>
<circle cx="169.83" cy="490.51" r="0.5" fill="#222" stroke="none" opacity="0.7"/>
<circle cx="170.87" cy="486.25" r="0.5" fill="#222" stroke="none" opacity="0.7"/>
<circle cx="170.66" cy="494.39" r="0.5" fill="#222" stroke="none" opacity="0.7"/>
<circle cx="171.14" cy="502.99" r="0.5" fill="#222" stroke="none" opacity="0.7"/>
<circle cx="171.53" cy="502.99" r="0.5" fill="#222" stroke="none" opacity="0.7"/>
<circle cx="170.61" cy="480.62" r="0.5" fill="#222" stroke="none" opacity="0.7"/>
<circle cx="171.04" cy="470.29" r="0.5" fill="#222" stroke="none" opacity="0.55"/>
<circle cx="170.87" cy="469.90" r="0.5" fill="#222" stroke="none" opacity="0.55"/>
<circle cx="171.14" cy="462.45" r="0.5" fill="none" stroke="#555" stroke-width="0.35"/>
<circle cx="169.85" cy="469.97" r="0.5" fill="#222" stroke="none" opacity="0.55"/>
<circle cx="170.68" cy="504.02" r="0.5" fill="none" stroke="#555" stroke-width="0.35"/>
<circle cx="171.40" cy="495.68" r="0.5" fill="#222" stroke="none" opacity="0.7"/>
<circle cx="169.79" cy="511.95" r="0.5" fill="none" stroke="#555" stroke-width="0.35"/>
<circle cx="169.58" cy="470.81" r="0.5" fill="none" stroke="#555" stroke-width="0.35"/>
<circle cx="171.63" cy="490.32" r="0.5" fill="#222" stroke="none" opacity="0.7"/>
<circle cx="170.60" cy="461.51" r="0.5" fill="none" stroke="#555" stroke-width="0.35"/>
<circle cx="171.12" cy="497.25" r="0.5" fill="#222" stroke="none" opacity="0.7"/>
<circle cx="171.33" cy="490.52" r="0.5" fill="#222" stroke="none" opacity="0.7"/>
<circle cx="170.47" cy="487.58" r="0.5" fill="#222" stroke="none" opacity="0.7"/>
<circle cx="170.53" cy="474.01" r="0.5" fill="#222" stroke="none" opacity="0.55"/>
<circle cx="170.97" cy="513.01" r="0.5" fill="none" stroke="#555" stroke-width="0.35"/>
<circle cx="170.12" cy="487.06" r="0.5" fill="#222" stroke="none" opacity="0.7"/>
<circle cx="169.46" cy="484.58" r="0.5" fill="#222" stroke="none" opacity="0.7"/>
<circle cx="170.43" cy="494.02" r="0.5" fill="#222" stroke="none" opacity="0.7"/>
<circle cx="170.38" cy="483.11" r="0.5" fill="#222" stroke="none" opacity="0.7"/>
<circle cx="171.15" cy="483.04" r="0.5" fill="#222" stroke="none" opacity="0.7"/>
<circle cx="171.06" cy="484.98" r="0.5" fill="#222" stroke="none" opacity="0.7"/>
<circle cx="170.41" cy="514.69" r="0.5" fill="none" stroke="#555" stroke-width="0.35"/>
<circle cx="170.39" cy="489.45" r="0.5" fill="#222" stroke="none" opacity="0.7"/>
<circle cx="169.76" cy="497.12" r="0.5" fill="#222" stroke="none" opacity="0.7"/>
<circle cx="171.31" cy="467.36" r="0.5" fill="#222" stroke="none" opacity="0.55"/>
<circle cx="170.79" cy="465.77" r="0.5" fill="none" stroke="#555" stroke-width="0.35"/>
<circle cx="169.06" cy="484.30" r="0.5" fill="#222" stroke="none" opacity="0.7"/>
<circle cx="170.99" cy="493.89" r="0.5" fill="#222" stroke="none" opacity="0.7"/>
<circle cx="171.96" cy="473.74" r="0.5" fill="none" stroke="#555" stroke-width="0.35"/>
<circle cx="171.20" cy="497.96" r="0.5" fill="#222" stroke="none" opacity="0.7"/>
<circle cx="171.44" cy="488.11" r="0.5" fill="#222" stroke="none" opacity="0.7"/>
<circle cx="169.85" cy="489.49" r="0.5" fill="#222" stroke="none" opacity="0.7"/>
<circle cx="170.83" cy="488.53" r="0.5" fill="#222" stroke="none" opacity="0.7"/>
<circle cx="169.16" cy="473.52" r="0.5" fill="none" stroke="#555" stroke-width="0.35"/>
<circle cx="169.77" cy="507.61" r="0.5" fill="none" stroke="#555" stroke-width="0.35"/>
<circle cx="169.98" cy="519.19" r="0.5" fill="none" stroke="#555" stroke-width="0.35"/>
<circle cx="170.22" cy="478.14" r="0.5" fill="#222" stroke="none" opacity="0.55"/>
<circle cx="169.48" cy="498.23" r="0.5" fill="#222" stroke="none" opacity="0.7"/>
<circle cx="169.79" cy="506.23" r="0.5" fill="#222" stroke="none" opacity="0.55"/>
<circle cx="169.66" cy="502.55" r="0.5" fill="#222" stroke="none" opacity="0.7"/>
<circle cx="169.23" cy="500.22" r="0.5" fill="#222" stroke="none" opacity="0.7"/>
<circle cx="170.24" cy="512.21" r="0.5" fill="none" stroke="#555" stroke-width="0.35"/>
<circle cx="170.80" cy="483.97" r="0.5" fill="#222" stroke="none" opacity="0.7"/>
<circle cx="169.73" cy="511.96" r="0.5" fill="none" stroke="#555" stroke-width="0.35"/>
<circle cx="170.65" cy="489.75" r="0.5" fill="#222" stroke="none" opacity="0.7"/>
<circle cx="169.65" cy="508.75" r="0.5" fill="#222" stroke="none" opacity="0.55"/>
<circle cx="180.46" cy="492.61" r="0.45" fill="none" stroke="#777" stroke-width="0.3"/>
<circle cx="185.25" cy="487.20" r="0.45" fill="none" stroke="#777" stroke-width="0.3"/>
<circle cx="179.97" cy="501.81" r="0.45" fill="none" stroke="#777" stroke-width="0.3"/>
<circle cx="184.72" cy="492.02" r="0.45" fill="none" stroke="#777" stroke-width="0.3"/>
<circle cx="182.27" cy="485.63" r="0.45" fill="none" stroke="#777" stroke-width="0.3"/>
<circle cx="185.35" cy="500.19" r="0.45" fill="none" stroke="#777" stroke-width="0.3"/>
<circle cx="185.39" cy="503.39" r="0.45" fill="none" stroke="#777" stroke-width="0.3"/>
<circle cx="182.26" cy="485.57" r="0.45" fill="none" stroke="#777" stroke-width="0.3"/>
<circle cx="183.02" cy="488.88" r="0.45" fill="none" stroke="#777" stroke-width="0.3"/>
<circle cx="183.88" cy="488.37" r="0.45" fill="none" stroke="#777" stroke-width="0.3"/>
<circle cx="181.91" cy="491.54" r="0.45" fill="none" stroke="#777" stroke-width="0.3"/>
<circle cx="183.66" cy="516.37" r="0.45" fill="none" stroke="#777" stroke-width="0.3"/>
<circle cx="184.48" cy="495.29" r="0.45" fill="none" stroke="#777" stroke-width="0.3"/>
<circle cx="181.03" cy="485.46" r="0.45" fill="none" stroke="#777" stroke-width="0.3"/>
<circle cx="185.08" cy="492.80" r="0.45" fill="none" stroke="#777" stroke-width="0.3"/>
<circle cx="183.31" cy="521.35" r="0.45" fill="none" stroke="#777" stroke-width="0.3"/>
<circle cx="181.81" cy="484.62" r="0.45" fill="none" stroke="#777" stroke-width="0.3"/>
<circle cx="184.48" cy="484.04" r="0.45" fill="none" stroke="#777" stroke-width="0.3"/>
<circle cx="183.45" cy="501.30" r="0.45" fill="none" stroke="#777" stroke-width="0.3"/>
<circle cx="182.84" cy="492.58" r="0.45" fill="none" stroke="#777" stroke-width="0.3"/>
<circle cx="183.63" cy="492.36" r="0.45" fill="none" stroke="#777" stroke-width="0.3"/>
<circle cx="184.27" cy="489.88" r="0.45" fill="none" stroke="#777" stroke-width="0.3"/>
<circle cx="182.88" cy="492.12" r="0.45" fill="none" stroke="#777" stroke-width="0.3"/>
<circle cx="184.58" cy="486.81" r="0.45" fill="none" stroke="#777" stroke-width="0.3"/>
<circle cx="184.45" cy="478.01" r="0.45" fill="none" stroke="#777" stroke-width="0.3"/>
<line x1="164.80" y1="488.70" x2="175.90" y2="488.70" stroke="#222" stroke-width="0.9" />
<line x1="178.20" y1="487.70" x2="188.70" y2="487.70" stroke="#222" stroke-width="0.9" />
<line x1="164.80" y1="526.30" x2="175.90" y2="526.30" stroke="#333" stroke-width="0.7" />
<line x1="178.20" y1="526.30" x2="188.70" y2="526.30" stroke="#333" stroke-width="0.7" />
<text x="167.20" y="539.73" font-size="6.8" fill="#1a1a1a" text-anchor="middle" stroke="#1a1a1a" stroke-width="0.1" textLength="14.4" lengthAdjust="spacingAndGlyphs" >Tumor</text>
<text x="187.90" y="539.73" font-size="6.8" fill="#1a1a1a" text-anchor="middle" stroke="#1a1a1a" stroke-width="0.1" textLength="17.6" lengthAdjust="spacingAndGlyphs" >Normal</text>
<text transform="translate(143.60,493.30) rotate(-90)" x="0" y="2.3" font-size="6.2" fill="#222" text-anchor="middle" textLength="56" lengthAdjust="spacingAndGlyphs">Expression  log<tspan font-size="4" dy="1.5">2</tspan><tspan dy="-1.5">(TPM+1)</tspan></text>
<text x="261.05" y="449.56" font-size="8.0" fill="#d42f3a" text-anchor="middle" stroke="#d42f3a" stroke-width="0.25" textLength="34.69999999999999" lengthAdjust="spacingAndGlyphs" >MYH9 - GCLC</text>
<line x1="243.70" y1="450.00" x2="278.40" y2="450.00" stroke="#d42f3a" stroke-width="0.7" />
<text x="260.95" y="460.40" font-size="7.8" fill="#d42f3a" stroke="#d42f3a" stroke-width="0.2" text-anchor="middle" textLength="44.5" lengthAdjust="spacingAndGlyphs"><tspan font-style="italic">R</tspan> = 0.20, <tspan font-style="italic">p</tspan> &lt; 0.001</text>
<rect x="231.10" y="465.80" width="59.70" height="61.00" fill="#fff" stroke="#9a9a9a" stroke-width="0.8" />
<line x1="236.80" y1="526.80" x2="236.80" y2="528.00" stroke="#777" stroke-width="0.5" />
<text x="236.80" y="532.55" font-size="3.2" fill="#555" text-anchor="middle" stroke="#555" stroke-width="0.18" >5</text>
<line x1="247.50" y1="526.80" x2="247.50" y2="528.00" stroke="#777" stroke-width="0.5" />
<text x="247.50" y="532.55" font-size="3.2" fill="#555" text-anchor="middle" stroke="#555" stroke-width="0.18" >6</text>
<line x1="257.40" y1="526.80" x2="257.40" y2="528.00" stroke="#777" stroke-width="0.5" />
<text x="257.40" y="532.55" font-size="3.2" fill="#555" text-anchor="middle" stroke="#555" stroke-width="0.18" >7</text>
<line x1="268.00" y1="526.80" x2="268.00" y2="528.00" stroke="#777" stroke-width="0.5" />
<text x="268.00" y="532.55" font-size="3.2" fill="#555" text-anchor="middle" stroke="#555" stroke-width="0.18" >8</text>
<line x1="277.50" y1="526.80" x2="277.50" y2="528.00" stroke="#777" stroke-width="0.5" />
<text x="277.50" y="532.55" font-size="3.2" fill="#555" text-anchor="middle" stroke="#555" stroke-width="0.18" >9</text>
<line x1="287.00" y1="526.80" x2="287.00" y2="528.00" stroke="#777" stroke-width="0.5" />
<text x="287.00" y="532.55" font-size="3.2" fill="#555" text-anchor="middle" stroke="#555" stroke-width="0.18" >10</text>
<line x1="229.90" y1="478.20" x2="231.10" y2="478.20" stroke="#777" stroke-width="0.5" />
<text transform="translate(228.10,478.20) rotate(-90)" x="0" y="1.15" font-size="3.2" fill="#555" text-anchor="middle" stroke="#555" stroke-width="0.18" >6</text>
<line x1="229.90" y1="491.90" x2="231.10" y2="491.90" stroke="#777" stroke-width="0.5" />
<text transform="translate(228.10,491.90) rotate(-90)" x="0" y="1.15" font-size="3.2" fill="#555" text-anchor="middle" stroke="#555" stroke-width="0.18" >4</text>
<line x1="229.90" y1="506.20" x2="231.10" y2="506.20" stroke="#777" stroke-width="0.5" />
<text transform="translate(228.10,506.20) rotate(-90)" x="0" y="1.15" font-size="3.2" fill="#555" text-anchor="middle" stroke="#555" stroke-width="0.18" >2</text>
<line x1="229.90" y1="520.20" x2="231.10" y2="520.20" stroke="#777" stroke-width="0.5" />
<text transform="translate(228.10,520.20) rotate(-90)" x="0" y="1.15" font-size="3.2" fill="#555" text-anchor="middle" stroke="#555" stroke-width="0.18" >0</text>
<text x="232.90" y="469.91" font-size="3.1" fill="#222" text-anchor="start" stroke="#222" stroke-width="0.05" >p-value = 3e-08</text>
<text x="232.90" y="473.11" font-size="3.1" fill="#222" text-anchor="start" stroke="#222" stroke-width="0.05" >R = 0.2</text>
<rect x="273.45" y="509.03" width="1" height="1" fill="#333" opacity="0.6"/>
<rect x="262.71" y="491.65" width="1" height="1" fill="#333" opacity="0.6"/>
<rect x="270.63" y="512.37" width="1" height="1" fill="#333" opacity="0.6"/>
<rect x="270.98" y="489.54" width="1" height="1" fill="#333" opacity="0.6"/>
<rect x="262.87" y="498.31" width="1" height="1" fill="#333" opacity="0.6"/>
<rect x="274.74" y="498.65" width="1" height="1" fill="#333" opacity="0.6"/>
<rect x="265.72" y="496.95" width="1" height="1" fill="#333" opacity="0.6"/>
<rect x="269.38" y="492.90" width="1" height="1" fill="#333" opacity="0.6"/>
<rect x="268.22" y="500.84" width="1" height="1" fill="#333" opacity="0.6"/>
<rect x="279.47" y="498.30" width="1" height="1" fill="#333" opacity="0.6"/>
<rect x="274.85" y="490.68" width="1" height="1" fill="#333" opacity="0.6"/>
<rect x="274.11" y="500.02" width="1" height="1" fill="#333" opacity="0.6"/>
<rect x="264.53" y="498.56" width="1" height="1" fill="#333" opacity="0.6"/>
<rect x="274.41" y="496.22" width="1" height="1" fill="#333" opacity="0.6"/>
<rect x="275.27" y="510.69" width="1" height="1" fill="#333" opacity="0.6"/>
<rect x="279.36" y="511.46" width="1" height="1" fill="#333" opacity="0.6"/>
<rect x="259.51" y="501.44" width="1" height="1" fill="#333" opacity="0.6"/>
<rect x="263.56" y="506.19" width="1" height="1" fill="#333" opacity="0.6"/>
<rect x="268.74" y="500.53" width="1" height="1" fill="#333" opacity="0.6"/>
<rect x="271.41" y="494.13" width="1" height="1" fill="#333" opacity="0.6"/>
<rect x="268.90" y="493.13" width="1" height="1" fill="#333" opacity="0.6"/>
<rect x="282.54" y="495.20" width="1" height="1" fill="#333" opacity="0.6"/>
<rect x="268.36" y="484.94" width="1" height="1" fill="#333" opacity="0.6"/>
<rect x="258.10" y="492.21" width="1" height="1" fill="#333" opacity="0.6"/>
<rect x="273.72" y="504.83" width="1" height="1" fill="#333" opacity="0.6"/>
<rect x="270.18" y="493.75" width="1" height="1" fill="#333" opacity="0.6"/>
<rect x="280.96" y="490.74" width="1" height="1" fill="#333" opacity="0.6"/>
<rect x="262.37" y="502.60" width="1" height="1" fill="#333" opacity="0.6"/>
<rect x="261.41" y="500.88" width="1" height="1" fill="#333" opacity="0.6"/>
<rect x="274.92" y="498.24" width="1" height="1" fill="#333" opacity="0.6"/>
<rect x="271.05" y="499.09" width="1" height="1" fill="#333" opacity="0.6"/>
<rect x="263.62" y="473.87" width="1" height="1" fill="#333" opacity="0.6"/>
<rect x="259.86" y="498.73" width="1" height="1" fill="#333" opacity="0.6"/>
<rect x="256.95" y="494.36" width="1" height="1" fill="#333" opacity="0.6"/>
<rect x="269.68" y="509.29" width="1" height="1" fill="#333" opacity="0.6"/>
<rect x="258.84" y="494.62" width="1" height="1" fill="#333" opacity="0.6"/>
<rect x="269.80" y="502.93" width="1" height="1" fill="#333" opacity="0.6"/>
<rect x="258.73" y="513.43" width="1" height="1" fill="#333" opacity="0.6"/>
<rect x="262.61" y="507.36" width="1" height="1" fill="#333" opacity="0.6"/>
<rect x="266.86" y="502.00" width="1" height="1" fill="#333" opacity="0.6"/>
<rect x="279.76" y="504.38" width="1" height="1" fill="#333" opacity="0.6"/>
<rect x="269.15" y="490.86" width="1" height="1" fill="#333" opacity="0.6"/>
<rect x="263.73" y="487.53" width="1" height="1" fill="#333" opacity="0.6"/>
<rect x="282.19" y="486.51" width="1" height="1" fill="#333" opacity="0.6"/>
<rect x="250.44" y="511.77" width="1" height="1" fill="#333" opacity="0.6"/>
<rect x="277.08" y="495.93" width="1" height="1" fill="#333" opacity="0.6"/>
<rect x="274.04" y="492.27" width="1" height="1" fill="#333" opacity="0.6"/>
<rect x="264.26" y="502.75" width="1" height="1" fill="#333" opacity="0.6"/>
<rect x="270.97" y="495.16" width="1" height="1" fill="#333" opacity="0.6"/>
<rect x="279.48" y="504.61" width="1" height="1" fill="#333" opacity="0.6"/>
<rect x="269.20" y="489.41" width="1" height="1" fill="#333" opacity="0.6"/>
<rect x="269.19" y="496.26" width="1" height="1" fill="#333" opacity="0.6"/>
<rect x="267.71" y="505.11" width="1" height="1" fill="#333" opacity="0.6"/>
<rect x="264.25" y="500.87" width="1" height="1" fill="#333" opacity="0.6"/>
<rect x="273.76" y="501.57" width="1" height="1" fill="#333" opacity="0.6"/>
<rect x="284.16" y="484.93" width="1" height="1" fill="#333" opacity="0.6"/>
<rect x="267.79" y="489.37" width="1" height="1" fill="#333" opacity="0.6"/>
<rect x="267.75" y="518.71" width="1" height="1" fill="#333" opacity="0.6"/>
<rect x="256.84" y="496.43" width="1" height="1" fill="#333" opacity="0.6"/>
<rect x="272.76" y="499.48" width="1" height="1" fill="#333" opacity="0.6"/>
<rect x="274.56" y="486.39" width="1" height="1" fill="#333" opacity="0.6"/>
<rect x="274.98" y="491.15" width="1" height="1" fill="#333" opacity="0.6"/>
<rect x="259.74" y="503.23" width="1" height="1" fill="#333" opacity="0.6"/>
<rect x="271.51" y="492.93" width="1" height="1" fill="#333" opacity="0.6"/>
<rect x="262.50" y="497.12" width="1" height="1" fill="#333" opacity="0.6"/>
<rect x="268.11" y="497.36" width="1" height="1" fill="#333" opacity="0.6"/>
<rect x="261.13" y="480.27" width="1" height="1" fill="#333" opacity="0.6"/>
<rect x="277.29" y="500.08" width="1" height="1" fill="#333" opacity="0.6"/>
<rect x="259.54" y="486.22" width="1" height="1" fill="#333" opacity="0.6"/>
<rect x="263.34" y="495.38" width="1" height="1" fill="#333" opacity="0.6"/>
<rect x="253.35" y="509.79" width="1" height="1" fill="#333" opacity="0.6"/>
<rect x="271.11" y="496.11" width="1" height="1" fill="#333" opacity="0.6"/>
<rect x="270.57" y="500.49" width="1" height="1" fill="#333" opacity="0.6"/>
<rect x="275.52" y="499.88" width="1" height="1" fill="#333" opacity="0.6"/>
<rect x="276.91" y="510.94" width="1" height="1" fill="#333" opacity="0.6"/>
<rect x="265.96" y="495.05" width="1" height="1" fill="#333" opacity="0.6"/>
<rect x="261.98" y="496.80" width="1" height="1" fill="#333" opacity="0.6"/>
<rect x="263.07" y="498.72" width="1" height="1" fill="#333" opacity="0.6"/>
<rect x="270.25" y="502.91" width="1" height="1" fill="#333" opacity="0.6"/>
<rect x="260.08" y="507.24" width="1" height="1" fill="#333" opacity="0.6"/>
<rect x="265.95" y="497.74" width="1" height="1" fill="#333" opacity="0.6"/>
<rect x="264.53" y="482.71" width="1" height="1" fill="#333" opacity="0.6"/>
<rect x="269.88" y="484.51" width="1" height="1" fill="#333" opacity="0.6"/>
<rect x="275.81" y="498.94" width="1" height="1" fill="#333" opacity="0.6"/>
<rect x="278.96" y="503.78" width="1" height="1" fill="#333" opacity="0.6"/>
<rect x="272.99" y="509.75" width="1" height="1" fill="#333" opacity="0.6"/>
<rect x="267.80" y="510.86" width="1" height="1" fill="#333" opacity="0.6"/>
<rect x="267.20" y="500.66" width="1" height="1" fill="#333" opacity="0.6"/>
<rect x="263.39" y="502.93" width="1" height="1" fill="#333" opacity="0.6"/>
<rect x="272.75" y="494.59" width="1" height="1" fill="#333" opacity="0.6"/>
<rect x="259.16" y="498.30" width="1" height="1" fill="#333" opacity="0.6"/>
<rect x="271.02" y="497.34" width="1" height="1" fill="#333" opacity="0.6"/>
<rect x="261.29" y="492.84" width="1" height="1" fill="#333" opacity="0.6"/>
<rect x="266.23" y="477.69" width="1" height="1" fill="#333" opacity="0.6"/>
<rect x="263.99" y="510.03" width="1" height="1" fill="#333" opacity="0.6"/>
<rect x="259.14" y="496.84" width="1" height="1" fill="#333" opacity="0.6"/>
<rect x="279.84" y="504.23" width="1" height="1" fill="#333" opacity="0.6"/>
<rect x="274.49" y="497.41" width="1" height="1" fill="#333" opacity="0.6"/>
<rect x="258.82" y="521.50" width="1" height="1" fill="#333" opacity="0.6"/>
<rect x="270.17" y="500.49" width="1" height="1" fill="#333" opacity="0.6"/>
<rect x="279.51" y="505.03" width="1" height="1" fill="#333" opacity="0.6"/>
<rect x="268.48" y="489.79" width="1" height="1" fill="#333" opacity="0.6"/>
<rect x="266.99" y="497.40" width="1" height="1" fill="#333" opacity="0.6"/>
<rect x="263.35" y="491.68" width="1" height="1" fill="#333" opacity="0.6"/>
<rect x="261.09" y="497.63" width="1" height="1" fill="#333" opacity="0.6"/>
<rect x="263.92" y="501.82" width="1" height="1" fill="#333" opacity="0.6"/>
<rect x="275.12" y="501.08" width="1" height="1" fill="#333" opacity="0.6"/>
<rect x="268.20" y="510.98" width="1" height="1" fill="#333" opacity="0.6"/>
<rect x="272.61" y="486.80" width="1" height="1" fill="#333" opacity="0.6"/>
<rect x="263.05" y="500.10" width="1" height="1" fill="#333" opacity="0.6"/>
<rect x="261.92" y="504.59" width="1" height="1" fill="#333" opacity="0.6"/>
<rect x="255.84" y="483.36" width="1" height="1" fill="#333" opacity="0.6"/>
<rect x="274.88" y="503.18" width="1" height="1" fill="#333" opacity="0.6"/>
<rect x="256.89" y="499.15" width="1" height="1" fill="#333" opacity="0.6"/>
<rect x="277.40" y="489.67" width="1" height="1" fill="#333" opacity="0.6"/>
<rect x="259.75" y="488.86" width="1" height="1" fill="#333" opacity="0.6"/>
<rect x="261.18" y="484.72" width="1" height="1" fill="#333" opacity="0.6"/>
<rect x="264.66" y="486.99" width="1" height="1" fill="#333" opacity="0.6"/>
<rect x="268.46" y="516.33" width="1" height="1" fill="#333" opacity="0.6"/>
<rect x="260.71" y="505.76" width="1" height="1" fill="#333" opacity="0.6"/>
<rect x="276.17" y="480.13" width="1" height="1" fill="#333" opacity="0.6"/>
<rect x="268.79" y="498.44" width="1" height="1" fill="#333" opacity="0.6"/>
<rect x="265.68" y="504.89" width="1" height="1" fill="#333" opacity="0.6"/>
<rect x="264.96" y="501.33" width="1" height="1" fill="#333" opacity="0.6"/>
<rect x="265.31" y="497.43" width="1" height="1" fill="#333" opacity="0.6"/>
<rect x="262.55" y="516.64" width="1" height="1" fill="#333" opacity="0.6"/>
<rect x="267.63" y="489.60" width="1" height="1" fill="#333" opacity="0.6"/>
<rect x="281.60" y="511.07" width="1" height="1" fill="#333" opacity="0.6"/>
<rect x="266.64" y="493.29" width="1" height="1" fill="#333" opacity="0.6"/>
<rect x="262.88" y="508.35" width="1" height="1" fill="#333" opacity="0.6"/>
<rect x="265.73" y="492.84" width="1" height="1" fill="#333" opacity="0.6"/>
<rect x="273.89" y="496.37" width="1" height="1" fill="#333" opacity="0.6"/>
<rect x="267.64" y="513.95" width="1" height="1" fill="#333" opacity="0.6"/>
<rect x="274.04" y="508.44" width="1" height="1" fill="#333" opacity="0.6"/>
<rect x="270.93" y="508.77" width="1" height="1" fill="#333" opacity="0.6"/>
<rect x="266.83" y="506.19" width="1" height="1" fill="#333" opacity="0.6"/>
<rect x="275.31" y="495.23" width="1" height="1" fill="#333" opacity="0.6"/>
<rect x="259.05" y="502.78" width="1" height="1" fill="#333" opacity="0.6"/>
<rect x="267.17" y="503.36" width="1" height="1" fill="#333" opacity="0.6"/>
<rect x="263.82" y="502.73" width="1" height="1" fill="#333" opacity="0.6"/>
<rect x="274.72" y="517.36" width="1" height="1" fill="#333" opacity="0.6"/>
<rect x="280.47" y="501.63" width="1" height="1" fill="#333" opacity="0.6"/>
<rect x="278.03" y="493.52" width="1" height="1" fill="#333" opacity="0.6"/>
<rect x="276.20" y="499.62" width="1" height="1" fill="#333" opacity="0.6"/>
<rect x="277.29" y="501.17" width="1" height="1" fill="#333" opacity="0.6"/>
<rect x="266.41" y="492.86" width="1" height="1" fill="#333" opacity="0.6"/>
<rect x="276.77" y="498.98" width="1" height="1" fill="#333" opacity="0.6"/>
<rect x="272.99" y="502.35" width="1" height="1" fill="#333" opacity="0.6"/>
<rect x="253.77" y="503.32" width="1" height="1" fill="#333" opacity="0.6"/>
<rect x="265.42" y="501.64" width="1" height="1" fill="#333" opacity="0.6"/>
<rect x="271.37" y="484.14" width="1" height="1" fill="#333" opacity="0.6"/>
<rect x="265.82" y="498.03" width="1" height="1" fill="#333" opacity="0.6"/>
<rect x="270.72" y="506.01" width="1" height="1" fill="#333" opacity="0.6"/>
<rect x="263.26" y="496.67" width="1" height="1" fill="#333" opacity="0.6"/>
<rect x="272.36" y="483.92" width="1" height="1" fill="#333" opacity="0.6"/>
<rect x="280.94" y="490.98" width="1" height="1" fill="#333" opacity="0.6"/>
<rect x="277.19" y="499.67" width="1" height="1" fill="#333" opacity="0.6"/>
<rect x="281.13" y="506.81" width="1" height="1" fill="#333" opacity="0.6"/>
<rect x="267.77" y="485.00" width="1" height="1" fill="#333" opacity="0.6"/>
<rect x="268.93" y="501.10" width="1" height="1" fill="#333" opacity="0.6"/>
<rect x="271.81" y="488.48" width="1" height="1" fill="#333" opacity="0.6"/>
<rect x="262.25" y="492.31" width="1" height="1" fill="#333" opacity="0.6"/>
<rect x="269.97" y="491.59" width="1" height="1" fill="#333" opacity="0.6"/>
<rect x="267.19" y="505.91" width="1" height="1" fill="#333" opacity="0.6"/>
<rect x="265.08" y="509.23" width="1" height="1" fill="#333" opacity="0.6"/>
<rect x="270.07" y="496.54" width="1" height="1" fill="#333" opacity="0.6"/>
<rect x="275.64" y="502.45" width="1" height="1" fill="#333" opacity="0.6"/>
<rect x="266.02" y="493.83" width="1" height="1" fill="#333" opacity="0.6"/>
<rect x="267.70" y="501.26" width="1" height="1" fill="#333" opacity="0.6"/>
<rect x="275.96" y="500.66" width="1" height="1" fill="#333" opacity="0.6"/>
<rect x="263.71" y="487.94" width="1" height="1" fill="#333" opacity="0.6"/>
<rect x="269.79" y="501.64" width="1" height="1" fill="#333" opacity="0.6"/>
<rect x="275.90" y="494.31" width="1" height="1" fill="#333" opacity="0.6"/>
<rect x="259.00" y="505.17" width="1" height="1" fill="#333" opacity="0.6"/>
<rect x="266.81" y="488.84" width="1" height="1" fill="#333" opacity="0.6"/>
<rect x="279.56" y="505.58" width="1" height="1" fill="#333" opacity="0.6"/>
<rect x="268.45" y="500.74" width="1" height="1" fill="#333" opacity="0.6"/>
<rect x="262.83" y="506.40" width="1" height="1" fill="#333" opacity="0.6"/>
<rect x="265.00" y="494.93" width="1" height="1" fill="#333" opacity="0.6"/>
<rect x="265.95" y="489.46" width="1" height="1" fill="#333" opacity="0.6"/>
<rect x="275.17" y="511.78" width="1" height="1" fill="#333" opacity="0.6"/>
<rect x="273.32" y="482.18" width="1" height="1" fill="#333" opacity="0.6"/>
<rect x="265.90" y="493.44" width="1" height="1" fill="#333" opacity="0.6"/>
<rect x="270.61" y="481.49" width="1" height="1" fill="#333" opacity="0.6"/>
<rect x="253.03" y="494.87" width="1" height="1" fill="#333" opacity="0.6"/>
<rect x="274.84" y="497.02" width="1" height="1" fill="#333" opacity="0.6"/>
<rect x="283.36" y="491.78" width="1" height="1" fill="#333" opacity="0.6"/>
<rect x="268.29" y="497.34" width="1" height="1" fill="#333" opacity="0.6"/>
<rect x="262.23" y="507.35" width="1" height="1" fill="#333" opacity="0.6"/>
<rect x="258.81" y="490.12" width="1" height="1" fill="#333" opacity="0.6"/>
<rect x="265.49" y="494.71" width="1" height="1" fill="#333" opacity="0.6"/>
<rect x="275.87" y="494.32" width="1" height="1" fill="#333" opacity="0.6"/>
<rect x="271.51" y="494.81" width="1" height="1" fill="#333" opacity="0.6"/>
<rect x="276.91" y="498.38" width="1" height="1" fill="#333" opacity="0.6"/>
<rect x="269.84" y="485.54" width="1" height="1" fill="#333" opacity="0.6"/>
<rect x="272.92" y="493.40" width="1" height="1" fill="#333" opacity="0.6"/>
<rect x="274.19" y="502.56" width="1" height="1" fill="#333" opacity="0.6"/>
<rect x="271.80" y="507.47" width="1" height="1" fill="#333" opacity="0.6"/>
<rect x="270.64" y="491.54" width="1" height="1" fill="#333" opacity="0.6"/>
<rect x="269.11" y="499.87" width="1" height="1" fill="#333" opacity="0.6"/>
<rect x="259.83" y="503.41" width="1" height="1" fill="#333" opacity="0.6"/>
<rect x="278.22" y="500.45" width="1" height="1" fill="#333" opacity="0.6"/>
<rect x="268.81" y="502.19" width="1" height="1" fill="#333" opacity="0.6"/>
<rect x="275.65" y="494.23" width="1" height="1" fill="#333" opacity="0.6"/>
<rect x="274.65" y="492.61" width="1" height="1" fill="#333" opacity="0.6"/>
<rect x="271.72" y="502.63" width="1" height="1" fill="#333" opacity="0.6"/>
<rect x="259.10" y="503.75" width="1" height="1" fill="#333" opacity="0.6"/>
<rect x="269.53" y="485.27" width="1" height="1" fill="#333" opacity="0.6"/>
<rect x="264.88" y="493.54" width="1" height="1" fill="#333" opacity="0.6"/>
<rect x="261.83" y="501.81" width="1" height="1" fill="#333" opacity="0.6"/>
<rect x="262.51" y="498.91" width="1" height="1" fill="#333" opacity="0.6"/>
<rect x="260.46" y="496.41" width="1" height="1" fill="#333" opacity="0.6"/>
<rect x="280.70" y="501.80" width="1" height="1" fill="#333" opacity="0.6"/>
<rect x="257.20" y="491.05" width="1" height="1" fill="#333" opacity="0.6"/>
<rect x="267.04" y="485.59" width="1" height="1" fill="#333" opacity="0.6"/>
<rect x="274.80" y="498.18" width="1" height="1" fill="#333" opacity="0.6"/>
<rect x="267.52" y="498.93" width="1" height="1" fill="#333" opacity="0.6"/>
<rect x="263.26" y="489.43" width="1" height="1" fill="#333" opacity="0.6"/>
<rect x="246.40" y="485.64" width="1" height="1" fill="#333" opacity="0.6"/>
<rect x="269.65" y="503.93" width="1" height="1" fill="#333" opacity="0.6"/>
<rect x="266.73" y="483.94" width="1" height="1" fill="#333" opacity="0.6"/>
<rect x="265.66" y="498.79" width="1" height="1" fill="#333" opacity="0.6"/>
<rect x="259.01" y="509.39" width="1" height="1" fill="#333" opacity="0.6"/>
<rect x="260.21" y="498.51" width="1" height="1" fill="#333" opacity="0.6"/>
<rect x="260.43" y="505.71" width="1" height="1" fill="#333" opacity="0.6"/>
<rect x="259.24" y="491.37" width="1" height="1" fill="#333" opacity="0.6"/>
<rect x="275.74" y="488.50" width="1" height="1" fill="#333" opacity="0.6"/>
<rect x="264.24" y="502.80" width="1" height="1" fill="#333" opacity="0.6"/>
<rect x="270.47" y="484.59" width="1" height="1" fill="#333" opacity="0.6"/>
<rect x="272.19" y="496.18" width="1" height="1" fill="#333" opacity="0.6"/>
<rect x="276.48" y="484.74" width="1" height="1" fill="#333" opacity="0.6"/>
<rect x="273.31" y="501.70" width="1" height="1" fill="#333" opacity="0.6"/>
<rect x="265.37" y="495.15" width="1" height="1" fill="#333" opacity="0.6"/>
<rect x="270.68" y="493.02" width="1" height="1" fill="#333" opacity="0.6"/>
<rect x="265.58" y="492.40" width="1" height="1" fill="#333" opacity="0.6"/>
<rect x="268.95" y="503.84" width="1" height="1" fill="#333" opacity="0.6"/>
<rect x="256.94" y="498.69" width="1" height="1" fill="#333" opacity="0.6"/>
<rect x="270.14" y="510.44" width="1" height="1" fill="#333" opacity="0.6"/>
<rect x="262.84" y="508.46" width="1" height="1" fill="#333" opacity="0.6"/>
<rect x="264.90" y="502.36" width="1" height="1" fill="#333" opacity="0.6"/>
<rect x="269.53" y="500.64" width="1" height="1" fill="#333" opacity="0.6"/>
<rect x="265.61" y="490.70" width="1" height="1" fill="#333" opacity="0.6"/>
<rect x="278.32" y="510.03" width="1" height="1" fill="#333" opacity="0.6"/>
<rect x="267.18" y="497.13" width="1" height="1" fill="#333" opacity="0.6"/>
<rect x="266.51" y="487.88" width="1" height="1" fill="#333" opacity="0.6"/>
<rect x="260.26" y="501.76" width="1" height="1" fill="#333" opacity="0.6"/>
<rect x="274.58" y="496.68" width="1" height="1" fill="#333" opacity="0.6"/>
<rect x="261.48" y="489.91" width="1" height="1" fill="#333" opacity="0.6"/>
<rect x="263.71" y="504.01" width="1" height="1" fill="#333" opacity="0.6"/>
<rect x="268.31" y="487.14" width="1" height="1" fill="#333" opacity="0.6"/>
<rect x="259.90" y="501.07" width="1" height="1" fill="#333" opacity="0.6"/>
<rect x="270.05" y="512.43" width="1" height="1" fill="#333" opacity="0.6"/>
<rect x="277.97" y="499.93" width="1" height="1" fill="#333" opacity="0.6"/>
<rect x="263.24" y="500.08" width="1" height="1" fill="#333" opacity="0.6"/>
<rect x="260.08" y="493.01" width="1" height="1" fill="#333" opacity="0.6"/>
<rect x="274.95" y="503.32" width="1" height="1" fill="#333" opacity="0.6"/>
<rect x="274.38" y="510.84" width="1" height="1" fill="#333" opacity="0.6"/>
<rect x="265.10" y="504.82" width="1" height="1" fill="#333" opacity="0.6"/>
<rect x="268.47" y="500.95" width="1" height="1" fill="#333" opacity="0.6"/>
<rect x="269.56" y="502.73" width="1" height="1" fill="#333" opacity="0.6"/>
<rect x="258.35" y="487.59" width="1" height="1" fill="#333" opacity="0.6"/>
<rect x="268.62" y="502.33" width="1" height="1" fill="#333" opacity="0.6"/>
<rect x="264.61" y="497.65" width="1" height="1" fill="#333" opacity="0.6"/>
<rect x="258.20" y="506.09" width="1" height="1" fill="#333" opacity="0.6"/>
<rect x="271.15" y="510.37" width="1" height="1" fill="#333" opacity="0.6"/>
<rect x="265.14" y="497.69" width="1" height="1" fill="#333" opacity="0.6"/>
<rect x="268.44" y="509.31" width="1" height="1" fill="#333" opacity="0.6"/>
<rect x="271.89" y="501.57" width="1" height="1" fill="#333" opacity="0.6"/>
<rect x="256.55" y="491.65" width="1" height="1" fill="#333" opacity="0.6"/>
<rect x="257.75" y="496.99" width="1" height="1" fill="#333" opacity="0.6"/>
<rect x="273.93" y="498.89" width="1" height="1" fill="#333" opacity="0.6"/>
<rect x="261.57" y="514.60" width="1" height="1" fill="#333" opacity="0.6"/>
<rect x="260.33" y="509.44" width="1" height="1" fill="#333" opacity="0.6"/>
<rect x="276.03" y="500.51" width="1" height="1" fill="#333" opacity="0.6"/>
<rect x="277.33" y="489.84" width="1" height="1" fill="#333" opacity="0.6"/>
<rect x="264.11" y="496.07" width="1" height="1" fill="#333" opacity="0.6"/>
<rect x="270.55" y="497.04" width="1" height="1" fill="#333" opacity="0.6"/>
<rect x="279.82" y="495.46" width="1" height="1" fill="#333" opacity="0.6"/>
<rect x="266.37" y="488.84" width="1" height="1" fill="#333" opacity="0.6"/>
<rect x="271.29" y="504.76" width="1" height="1" fill="#333" opacity="0.6"/>
<rect x="262.74" y="488.48" width="1" height="1" fill="#333" opacity="0.6"/>
<rect x="258.34" y="507.71" width="1" height="1" fill="#333" opacity="0.6"/>
<rect x="273.44" y="500.67" width="1" height="1" fill="#333" opacity="0.6"/>
<rect x="273.23" y="502.32" width="1" height="1" fill="#333" opacity="0.6"/>
<rect x="271.12" y="485.60" width="1" height="1" fill="#333" opacity="0.6"/>
<rect x="271.55" y="504.04" width="1" height="1" fill="#333" opacity="0.6"/>
<rect x="275.85" y="506.13" width="1" height="1" fill="#333" opacity="0.6"/>
<rect x="263.25" y="500.55" width="1" height="1" fill="#333" opacity="0.6"/>
<rect x="258.14" y="509.88" width="1" height="1" fill="#333" opacity="0.6"/>
<rect x="258.44" y="504.06" width="1" height="1" fill="#333" opacity="0.6"/>
<rect x="262.49" y="491.98" width="1" height="1" fill="#333" opacity="0.6"/>
<rect x="261.76" y="495.86" width="1" height="1" fill="#333" opacity="0.6"/>
<rect x="270.61" y="507.36" width="1" height="1" fill="#333" opacity="0.6"/>
<rect x="265.90" y="505.25" width="1" height="1" fill="#333" opacity="0.6"/>
<rect x="274.01" y="514.81" width="1" height="1" fill="#333" opacity="0.6"/>
<rect x="263.82" y="500.91" width="1" height="1" fill="#333" opacity="0.6"/>
<rect x="272.76" y="499.60" width="1" height="1" fill="#333" opacity="0.6"/>
<rect x="272.30" y="493.17" width="1" height="1" fill="#333" opacity="0.6"/>
<rect x="265.48" y="493.48" width="1" height="1" fill="#333" opacity="0.6"/>
<rect x="263.52" y="491.40" width="1" height="1" fill="#333" opacity="0.6"/>
<rect x="251.88" y="508.29" width="1" height="1" fill="#333" opacity="0.6"/>
<rect x="239.40" y="512.52" width="1" height="1" fill="#333" opacity="0.6"/>
<rect x="251.17" y="510.19" width="1" height="1" fill="#333" opacity="0.6"/>
<rect x="260.39" y="504.50" width="1" height="1" fill="#333" opacity="0.6"/>
<rect x="255.27" y="504.01" width="1" height="1" fill="#333" opacity="0.6"/>
<rect x="262.89" y="503.03" width="1" height="1" fill="#333" opacity="0.6"/>
<rect x="259.60" y="508.01" width="1" height="1" fill="#333" opacity="0.6"/>
<rect x="262.97" y="508.38" width="1" height="1" fill="#333" opacity="0.6"/>
<rect x="252.82" y="513.98" width="1" height="1" fill="#333" opacity="0.6"/>
<rect x="251.95" y="503.71" width="1" height="1" fill="#333" opacity="0.6"/>
<rect x="262.76" y="501.98" width="1" height="1" fill="#333" opacity="0.6"/>
<rect x="262.28" y="506.87" width="1" height="1" fill="#333" opacity="0.6"/>
<rect x="244.42" y="508.65" width="1" height="1" fill="#333" opacity="0.6"/>
<rect x="248.56" y="512.86" width="1" height="1" fill="#333" opacity="0.6"/>
<rect x="248.70" y="519.36" width="1" height="1" fill="#333" opacity="0.6"/>
<rect x="244.27" y="519.22" width="1" height="1" fill="#333" opacity="0.6"/>
<rect x="249.60" y="512.52" width="1" height="1" fill="#333" opacity="0.6"/>
<rect x="257.17" y="513.75" width="1" height="1" fill="#333" opacity="0.6"/>
<rect x="240.06" y="518.57" width="1" height="1" fill="#333" opacity="0.6"/>
<rect x="243.57" y="518.53" width="1" height="1" fill="#333" opacity="0.6"/>
<rect x="238.43" y="524.59" width="1" height="1" fill="#333" opacity="0.6"/>
<rect x="260.93" y="506.91" width="1" height="1" fill="#333" opacity="0.6"/>
<rect x="250.87" y="516.62" width="1" height="1" fill="#333" opacity="0.6"/>
<rect x="260.55" y="509.88" width="1" height="1" fill="#333" opacity="0.6"/>
<rect x="256.70" y="510.11" width="1" height="1" fill="#333" opacity="0.6"/>
<rect x="256.25" y="514.47" width="1" height="1" fill="#333" opacity="0.6"/>
<rect x="238.28" y="523.48" width="1" height="1" fill="#333" opacity="0.6"/>
<rect x="247.32" y="516.50" width="1" height="1" fill="#333" opacity="0.6"/>
<rect x="259.58" y="512.47" width="1" height="1" fill="#333" opacity="0.6"/>
<rect x="256.23" y="505.79" width="1" height="1" fill="#333" opacity="0.6"/>
<rect x="264.87" y="477.40" width="1" height="1" fill="#333" opacity="0.6"/>
<rect x="267.68" y="477.24" width="1" height="1" fill="#333" opacity="0.6"/>
<rect x="272.14" y="477.64" width="1" height="1" fill="#333" opacity="0.6"/>
<rect x="267.43" y="482.99" width="1" height="1" fill="#333" opacity="0.6"/>
<rect x="259.06" y="484.88" width="1" height="1" fill="#333" opacity="0.6"/>
<rect x="273.58" y="472.96" width="1" height="1" fill="#333" opacity="0.6"/>
<rect x="266.92" y="475.79" width="1" height="1" fill="#333" opacity="0.6"/>
<rect x="265.29" y="483.34" width="1" height="1" fill="#333" opacity="0.6"/>
<rect x="256.33" y="483.64" width="1" height="1" fill="#333" opacity="0.6"/>
<rect x="270.01" y="479.45" width="1" height="1" fill="#333" opacity="0.6"/>
<rect x="280.60" y="477.03" width="1" height="1" fill="#333" opacity="0.6"/>
<rect x="258.56" y="481.37" width="1" height="1" fill="#333" opacity="0.6"/>
<rect x="268.33" y="476.36" width="1" height="1" fill="#333" opacity="0.6"/>
<rect x="254.83" y="470.09" width="1" height="1" fill="#333" opacity="0.6"/>
<rect x="277.16" y="471.98" width="1" height="1" fill="#333" opacity="0.6"/>
<rect x="275.69" y="483.52" width="1" height="1" fill="#333" opacity="0.6"/>
<rect x="254.40" y="480.43" width="1" height="1" fill="#333" opacity="0.6"/>
<rect x="271.28" y="484.97" width="1" height="1" fill="#333" opacity="0.6"/>
<rect x="275.37" y="485.71" width="1" height="1" fill="#333" opacity="0.6"/>
<rect x="267.24" y="478.26" width="1" height="1" fill="#333" opacity="0.6"/>
<rect x="266.29" y="482.07" width="1" height="1" fill="#333" opacity="0.6"/>
<rect x="261.92" y="474.20" width="1" height="1" fill="#333" opacity="0.6"/>
<rect x="281.10" y="484.21" width="1" height="1" fill="#333" opacity="0.6"/>
<rect x="273.81" y="478.33" width="1" height="1" fill="#333" opacity="0.6"/>
<rect x="262.41" y="477.36" width="1" height="1" fill="#333" opacity="0.6"/>
<rect x="262.75" y="476.38" width="1" height="1" fill="#333" opacity="0.6"/>
<rect x="258.20" y="482.53" width="1" height="1" fill="#333" opacity="0.6"/>
<rect x="269.46" y="483.38" width="1" height="1" fill="#333" opacity="0.6"/>
<rect x="267.87" y="475.94" width="1" height="1" fill="#333" opacity="0.6"/>
<rect x="279.50" y="484.11" width="1" height="1" fill="#333" opacity="0.6"/>
<rect x="269.26" y="506.64" width="1" height="1" fill="#333" opacity="0.6"/>
<rect x="257.26" y="504.55" width="1" height="1" fill="#333" opacity="0.6"/>
<rect x="251.07" y="508.40" width="1" height="1" fill="#333" opacity="0.6"/>
<rect x="274.39" y="506.01" width="1" height="1" fill="#333" opacity="0.6"/>
<rect x="266.89" y="496.29" width="1" height="1" fill="#333" opacity="0.6"/>
<rect x="264.57" y="504.41" width="1" height="1" fill="#333" opacity="0.6"/>
<rect x="255.18" y="504.25" width="1" height="1" fill="#333" opacity="0.6"/>
<rect x="272.14" y="476.97" width="1" height="1" fill="#333" opacity="0.6"/>
<rect x="237.79" y="498.53" width="1" height="1" fill="#333" opacity="0.6"/>
<rect x="256.72" y="483.29" width="1" height="1" fill="#333" opacity="0.6"/>
<rect x="244.21" y="479.09" width="1" height="1" fill="#333" opacity="0.6"/>
<rect x="238.65" y="489.49" width="1" height="1" fill="#333" opacity="0.6"/>
<rect x="239.94" y="470.71" width="1" height="1" fill="#333" opacity="0.6"/>
<rect x="259.65" y="515.31" width="1" height="1" fill="#333" opacity="0.6"/>
<rect x="278.48" y="492.01" width="1" height="1" fill="#333" opacity="0.6"/>
<rect x="266.67" y="491.00" width="1" height="1" fill="#333" opacity="0.6"/>
<rect x="259.68" y="483.66" width="1" height="1" fill="#333" opacity="0.6"/>
<rect x="261.53" y="479.81" width="1" height="1" fill="#333" opacity="0.6"/>
<rect x="251.17" y="492.19" width="1" height="1" fill="#333" opacity="0.6"/>
<rect x="260.26" y="522.52" width="1" height="1" fill="#333" opacity="0.6"/>
<rect x="249.26" y="479.06" width="1" height="1" fill="#333" opacity="0.6"/>
<rect x="270.21" y="502.25" width="1" height="1" fill="#333" opacity="0.6"/>
<rect x="270.75" y="492.62" width="1" height="1" fill="#333" opacity="0.6"/>
<rect x="240.49" y="489.41" width="1" height="1" fill="#333" opacity="0.6"/>
<rect x="243.74" y="493.33" width="1" height="1" fill="#333" opacity="0.6"/>
<rect x="285.49" y="489.95" width="1" height="1" fill="#333" opacity="0.6"/>
<rect x="262.71" y="509.30" width="1" height="1" fill="#333" opacity="0.6"/>
<rect x="242.90" y="504.77" width="1" height="1" fill="#333" opacity="0.6"/>
<rect x="256.56" y="484.80" width="1" height="1" fill="#333" opacity="0.6"/>
<rect x="256.23" y="480.59" width="1" height="1" fill="#333" opacity="0.6"/>
<rect x="273.08" y="495.61" width="1" height="1" fill="#333" opacity="0.6"/>
<rect x="254.87" y="500.98" width="1" height="1" fill="#333" opacity="0.6"/>
<rect x="279.43" y="486.27" width="1" height="1" fill="#333" opacity="0.6"/>
<rect x="271.66" y="481.77" width="1" height="1" fill="#333" opacity="0.6"/>
<rect x="236.14" y="479.15" width="1" height="1" fill="#333" opacity="0.6"/>
<rect x="273.86" y="499.36" width="1" height="1" fill="#333" opacity="0.6"/>
<rect x="252.51" y="503.59" width="1" height="1" fill="#333" opacity="0.6"/>
<rect x="257.18" y="496.60" width="1" height="1" fill="#333" opacity="0.6"/>
<text x="265.35" y="541.30" font-size="8" fill="#222" stroke="#222" stroke-width="0.15" text-anchor="middle" textLength="40.7" lengthAdjust="spacingAndGlyphs">MYH9 log<tspan font-size="4.6" dy="1.5">2</tspan><tspan dy="-1.5">(TPM)</tspan></text>
<line x1="245.00" y1="542.00" x2="260.06" y2="542.00" stroke="#333" stroke-width="0.7" />
<text transform="translate(219.40,496.75) rotate(-90)" x="0" y="2.7" font-size="7.6" fill="#222" stroke="#222" stroke-width="0.12" text-anchor="middle" textLength="39.1" lengthAdjust="spacingAndGlyphs">GCLC log<tspan font-size="4.4" dy="1.5">2</tspan><tspan dy="-1.5">(TPM)</tspan></text>
<line x1="222.70" y1="516.30" x2="222.70" y2="504.57" stroke="#222" stroke-width="0.6" />
<text x="346.35" y="449.56" font-size="8.0" fill="#d42f3a" text-anchor="middle" stroke="#d42f3a" stroke-width="0.25" textLength="37.099999999999966" lengthAdjust="spacingAndGlyphs" >MYH9 - GCLM</text>
<line x1="327.80" y1="450.00" x2="364.90" y2="450.00" stroke="#d42f3a" stroke-width="0.7" />
<text x="346.15" y="460.40" font-size="7.8" fill="#d42f3a" stroke="#d42f3a" stroke-width="0.2" text-anchor="middle" textLength="44.3" lengthAdjust="spacingAndGlyphs"><tspan font-style="italic">R</tspan> = 0.25, <tspan font-style="italic">p</tspan> &lt; 0.001</text>
<rect x="312.50" y="465.80" width="61.50" height="60.20" fill="#fff" stroke="#9a9a9a" stroke-width="0.8" />
<line x1="319.60" y1="526.00" x2="319.60" y2="527.20" stroke="#777" stroke-width="0.5" />
<text x="319.60" y="531.75" font-size="3.2" fill="#555" text-anchor="middle" stroke="#555" stroke-width="0.18" >5</text>
<line x1="329.20" y1="526.00" x2="329.20" y2="527.20" stroke="#777" stroke-width="0.5" />
<text x="329.20" y="531.75" font-size="3.2" fill="#555" text-anchor="middle" stroke="#555" stroke-width="0.18" >6</text>
<line x1="339.30" y1="526.00" x2="339.30" y2="527.20" stroke="#777" stroke-width="0.5" />
<text x="339.30" y="531.75" font-size="3.2" fill="#555" text-anchor="middle" stroke="#555" stroke-width="0.18" >7</text>
<line x1="349.80" y1="526.00" x2="349.80" y2="527.20" stroke="#777" stroke-width="0.5" />
<text x="349.80" y="531.75" font-size="3.2" fill="#555" text-anchor="middle" stroke="#555" stroke-width="0.18" >8</text>
<line x1="360.70" y1="526.00" x2="360.70" y2="527.20" stroke="#777" stroke-width="0.5" />
<text x="360.70" y="531.75" font-size="3.2" fill="#555" text-anchor="middle" stroke="#555" stroke-width="0.18" >9</text>
<line x1="371.20" y1="526.00" x2="371.20" y2="527.20" stroke="#777" stroke-width="0.5" />
<text x="371.20" y="531.75" font-size="3.2" fill="#555" text-anchor="middle" stroke="#555" stroke-width="0.18" >10</text>
<line x1="311.30" y1="467.70" x2="312.50" y2="467.70" stroke="#777" stroke-width="0.5" />
<text transform="translate(309.50,467.70) rotate(-90)" x="0" y="1.15" font-size="3.2" fill="#555" text-anchor="middle" stroke="#555" stroke-width="0.18" >8</text>
<line x1="311.30" y1="483.00" x2="312.50" y2="483.00" stroke="#777" stroke-width="0.5" />
<text transform="translate(309.50,483.00) rotate(-90)" x="0" y="1.15" font-size="3.2" fill="#555" text-anchor="middle" stroke="#555" stroke-width="0.18" >6</text>
<line x1="311.30" y1="498.30" x2="312.50" y2="498.30" stroke="#777" stroke-width="0.5" />
<text transform="translate(309.50,498.30) rotate(-90)" x="0" y="1.15" font-size="3.2" fill="#555" text-anchor="middle" stroke="#555" stroke-width="0.18" >4</text>
<line x1="311.30" y1="513.20" x2="312.50" y2="513.20" stroke="#777" stroke-width="0.5" />
<text transform="translate(309.50,513.20) rotate(-90)" x="0" y="1.15" font-size="3.2" fill="#555" text-anchor="middle" stroke="#555" stroke-width="0.18" >2</text>
<text x="314.30" y="469.91" font-size="3.1" fill="#222" text-anchor="start" stroke="#222" stroke-width="0.05" >p-value = 6.7e-09</text>
<text x="314.30" y="473.11" font-size="3.1" fill="#222" text-anchor="start" stroke="#222" stroke-width="0.05" >R = 0.25</text>
<rect x="354.22" y="497.43" width="1" height="1" fill="#333" opacity="0.6"/>
<rect x="351.92" y="501.98" width="1" height="1" fill="#333" opacity="0.6"/>
<rect x="346.76" y="492.88" width="1" height="1" fill="#333" opacity="0.6"/>
<rect x="354.41" y="495.02" width="1" height="1" fill="#333" opacity="0.6"/>
<rect x="356.44" y="496.84" width="1" height="1" fill="#333" opacity="0.6"/>
<rect x="337.43" y="488.17" width="1" height="1" fill="#333" opacity="0.6"/>
<rect x="344.21" y="482.87" width="1" height="1" fill="#333" opacity="0.6"/>
<rect x="349.93" y="496.22" width="1" height="1" fill="#333" opacity="0.6"/>
<rect x="357.36" y="491.71" width="1" height="1" fill="#333" opacity="0.6"/>
<rect x="348.81" y="503.02" width="1" height="1" fill="#333" opacity="0.6"/>
<rect x="355.93" y="490.47" width="1" height="1" fill="#333" opacity="0.6"/>
<rect x="361.67" y="493.59" width="1" height="1" fill="#333" opacity="0.6"/>
<rect x="359.28" y="496.16" width="1" height="1" fill="#333" opacity="0.6"/>
<rect x="347.43" y="488.71" width="1" height="1" fill="#333" opacity="0.6"/>
<rect x="349.57" y="517.27" width="1" height="1" fill="#333" opacity="0.6"/>
<rect x="345.83" y="510.58" width="1" height="1" fill="#333" opacity="0.6"/>
<rect x="360.25" y="495.44" width="1" height="1" fill="#333" opacity="0.6"/>
<rect x="358.69" y="509.42" width="1" height="1" fill="#333" opacity="0.6"/>
<rect x="348.28" y="494.33" width="1" height="1" fill="#333" opacity="0.6"/>
<rect x="358.72" y="501.31" width="1" height="1" fill="#333" opacity="0.6"/>
<rect x="366.11" y="501.94" width="1" height="1" fill="#333" opacity="0.6"/>
<rect x="342.06" y="498.14" width="1" height="1" fill="#333" opacity="0.6"/>
<rect x="341.83" y="504.44" width="1" height="1" fill="#333" opacity="0.6"/>
<rect x="355.69" y="495.28" width="1" height="1" fill="#333" opacity="0.6"/>
<rect x="344.01" y="505.56" width="1" height="1" fill="#333" opacity="0.6"/>
<rect x="347.74" y="508.15" width="1" height="1" fill="#333" opacity="0.6"/>
<rect x="343.31" y="496.36" width="1" height="1" fill="#333" opacity="0.6"/>
<rect x="346.52" y="490.36" width="1" height="1" fill="#333" opacity="0.6"/>
<rect x="370.52" y="511.76" width="1" height="1" fill="#333" opacity="0.6"/>
<rect x="345.91" y="504.78" width="1" height="1" fill="#333" opacity="0.6"/>
<rect x="337.29" y="508.41" width="1" height="1" fill="#333" opacity="0.6"/>
<rect x="358.51" y="495.84" width="1" height="1" fill="#333" opacity="0.6"/>
<rect x="347.94" y="500.48" width="1" height="1" fill="#333" opacity="0.6"/>
<rect x="353.90" y="495.69" width="1" height="1" fill="#333" opacity="0.6"/>
<rect x="344.29" y="496.49" width="1" height="1" fill="#333" opacity="0.6"/>
<rect x="347.39" y="504.72" width="1" height="1" fill="#333" opacity="0.6"/>
<rect x="351.19" y="500.42" width="1" height="1" fill="#333" opacity="0.6"/>
<rect x="338.33" y="495.55" width="1" height="1" fill="#333" opacity="0.6"/>
<rect x="347.67" y="494.48" width="1" height="1" fill="#333" opacity="0.6"/>
<rect x="349.71" y="496.20" width="1" height="1" fill="#333" opacity="0.6"/>
<rect x="339.38" y="505.99" width="1" height="1" fill="#333" opacity="0.6"/>
<rect x="357.34" y="494.53" width="1" height="1" fill="#333" opacity="0.6"/>
<rect x="355.19" y="491.26" width="1" height="1" fill="#333" opacity="0.6"/>
<rect x="341.33" y="497.01" width="1" height="1" fill="#333" opacity="0.6"/>
<rect x="362.03" y="497.82" width="1" height="1" fill="#333" opacity="0.6"/>
<rect x="339.38" y="500.54" width="1" height="1" fill="#333" opacity="0.6"/>
<rect x="346.43" y="493.01" width="1" height="1" fill="#333" opacity="0.6"/>
<rect x="353.26" y="484.93" width="1" height="1" fill="#333" opacity="0.6"/>
<rect x="337.49" y="487.21" width="1" height="1" fill="#333" opacity="0.6"/>
<rect x="358.69" y="499.51" width="1" height="1" fill="#333" opacity="0.6"/>
<rect x="346.26" y="493.38" width="1" height="1" fill="#333" opacity="0.6"/>
<rect x="355.59" y="508.64" width="1" height="1" fill="#333" opacity="0.6"/>
<rect x="345.42" y="500.88" width="1" height="1" fill="#333" opacity="0.6"/>
<rect x="368.17" y="503.60" width="1" height="1" fill="#333" opacity="0.6"/>
<rect x="348.40" y="501.51" width="1" height="1" fill="#333" opacity="0.6"/>
<rect x="351.63" y="504.13" width="1" height="1" fill="#333" opacity="0.6"/>
<rect x="353.45" y="494.97" width="1" height="1" fill="#333" opacity="0.6"/>
<rect x="349.98" y="501.85" width="1" height="1" fill="#333" opacity="0.6"/>
<rect x="345.81" y="499.46" width="1" height="1" fill="#333" opacity="0.6"/>
<rect x="344.14" y="508.65" width="1" height="1" fill="#333" opacity="0.6"/>
<rect x="362.33" y="492.05" width="1" height="1" fill="#333" opacity="0.6"/>
<rect x="357.12" y="500.24" width="1" height="1" fill="#333" opacity="0.6"/>
<rect x="351.56" y="496.92" width="1" height="1" fill="#333" opacity="0.6"/>
<rect x="352.85" y="506.83" width="1" height="1" fill="#333" opacity="0.6"/>
<rect x="341.88" y="506.91" width="1" height="1" fill="#333" opacity="0.6"/>
<rect x="348.94" y="490.29" width="1" height="1" fill="#333" opacity="0.6"/>
<rect x="350.53" y="503.93" width="1" height="1" fill="#333" opacity="0.6"/>
<rect x="350.24" y="501.24" width="1" height="1" fill="#333" opacity="0.6"/>
<rect x="348.43" y="494.71" width="1" height="1" fill="#333" opacity="0.6"/>
<rect x="358.25" y="491.58" width="1" height="1" fill="#333" opacity="0.6"/>
<rect x="358.21" y="501.58" width="1" height="1" fill="#333" opacity="0.6"/>
<rect x="348.86" y="497.16" width="1" height="1" fill="#333" opacity="0.6"/>
<rect x="348.78" y="498.65" width="1" height="1" fill="#333" opacity="0.6"/>
<rect x="350.56" y="497.83" width="1" height="1" fill="#333" opacity="0.6"/>
<rect x="336.74" y="482.40" width="1" height="1" fill="#333" opacity="0.6"/>
<rect x="353.40" y="494.01" width="1" height="1" fill="#333" opacity="0.6"/>
<rect x="346.75" y="497.61" width="1" height="1" fill="#333" opacity="0.6"/>
<rect x="342.84" y="511.03" width="1" height="1" fill="#333" opacity="0.6"/>
<rect x="350.89" y="497.58" width="1" height="1" fill="#333" opacity="0.6"/>
<rect x="343.21" y="505.85" width="1" height="1" fill="#333" opacity="0.6"/>
<rect x="356.19" y="510.56" width="1" height="1" fill="#333" opacity="0.6"/>
<rect x="357.44" y="492.59" width="1" height="1" fill="#333" opacity="0.6"/>
<rect x="341.70" y="509.61" width="1" height="1" fill="#333" opacity="0.6"/>
<rect x="345.99" y="498.11" width="1" height="1" fill="#333" opacity="0.6"/>
<rect x="349.78" y="502.85" width="1" height="1" fill="#333" opacity="0.6"/>
<rect x="354.92" y="490.90" width="1" height="1" fill="#333" opacity="0.6"/>
<rect x="346.25" y="485.44" width="1" height="1" fill="#333" opacity="0.6"/>
<rect x="354.99" y="497.70" width="1" height="1" fill="#333" opacity="0.6"/>
<rect x="338.67" y="507.03" width="1" height="1" fill="#333" opacity="0.6"/>
<rect x="351.01" y="491.10" width="1" height="1" fill="#333" opacity="0.6"/>
<rect x="347.93" y="494.40" width="1" height="1" fill="#333" opacity="0.6"/>
<rect x="351.69" y="500.55" width="1" height="1" fill="#333" opacity="0.6"/>
<rect x="346.76" y="502.27" width="1" height="1" fill="#333" opacity="0.6"/>
<rect x="332.12" y="496.30" width="1" height="1" fill="#333" opacity="0.6"/>
<rect x="355.62" y="506.35" width="1" height="1" fill="#333" opacity="0.6"/>
<rect x="356.74" y="490.89" width="1" height="1" fill="#333" opacity="0.6"/>
<rect x="338.71" y="496.32" width="1" height="1" fill="#333" opacity="0.6"/>
<rect x="367.39" y="501.00" width="1" height="1" fill="#333" opacity="0.6"/>
<rect x="345.57" y="485.97" width="1" height="1" fill="#333" opacity="0.6"/>
<rect x="351.95" y="495.46" width="1" height="1" fill="#333" opacity="0.6"/>
<rect x="354.51" y="500.41" width="1" height="1" fill="#333" opacity="0.6"/>
<rect x="333.98" y="497.97" width="1" height="1" fill="#333" opacity="0.6"/>
<rect x="356.57" y="494.33" width="1" height="1" fill="#333" opacity="0.6"/>
<rect x="342.25" y="489.94" width="1" height="1" fill="#333" opacity="0.6"/>
<rect x="341.30" y="515.80" width="1" height="1" fill="#333" opacity="0.6"/>
<rect x="361.03" y="494.18" width="1" height="1" fill="#333" opacity="0.6"/>
<rect x="360.74" y="490.68" width="1" height="1" fill="#333" opacity="0.6"/>
<rect x="346.95" y="493.10" width="1" height="1" fill="#333" opacity="0.6"/>
<rect x="349.49" y="503.93" width="1" height="1" fill="#333" opacity="0.6"/>
<rect x="365.44" y="504.53" width="1" height="1" fill="#333" opacity="0.6"/>
<rect x="350.04" y="500.07" width="1" height="1" fill="#333" opacity="0.6"/>
<rect x="349.18" y="501.70" width="1" height="1" fill="#333" opacity="0.6"/>
<rect x="344.58" y="500.78" width="1" height="1" fill="#333" opacity="0.6"/>
<rect x="354.10" y="506.12" width="1" height="1" fill="#333" opacity="0.6"/>
<rect x="344.87" y="502.08" width="1" height="1" fill="#333" opacity="0.6"/>
<rect x="352.82" y="492.58" width="1" height="1" fill="#333" opacity="0.6"/>
<rect x="336.62" y="494.56" width="1" height="1" fill="#333" opacity="0.6"/>
<rect x="357.06" y="496.65" width="1" height="1" fill="#333" opacity="0.6"/>
<rect x="367.11" y="503.13" width="1" height="1" fill="#333" opacity="0.6"/>
<rect x="345.62" y="498.03" width="1" height="1" fill="#333" opacity="0.6"/>
<rect x="354.08" y="502.50" width="1" height="1" fill="#333" opacity="0.6"/>
<rect x="349.08" y="502.31" width="1" height="1" fill="#333" opacity="0.6"/>
<rect x="371.99" y="505.82" width="1" height="1" fill="#333" opacity="0.6"/>
<rect x="351.97" y="495.17" width="1" height="1" fill="#333" opacity="0.6"/>
<rect x="338.01" y="500.13" width="1" height="1" fill="#333" opacity="0.6"/>
<rect x="347.85" y="498.42" width="1" height="1" fill="#333" opacity="0.6"/>
<rect x="346.84" y="504.71" width="1" height="1" fill="#333" opacity="0.6"/>
<rect x="358.45" y="493.42" width="1" height="1" fill="#333" opacity="0.6"/>
<rect x="340.95" y="501.20" width="1" height="1" fill="#333" opacity="0.6"/>
<rect x="360.66" y="501.94" width="1" height="1" fill="#333" opacity="0.6"/>
<rect x="354.22" y="488.06" width="1" height="1" fill="#333" opacity="0.6"/>
<rect x="346.81" y="503.22" width="1" height="1" fill="#333" opacity="0.6"/>
<rect x="353.39" y="498.70" width="1" height="1" fill="#333" opacity="0.6"/>
<rect x="354.84" y="505.30" width="1" height="1" fill="#333" opacity="0.6"/>
<rect x="351.37" y="493.33" width="1" height="1" fill="#333" opacity="0.6"/>
<rect x="340.70" y="500.34" width="1" height="1" fill="#333" opacity="0.6"/>
<rect x="349.52" y="497.39" width="1" height="1" fill="#333" opacity="0.6"/>
<rect x="358.65" y="493.74" width="1" height="1" fill="#333" opacity="0.6"/>
<rect x="348.80" y="503.74" width="1" height="1" fill="#333" opacity="0.6"/>
<rect x="344.41" y="482.34" width="1" height="1" fill="#333" opacity="0.6"/>
<rect x="346.82" y="504.95" width="1" height="1" fill="#333" opacity="0.6"/>
<rect x="346.44" y="496.87" width="1" height="1" fill="#333" opacity="0.6"/>
<rect x="337.52" y="507.84" width="1" height="1" fill="#333" opacity="0.6"/>
<rect x="338.28" y="493.66" width="1" height="1" fill="#333" opacity="0.6"/>
<rect x="349.45" y="513.57" width="1" height="1" fill="#333" opacity="0.6"/>
<rect x="351.52" y="493.25" width="1" height="1" fill="#333" opacity="0.6"/>
<rect x="340.09" y="496.37" width="1" height="1" fill="#333" opacity="0.6"/>
<rect x="341.98" y="494.00" width="1" height="1" fill="#333" opacity="0.6"/>
<rect x="351.06" y="508.01" width="1" height="1" fill="#333" opacity="0.6"/>
<rect x="342.85" y="509.12" width="1" height="1" fill="#333" opacity="0.6"/>
<rect x="336.90" y="513.50" width="1" height="1" fill="#333" opacity="0.6"/>
<rect x="346.10" y="495.89" width="1" height="1" fill="#333" opacity="0.6"/>
<rect x="347.34" y="500.48" width="1" height="1" fill="#333" opacity="0.6"/>
<rect x="350.32" y="496.21" width="1" height="1" fill="#333" opacity="0.6"/>
<rect x="345.75" y="494.56" width="1" height="1" fill="#333" opacity="0.6"/>
<rect x="351.12" y="494.65" width="1" height="1" fill="#333" opacity="0.6"/>
<rect x="345.81" y="487.75" width="1" height="1" fill="#333" opacity="0.6"/>
<rect x="350.89" y="502.44" width="1" height="1" fill="#333" opacity="0.6"/>
<rect x="343.45" y="506.29" width="1" height="1" fill="#333" opacity="0.6"/>
<rect x="350.44" y="499.49" width="1" height="1" fill="#333" opacity="0.6"/>
<rect x="338.62" y="503.41" width="1" height="1" fill="#333" opacity="0.6"/>
<rect x="359.61" y="513.42" width="1" height="1" fill="#333" opacity="0.6"/>
<rect x="346.36" y="498.27" width="1" height="1" fill="#333" opacity="0.6"/>
<rect x="355.95" y="502.75" width="1" height="1" fill="#333" opacity="0.6"/>
<rect x="346.20" y="499.19" width="1" height="1" fill="#333" opacity="0.6"/>
<rect x="357.63" y="502.96" width="1" height="1" fill="#333" opacity="0.6"/>
<rect x="350.31" y="506.63" width="1" height="1" fill="#333" opacity="0.6"/>
<rect x="340.19" y="502.03" width="1" height="1" fill="#333" opacity="0.6"/>
<rect x="346.05" y="495.97" width="1" height="1" fill="#333" opacity="0.6"/>
<rect x="356.42" y="511.91" width="1" height="1" fill="#333" opacity="0.6"/>
<rect x="353.91" y="499.70" width="1" height="1" fill="#333" opacity="0.6"/>
<rect x="362.35" y="504.47" width="1" height="1" fill="#333" opacity="0.6"/>
<rect x="335.14" y="494.17" width="1" height="1" fill="#333" opacity="0.6"/>
<rect x="346.06" y="493.67" width="1" height="1" fill="#333" opacity="0.6"/>
<rect x="340.20" y="503.65" width="1" height="1" fill="#333" opacity="0.6"/>
<rect x="351.99" y="511.93" width="1" height="1" fill="#333" opacity="0.6"/>
<rect x="348.78" y="499.71" width="1" height="1" fill="#333" opacity="0.6"/>
<rect x="345.52" y="506.50" width="1" height="1" fill="#333" opacity="0.6"/>
<rect x="359.70" y="511.47" width="1" height="1" fill="#333" opacity="0.6"/>
<rect x="357.99" y="494.48" width="1" height="1" fill="#333" opacity="0.6"/>
<rect x="359.34" y="492.02" width="1" height="1" fill="#333" opacity="0.6"/>
<rect x="346.51" y="497.46" width="1" height="1" fill="#333" opacity="0.6"/>
<rect x="365.53" y="493.58" width="1" height="1" fill="#333" opacity="0.6"/>
<rect x="343.91" y="500.70" width="1" height="1" fill="#333" opacity="0.6"/>
<rect x="359.20" y="503.15" width="1" height="1" fill="#333" opacity="0.6"/>
<rect x="354.75" y="492.62" width="1" height="1" fill="#333" opacity="0.6"/>
<rect x="348.17" y="508.53" width="1" height="1" fill="#333" opacity="0.6"/>
<rect x="351.65" y="494.09" width="1" height="1" fill="#333" opacity="0.6"/>
<rect x="348.47" y="509.03" width="1" height="1" fill="#333" opacity="0.6"/>
<rect x="362.96" y="502.05" width="1" height="1" fill="#333" opacity="0.6"/>
<rect x="345.21" y="511.48" width="1" height="1" fill="#333" opacity="0.6"/>
<rect x="346.46" y="499.76" width="1" height="1" fill="#333" opacity="0.6"/>
<rect x="353.91" y="498.95" width="1" height="1" fill="#333" opacity="0.6"/>
<rect x="349.74" y="511.10" width="1" height="1" fill="#333" opacity="0.6"/>
<rect x="353.20" y="488.31" width="1" height="1" fill="#333" opacity="0.6"/>
<rect x="346.87" y="508.87" width="1" height="1" fill="#333" opacity="0.6"/>
<rect x="349.77" y="491.37" width="1" height="1" fill="#333" opacity="0.6"/>
<rect x="357.36" y="502.64" width="1" height="1" fill="#333" opacity="0.6"/>
<rect x="351.29" y="503.27" width="1" height="1" fill="#333" opacity="0.6"/>
<rect x="348.37" y="500.38" width="1" height="1" fill="#333" opacity="0.6"/>
<rect x="355.05" y="494.86" width="1" height="1" fill="#333" opacity="0.6"/>
<rect x="359.69" y="491.19" width="1" height="1" fill="#333" opacity="0.6"/>
<rect x="365.46" y="499.59" width="1" height="1" fill="#333" opacity="0.6"/>
<rect x="353.62" y="489.97" width="1" height="1" fill="#333" opacity="0.6"/>
<rect x="356.47" y="492.81" width="1" height="1" fill="#333" opacity="0.6"/>
<rect x="354.44" y="499.17" width="1" height="1" fill="#333" opacity="0.6"/>
<rect x="345.36" y="512.26" width="1" height="1" fill="#333" opacity="0.6"/>
<rect x="352.18" y="495.20" width="1" height="1" fill="#333" opacity="0.6"/>
<rect x="348.50" y="501.45" width="1" height="1" fill="#333" opacity="0.6"/>
<rect x="351.38" y="505.42" width="1" height="1" fill="#333" opacity="0.6"/>
<rect x="347.07" y="500.69" width="1" height="1" fill="#333" opacity="0.6"/>
<rect x="347.64" y="493.83" width="1" height="1" fill="#333" opacity="0.6"/>
<rect x="356.68" y="493.02" width="1" height="1" fill="#333" opacity="0.6"/>
<rect x="339.72" y="503.97" width="1" height="1" fill="#333" opacity="0.6"/>
<rect x="347.47" y="503.28" width="1" height="1" fill="#333" opacity="0.6"/>
<rect x="354.70" y="502.86" width="1" height="1" fill="#333" opacity="0.6"/>
<rect x="351.60" y="510.67" width="1" height="1" fill="#333" opacity="0.6"/>
<rect x="343.78" y="507.79" width="1" height="1" fill="#333" opacity="0.6"/>
<rect x="350.07" y="501.32" width="1" height="1" fill="#333" opacity="0.6"/>
<rect x="348.14" y="505.55" width="1" height="1" fill="#333" opacity="0.6"/>
<rect x="354.44" y="495.82" width="1" height="1" fill="#333" opacity="0.6"/>
<rect x="351.47" y="502.74" width="1" height="1" fill="#333" opacity="0.6"/>
<rect x="350.14" y="517.55" width="1" height="1" fill="#333" opacity="0.6"/>
<rect x="355.08" y="496.26" width="1" height="1" fill="#333" opacity="0.6"/>
<rect x="358.19" y="501.17" width="1" height="1" fill="#333" opacity="0.6"/>
<rect x="347.56" y="496.65" width="1" height="1" fill="#333" opacity="0.6"/>
<rect x="340.07" y="504.81" width="1" height="1" fill="#333" opacity="0.6"/>
<rect x="361.65" y="498.60" width="1" height="1" fill="#333" opacity="0.6"/>
<rect x="345.61" y="486.41" width="1" height="1" fill="#333" opacity="0.6"/>
<rect x="342.71" y="499.19" width="1" height="1" fill="#333" opacity="0.6"/>
<rect x="346.74" y="498.03" width="1" height="1" fill="#333" opacity="0.6"/>
<rect x="345.34" y="498.02" width="1" height="1" fill="#333" opacity="0.6"/>
<rect x="349.59" y="500.55" width="1" height="1" fill="#333" opacity="0.6"/>
<rect x="351.78" y="500.62" width="1" height="1" fill="#333" opacity="0.6"/>
<rect x="345.53" y="497.10" width="1" height="1" fill="#333" opacity="0.6"/>
<rect x="342.72" y="495.46" width="1" height="1" fill="#333" opacity="0.6"/>
<rect x="350.89" y="502.39" width="1" height="1" fill="#333" opacity="0.6"/>
<rect x="341.84" y="492.11" width="1" height="1" fill="#333" opacity="0.6"/>
<rect x="347.45" y="490.19" width="1" height="1" fill="#333" opacity="0.6"/>
<rect x="349.13" y="497.70" width="1" height="1" fill="#333" opacity="0.6"/>
<rect x="346.14" y="511.13" width="1" height="1" fill="#333" opacity="0.6"/>
<rect x="348.15" y="500.95" width="1" height="1" fill="#333" opacity="0.6"/>
<rect x="338.84" y="505.28" width="1" height="1" fill="#333" opacity="0.6"/>
<rect x="353.28" y="500.61" width="1" height="1" fill="#333" opacity="0.6"/>
<rect x="336.29" y="498.66" width="1" height="1" fill="#333" opacity="0.6"/>
<rect x="346.42" y="502.10" width="1" height="1" fill="#333" opacity="0.6"/>
<rect x="350.85" y="495.18" width="1" height="1" fill="#333" opacity="0.6"/>
<rect x="347.84" y="508.22" width="1" height="1" fill="#333" opacity="0.6"/>
<rect x="358.63" y="486.41" width="1" height="1" fill="#333" opacity="0.6"/>
<rect x="347.98" y="503.75" width="1" height="1" fill="#333" opacity="0.6"/>
<rect x="348.17" y="501.39" width="1" height="1" fill="#333" opacity="0.6"/>
<rect x="348.81" y="511.16" width="1" height="1" fill="#333" opacity="0.6"/>
<rect x="356.01" y="497.72" width="1" height="1" fill="#333" opacity="0.6"/>
<rect x="360.81" y="503.90" width="1" height="1" fill="#333" opacity="0.6"/>
<rect x="362.67" y="495.69" width="1" height="1" fill="#333" opacity="0.6"/>
<rect x="340.64" y="504.96" width="1" height="1" fill="#333" opacity="0.6"/>
<rect x="351.26" y="486.15" width="1" height="1" fill="#333" opacity="0.6"/>
<rect x="324.58" y="499.75" width="1" height="1" fill="#333" opacity="0.6"/>
<rect x="351.48" y="493.11" width="1" height="1" fill="#333" opacity="0.6"/>
<rect x="347.76" y="499.87" width="1" height="1" fill="#333" opacity="0.6"/>
<rect x="341.39" y="508.30" width="1" height="1" fill="#333" opacity="0.6"/>
<rect x="342.00" y="499.29" width="1" height="1" fill="#333" opacity="0.6"/>
<rect x="351.04" y="495.35" width="1" height="1" fill="#333" opacity="0.6"/>
<rect x="345.62" y="505.35" width="1" height="1" fill="#333" opacity="0.6"/>
<rect x="339.87" y="498.94" width="1" height="1" fill="#333" opacity="0.6"/>
<rect x="362.11" y="493.30" width="1" height="1" fill="#333" opacity="0.6"/>
<rect x="340.31" y="495.29" width="1" height="1" fill="#333" opacity="0.6"/>
<rect x="330.60" y="493.24" width="1" height="1" fill="#333" opacity="0.6"/>
<rect x="342.78" y="492.76" width="1" height="1" fill="#333" opacity="0.6"/>
<rect x="344.71" y="503.26" width="1" height="1" fill="#333" opacity="0.6"/>
<rect x="351.09" y="491.28" width="1" height="1" fill="#333" opacity="0.6"/>
<rect x="359.79" y="491.62" width="1" height="1" fill="#333" opacity="0.6"/>
<rect x="361.03" y="495.23" width="1" height="1" fill="#333" opacity="0.6"/>
<rect x="344.44" y="495.45" width="1" height="1" fill="#333" opacity="0.6"/>
<rect x="360.74" y="499.75" width="1" height="1" fill="#333" opacity="0.6"/>
<rect x="350.60" y="486.48" width="1" height="1" fill="#333" opacity="0.6"/>
<rect x="350.61" y="496.48" width="1" height="1" fill="#333" opacity="0.6"/>
<rect x="348.22" y="492.94" width="1" height="1" fill="#333" opacity="0.6"/>
<rect x="339.72" y="508.23" width="1" height="1" fill="#333" opacity="0.6"/>
<rect x="324.77" y="515.29" width="1" height="1" fill="#333" opacity="0.6"/>
<rect x="320.91" y="521.29" width="1" height="1" fill="#333" opacity="0.6"/>
<rect x="330.74" y="513.65" width="1" height="1" fill="#333" opacity="0.6"/>
<rect x="316.65" y="509.56" width="1" height="1" fill="#333" opacity="0.6"/>
<rect x="332.89" y="509.30" width="1" height="1" fill="#333" opacity="0.6"/>
<rect x="336.98" y="510.12" width="1" height="1" fill="#333" opacity="0.6"/>
<rect x="331.04" y="510.69" width="1" height="1" fill="#333" opacity="0.6"/>
<rect x="332.80" y="516.75" width="1" height="1" fill="#333" opacity="0.6"/>
<rect x="342.34" y="501.01" width="1" height="1" fill="#333" opacity="0.6"/>
<rect x="338.34" y="512.98" width="1" height="1" fill="#333" opacity="0.6"/>
<rect x="329.16" y="509.94" width="1" height="1" fill="#333" opacity="0.6"/>
<rect x="329.96" y="514.76" width="1" height="1" fill="#333" opacity="0.6"/>
<rect x="328.87" y="509.51" width="1" height="1" fill="#333" opacity="0.6"/>
<rect x="325.29" y="519.55" width="1" height="1" fill="#333" opacity="0.6"/>
<rect x="325.40" y="518.54" width="1" height="1" fill="#333" opacity="0.6"/>
<rect x="319.77" y="523.62" width="1" height="1" fill="#333" opacity="0.6"/>
<rect x="325.40" y="505.01" width="1" height="1" fill="#333" opacity="0.6"/>
<rect x="335.60" y="513.81" width="1" height="1" fill="#333" opacity="0.6"/>
<rect x="329.02" y="508.20" width="1" height="1" fill="#333" opacity="0.6"/>
<rect x="333.30" y="509.86" width="1" height="1" fill="#333" opacity="0.6"/>
<rect x="313.04" y="518.96" width="1" height="1" fill="#333" opacity="0.6"/>
<rect x="330.26" y="514.29" width="1" height="1" fill="#333" opacity="0.6"/>
<rect x="333.84" y="514.18" width="1" height="1" fill="#333" opacity="0.6"/>
<rect x="325.90" y="514.05" width="1" height="1" fill="#333" opacity="0.6"/>
<rect x="336.16" y="510.07" width="1" height="1" fill="#333" opacity="0.6"/>
<rect x="336.22" y="504.26" width="1" height="1" fill="#333" opacity="0.6"/>
<rect x="330.06" y="518.18" width="1" height="1" fill="#333" opacity="0.6"/>
<rect x="329.75" y="508.98" width="1" height="1" fill="#333" opacity="0.6"/>
<rect x="331.92" y="514.66" width="1" height="1" fill="#333" opacity="0.6"/>
<rect x="340.23" y="503.46" width="1" height="1" fill="#333" opacity="0.6"/>
<rect x="328.48" y="505.44" width="1" height="1" fill="#333" opacity="0.6"/>
<rect x="343.08" y="504.56" width="1" height="1" fill="#333" opacity="0.6"/>
<rect x="319.74" y="518.30" width="1" height="1" fill="#333" opacity="0.6"/>
<rect x="344.45" y="508.34" width="1" height="1" fill="#333" opacity="0.6"/>
<rect x="329.31" y="512.69" width="1" height="1" fill="#333" opacity="0.6"/>
<rect x="329.34" y="518.04" width="1" height="1" fill="#333" opacity="0.6"/>
<rect x="332.77" y="514.20" width="1" height="1" fill="#333" opacity="0.6"/>
<rect x="348.53" y="475.36" width="1" height="1" fill="#333" opacity="0.6"/>
<rect x="361.95" y="470.44" width="1" height="1" fill="#333" opacity="0.6"/>
<rect x="359.94" y="485.11" width="1" height="1" fill="#333" opacity="0.6"/>
<rect x="356.88" y="478.20" width="1" height="1" fill="#333" opacity="0.6"/>
<rect x="364.37" y="474.33" width="1" height="1" fill="#333" opacity="0.6"/>
<rect x="355.09" y="480.17" width="1" height="1" fill="#333" opacity="0.6"/>
<rect x="348.95" y="485.76" width="1" height="1" fill="#333" opacity="0.6"/>
<rect x="343.50" y="488.91" width="1" height="1" fill="#333" opacity="0.6"/>
<rect x="360.63" y="469.68" width="1" height="1" fill="#333" opacity="0.6"/>
<rect x="355.41" y="472.99" width="1" height="1" fill="#333" opacity="0.6"/>
<rect x="362.51" y="473.91" width="1" height="1" fill="#333" opacity="0.6"/>
<rect x="361.12" y="476.29" width="1" height="1" fill="#333" opacity="0.6"/>
<rect x="344.60" y="484.62" width="1" height="1" fill="#333" opacity="0.6"/>
<rect x="345.33" y="495.00" width="1" height="1" fill="#333" opacity="0.6"/>
<rect x="353.16" y="479.47" width="1" height="1" fill="#333" opacity="0.6"/>
<rect x="355.21" y="482.42" width="1" height="1" fill="#333" opacity="0.6"/>
<rect x="351.68" y="478.51" width="1" height="1" fill="#333" opacity="0.6"/>
<rect x="344.99" y="481.65" width="1" height="1" fill="#333" opacity="0.6"/>
<rect x="361.13" y="476.90" width="1" height="1" fill="#333" opacity="0.6"/>
<rect x="362.18" y="470.86" width="1" height="1" fill="#333" opacity="0.6"/>
<rect x="352.37" y="471.68" width="1" height="1" fill="#333" opacity="0.6"/>
<rect x="349.94" y="484.27" width="1" height="1" fill="#333" opacity="0.6"/>
<rect x="360.59" y="490.87" width="1" height="1" fill="#333" opacity="0.6"/>
<rect x="354.14" y="470.00" width="1" height="1" fill="#333" opacity="0.6"/>
<rect x="358.55" y="483.44" width="1" height="1" fill="#333" opacity="0.6"/>
<rect x="338.02" y="480.98" width="1" height="1" fill="#333" opacity="0.6"/>
<rect x="349.41" y="488.50" width="1" height="1" fill="#333" opacity="0.6"/>
<rect x="358.27" y="487.21" width="1" height="1" fill="#333" opacity="0.6"/>
<rect x="350.05" y="481.29" width="1" height="1" fill="#333" opacity="0.6"/>
<rect x="353.35" y="480.47" width="1" height="1" fill="#333" opacity="0.6"/>
<rect x="354.77" y="484.80" width="1" height="1" fill="#333" opacity="0.6"/>
<rect x="359.64" y="473.40" width="1" height="1" fill="#333" opacity="0.6"/>
<rect x="350.79" y="486.88" width="1" height="1" fill="#333" opacity="0.6"/>
<rect x="361.97" y="470.02" width="1" height="1" fill="#333" opacity="0.6"/>
<rect x="358.15" y="483.18" width="1" height="1" fill="#333" opacity="0.6"/>
<rect x="357.50" y="479.63" width="1" height="1" fill="#333" opacity="0.6"/>
<rect x="362.15" y="479.58" width="1" height="1" fill="#333" opacity="0.6"/>
<rect x="356.43" y="481.94" width="1" height="1" fill="#333" opacity="0.6"/>
<rect x="360.43" y="470.32" width="1" height="1" fill="#333" opacity="0.6"/>
<rect x="348.50" y="487.53" width="1" height="1" fill="#333" opacity="0.6"/>
<rect x="352.17" y="473.16" width="1" height="1" fill="#333" opacity="0.6"/>
<rect x="350.51" y="487.47" width="1" height="1" fill="#333" opacity="0.6"/>
<rect x="350.25" y="481.97" width="1" height="1" fill="#333" opacity="0.6"/>
<rect x="350.79" y="486.38" width="1" height="1" fill="#333" opacity="0.6"/>
<rect x="357.26" y="494.32" width="1" height="1" fill="#333" opacity="0.6"/>
<rect x="362.55" y="483.35" width="1" height="1" fill="#333" opacity="0.6"/>
<rect x="359.49" y="477.28" width="1" height="1" fill="#333" opacity="0.6"/>
<rect x="347.67" y="482.03" width="1" height="1" fill="#333" opacity="0.6"/>
<rect x="354.30" y="487.51" width="1" height="1" fill="#333" opacity="0.6"/>
<rect x="351.20" y="487.09" width="1" height="1" fill="#333" opacity="0.6"/>
<rect x="353.91" y="481.75" width="1" height="1" fill="#333" opacity="0.6"/>
<rect x="348.59" y="489.44" width="1" height="1" fill="#333" opacity="0.6"/>
<rect x="352.41" y="492.36" width="1" height="1" fill="#333" opacity="0.6"/>
<rect x="360.62" y="475.47" width="1" height="1" fill="#333" opacity="0.6"/>
<rect x="346.42" y="478.79" width="1" height="1" fill="#333" opacity="0.6"/>
<rect x="353.09" y="473.64" width="1" height="1" fill="#333" opacity="0.6"/>
<rect x="367.71" y="489.14" width="1" height="1" fill="#333" opacity="0.6"/>
<rect x="335.02" y="512.41" width="1" height="1" fill="#333" opacity="0.6"/>
<rect x="344.94" y="517.16" width="1" height="1" fill="#333" opacity="0.6"/>
<rect x="343.03" y="486.42" width="1" height="1" fill="#333" opacity="0.6"/>
<rect x="357.69" y="506.74" width="1" height="1" fill="#333" opacity="0.6"/>
<rect x="334.32" y="487.24" width="1" height="1" fill="#333" opacity="0.6"/>
<rect x="338.67" y="489.14" width="1" height="1" fill="#333" opacity="0.6"/>
<rect x="328.95" y="486.88" width="1" height="1" fill="#333" opacity="0.6"/>
<rect x="355.42" y="475.00" width="1" height="1" fill="#333" opacity="0.6"/>
<rect x="360.17" y="503.06" width="1" height="1" fill="#333" opacity="0.6"/>
<rect x="356.46" y="506.75" width="1" height="1" fill="#333" opacity="0.6"/>
<rect x="335.00" y="474.82" width="1" height="1" fill="#333" opacity="0.6"/>
<rect x="361.72" y="495.50" width="1" height="1" fill="#333" opacity="0.6"/>
<rect x="352.08" y="509.32" width="1" height="1" fill="#333" opacity="0.6"/>
<rect x="328.31" y="495.21" width="1" height="1" fill="#333" opacity="0.6"/>
<rect x="345.51" y="482.77" width="1" height="1" fill="#333" opacity="0.6"/>
<rect x="334.09" y="496.05" width="1" height="1" fill="#333" opacity="0.6"/>
<rect x="350.87" y="513.24" width="1" height="1" fill="#333" opacity="0.6"/>
<rect x="358.17" y="515.56" width="1" height="1" fill="#333" opacity="0.6"/>
<rect x="339.66" y="499.37" width="1" height="1" fill="#333" opacity="0.6"/>
<rect x="345.17" y="491.68" width="1" height="1" fill="#333" opacity="0.6"/>
<rect x="338.77" y="514.10" width="1" height="1" fill="#333" opacity="0.6"/>
<rect x="366.15" y="496.66" width="1" height="1" fill="#333" opacity="0.6"/>
<rect x="334.42" y="518.82" width="1" height="1" fill="#333" opacity="0.6"/>
<rect x="360.84" y="492.49" width="1" height="1" fill="#333" opacity="0.6"/>
<rect x="355.85" y="500.41" width="1" height="1" fill="#333" opacity="0.6"/>
<rect x="344.59" y="494.29" width="1" height="1" fill="#333" opacity="0.6"/>
<rect x="333.14" y="481.88" width="1" height="1" fill="#333" opacity="0.6"/>
<rect x="343.67" y="481.06" width="1" height="1" fill="#333" opacity="0.6"/>
<rect x="350.85" y="491.79" width="1" height="1" fill="#333" opacity="0.6"/>
<rect x="334.14" y="500.49" width="1" height="1" fill="#333" opacity="0.6"/>
<rect x="335.37" y="490.94" width="1" height="1" fill="#333" opacity="0.6"/>
<rect x="332.90" y="504.47" width="1" height="1" fill="#333" opacity="0.6"/>
<text x="347.80" y="541.30" font-size="8" fill="#222" stroke="#222" stroke-width="0.15" text-anchor="middle" textLength="39.2" lengthAdjust="spacingAndGlyphs">MYH9 log<tspan font-size="4.6" dy="1.5">2</tspan><tspan dy="-1.5">(TPM)</tspan></text>
<line x1="328.20" y1="542.00" x2="342.70" y2="542.00" stroke="#333" stroke-width="0.7" />
<text transform="translate(303.40,496.80) rotate(-90)" x="0" y="2.7" font-size="7.6" fill="#222" stroke="#222" stroke-width="0.12" text-anchor="middle" textLength="43.0" lengthAdjust="spacingAndGlyphs">GCLM log<tspan font-size="4.4" dy="1.5">2</tspan><tspan dy="-1.5">(TPM)</tspan></text>
<line x1="306.70" y1="518.30" x2="306.70" y2="505.40" stroke="#222" stroke-width="0.6" />
<text x="428.15" y="449.56" font-size="8.0" fill="#d42f3a" text-anchor="middle" stroke="#d42f3a" stroke-width="0.25" textLength="36.69999999999999" lengthAdjust="spacingAndGlyphs" >MYH9 – GPX2</text>
<line x1="409.80" y1="450.00" x2="446.50" y2="450.00" stroke="#d42f3a" stroke-width="0.7" />
<text x="428.60" y="460.40" font-size="7.8" fill="#d42f3a" stroke="#d42f3a" stroke-width="0.2" text-anchor="middle" textLength="44.0" lengthAdjust="spacingAndGlyphs"><tspan font-style="italic">R</tspan> = -0.01, <tspan font-style="italic">p</tspan> =0.900</text>
<rect x="397.10" y="465.20" width="63.90" height="60.50" fill="#fff" stroke="#9a9a9a" stroke-width="0.8" />
<line x1="404.20" y1="525.70" x2="404.20" y2="526.90" stroke="#777" stroke-width="0.5" />
<text x="404.20" y="531.45" font-size="3.2" fill="#555" text-anchor="middle" stroke="#555" stroke-width="0.18" >5</text>
<line x1="414.30" y1="525.70" x2="414.30" y2="526.90" stroke="#777" stroke-width="0.5" />
<text x="414.30" y="531.45" font-size="3.2" fill="#555" text-anchor="middle" stroke="#555" stroke-width="0.18" >6</text>
<line x1="424.40" y1="525.70" x2="424.40" y2="526.90" stroke="#777" stroke-width="0.5" />
<text x="424.40" y="531.45" font-size="3.2" fill="#555" text-anchor="middle" stroke="#555" stroke-width="0.18" >7</text>
<line x1="434.40" y1="525.70" x2="434.40" y2="526.90" stroke="#777" stroke-width="0.5" />
<text x="434.40" y="531.45" font-size="3.2" fill="#555" text-anchor="middle" stroke="#555" stroke-width="0.18" >8</text>
<line x1="444.50" y1="525.70" x2="444.50" y2="526.90" stroke="#777" stroke-width="0.5" />
<text x="444.50" y="531.45" font-size="3.2" fill="#555" text-anchor="middle" stroke="#555" stroke-width="0.18" >9</text>
<line x1="454.60" y1="525.70" x2="454.60" y2="526.90" stroke="#777" stroke-width="0.5" />
<text x="454.60" y="531.45" font-size="3.2" fill="#555" text-anchor="middle" stroke="#555" stroke-width="0.18" >10</text>
<line x1="395.90" y1="472.30" x2="397.10" y2="472.30" stroke="#777" stroke-width="0.5" />
<text transform="translate(394.10,472.30) rotate(-90)" x="0" y="1.15" font-size="3.2" fill="#555" text-anchor="middle" stroke="#555" stroke-width="0.18" >10</text>
<line x1="395.90" y1="482.70" x2="397.10" y2="482.70" stroke="#777" stroke-width="0.5" />
<text transform="translate(394.10,482.70) rotate(-90)" x="0" y="1.15" font-size="3.2" fill="#555" text-anchor="middle" stroke="#555" stroke-width="0.18" >8</text>
<line x1="395.90" y1="493.40" x2="397.10" y2="493.40" stroke="#777" stroke-width="0.5" />
<text transform="translate(394.10,493.40) rotate(-90)" x="0" y="1.15" font-size="3.2" fill="#555" text-anchor="middle" stroke="#555" stroke-width="0.18" >6</text>
<line x1="395.90" y1="503.50" x2="397.10" y2="503.50" stroke="#777" stroke-width="0.5" />
<text transform="translate(394.10,503.50) rotate(-90)" x="0" y="1.15" font-size="3.2" fill="#555" text-anchor="middle" stroke="#555" stroke-width="0.18" >4</text>
<line x1="395.90" y1="514.00" x2="397.10" y2="514.00" stroke="#777" stroke-width="0.5" />
<text transform="translate(394.10,514.00) rotate(-90)" x="0" y="1.15" font-size="3.2" fill="#555" text-anchor="middle" stroke="#555" stroke-width="0.18" >2</text>
<line x1="395.90" y1="524.30" x2="397.10" y2="524.30" stroke="#777" stroke-width="0.5" />
<text transform="translate(394.10,524.30) rotate(-90)" x="0" y="1.15" font-size="3.2" fill="#555" text-anchor="middle" stroke="#555" stroke-width="0.18" >0</text>
<text x="398.90" y="469.31" font-size="3.1" fill="#222" text-anchor="start" stroke="#222" stroke-width="0.05" >p-value = 0.5</text>
<text x="398.90" y="472.51" font-size="3.1" fill="#222" text-anchor="start" stroke="#222" stroke-width="0.05" >R = -0.0052</text>
<rect x="453.60" y="519.15" width="1" height="1" fill="#333" opacity="0.6"/>
<rect x="432.30" y="471.43" width="1" height="1" fill="#333" opacity="0.6"/>
<rect x="433.78" y="497.78" width="1" height="1" fill="#333" opacity="0.6"/>
<rect x="435.77" y="474.19" width="1" height="1" fill="#333" opacity="0.6"/>
<rect x="442.01" y="479.54" width="1" height="1" fill="#333" opacity="0.6"/>
<rect x="446.09" y="493.35" width="1" height="1" fill="#333" opacity="0.6"/>
<rect x="442.22" y="508.39" width="1" height="1" fill="#333" opacity="0.6"/>
<rect x="439.93" y="491.35" width="1" height="1" fill="#333" opacity="0.6"/>
<rect x="428.95" y="487.68" width="1" height="1" fill="#333" opacity="0.6"/>
<rect x="438.66" y="469.90" width="1" height="1" fill="#333" opacity="0.6"/>
<rect x="441.29" y="505.32" width="1" height="1" fill="#333" opacity="0.6"/>
<rect x="431.02" y="503.14" width="1" height="1" fill="#333" opacity="0.6"/>
<rect x="445.57" y="511.33" width="1" height="1" fill="#333" opacity="0.6"/>
<rect x="438.37" y="488.25" width="1" height="1" fill="#333" opacity="0.6"/>
<rect x="430.91" y="485.05" width="1" height="1" fill="#333" opacity="0.6"/>
<rect x="435.32" y="471.56" width="1" height="1" fill="#333" opacity="0.6"/>
<rect x="429.30" y="501.35" width="1" height="1" fill="#333" opacity="0.6"/>
<rect x="441.18" y="492.90" width="1" height="1" fill="#333" opacity="0.6"/>
<rect x="436.92" y="477.03" width="1" height="1" fill="#333" opacity="0.6"/>
<rect x="436.29" y="485.58" width="1" height="1" fill="#333" opacity="0.6"/>
<rect x="441.22" y="473.24" width="1" height="1" fill="#333" opacity="0.6"/>
<rect x="435.57" y="472.32" width="1" height="1" fill="#333" opacity="0.6"/>
<rect x="444.56" y="500.30" width="1" height="1" fill="#333" opacity="0.6"/>
<rect x="440.76" y="514.92" width="1" height="1" fill="#333" opacity="0.6"/>
<rect x="436.46" y="483.52" width="1" height="1" fill="#333" opacity="0.6"/>
<rect x="444.96" y="484.48" width="1" height="1" fill="#333" opacity="0.6"/>
<rect x="440.91" y="481.75" width="1" height="1" fill="#333" opacity="0.6"/>
<rect x="431.42" y="472.82" width="1" height="1" fill="#333" opacity="0.6"/>
<rect x="441.65" y="515.39" width="1" height="1" fill="#333" opacity="0.6"/>
<rect x="429.54" y="480.54" width="1" height="1" fill="#333" opacity="0.6"/>
<rect x="425.53" y="501.47" width="1" height="1" fill="#333" opacity="0.6"/>
<rect x="435.39" y="522.28" width="1" height="1" fill="#333" opacity="0.6"/>
<rect x="448.27" y="469.80" width="1" height="1" fill="#333" opacity="0.6"/>
<rect x="454.82" y="491.06" width="1" height="1" fill="#333" opacity="0.6"/>
<rect x="451.21" y="507.05" width="1" height="1" fill="#333" opacity="0.6"/>
<rect x="441.23" y="523.95" width="1" height="1" fill="#333" opacity="0.6"/>
<rect x="444.87" y="498.28" width="1" height="1" fill="#333" opacity="0.6"/>
<rect x="439.46" y="523.99" width="1" height="1" fill="#333" opacity="0.6"/>
<rect x="433.51" y="488.74" width="1" height="1" fill="#333" opacity="0.6"/>
<rect x="440.40" y="493.99" width="1" height="1" fill="#333" opacity="0.6"/>
<rect x="441.92" y="478.10" width="1" height="1" fill="#333" opacity="0.6"/>
<rect x="454.07" y="479.24" width="1" height="1" fill="#333" opacity="0.6"/>
<rect x="433.04" y="472.61" width="1" height="1" fill="#333" opacity="0.6"/>
<rect x="435.60" y="498.58" width="1" height="1" fill="#333" opacity="0.6"/>
<rect x="438.78" y="514.46" width="1" height="1" fill="#333" opacity="0.6"/>
<rect x="439.37" y="519.65" width="1" height="1" fill="#333" opacity="0.6"/>
<rect x="446.30" y="492.74" width="1" height="1" fill="#333" opacity="0.6"/>
<rect x="431.95" y="514.51" width="1" height="1" fill="#333" opacity="0.6"/>
<rect x="450.96" y="519.32" width="1" height="1" fill="#333" opacity="0.6"/>
<rect x="436.94" y="507.39" width="1" height="1" fill="#333" opacity="0.6"/>
<rect x="433.30" y="515.46" width="1" height="1" fill="#333" opacity="0.6"/>
<rect x="436.43" y="483.92" width="1" height="1" fill="#333" opacity="0.6"/>
<rect x="435.81" y="490.67" width="1" height="1" fill="#333" opacity="0.6"/>
<rect x="440.63" y="498.95" width="1" height="1" fill="#333" opacity="0.6"/>
<rect x="431.28" y="515.27" width="1" height="1" fill="#333" opacity="0.6"/>
<rect x="446.63" y="486.12" width="1" height="1" fill="#333" opacity="0.6"/>
<rect x="445.28" y="499.50" width="1" height="1" fill="#333" opacity="0.6"/>
<rect x="442.01" y="522.64" width="1" height="1" fill="#333" opacity="0.6"/>
<rect x="435.28" y="471.14" width="1" height="1" fill="#333" opacity="0.6"/>
<rect x="431.99" y="480.37" width="1" height="1" fill="#333" opacity="0.6"/>
<rect x="436.41" y="499.59" width="1" height="1" fill="#333" opacity="0.6"/>
<rect x="432.52" y="508.88" width="1" height="1" fill="#333" opacity="0.6"/>
<rect x="440.80" y="466.73" width="1" height="1" fill="#333" opacity="0.6"/>
<rect x="431.32" y="474.87" width="1" height="1" fill="#333" opacity="0.6"/>
<rect x="447.45" y="517.68" width="1" height="1" fill="#333" opacity="0.6"/>
<rect x="442.33" y="476.72" width="1" height="1" fill="#333" opacity="0.6"/>
<rect x="448.91" y="493.01" width="1" height="1" fill="#333" opacity="0.6"/>
<rect x="437.13" y="507.78" width="1" height="1" fill="#333" opacity="0.6"/>
<rect x="440.76" y="494.83" width="1" height="1" fill="#333" opacity="0.6"/>
<rect x="436.47" y="499.30" width="1" height="1" fill="#333" opacity="0.6"/>
<rect x="432.00" y="497.54" width="1" height="1" fill="#333" opacity="0.6"/>
<rect x="435.38" y="471.60" width="1" height="1" fill="#333" opacity="0.6"/>
<rect x="452.79" y="518.22" width="1" height="1" fill="#333" opacity="0.6"/>
<rect x="444.49" y="512.34" width="1" height="1" fill="#333" opacity="0.6"/>
<rect x="433.73" y="506.23" width="1" height="1" fill="#333" opacity="0.6"/>
<rect x="435.24" y="485.36" width="1" height="1" fill="#333" opacity="0.6"/>
<rect x="436.19" y="487.11" width="1" height="1" fill="#333" opacity="0.6"/>
<rect x="434.20" y="486.64" width="1" height="1" fill="#333" opacity="0.6"/>
<rect x="455.10" y="489.37" width="1" height="1" fill="#333" opacity="0.6"/>
<rect x="429.03" y="494.69" width="1" height="1" fill="#333" opacity="0.6"/>
<rect x="445.30" y="499.17" width="1" height="1" fill="#333" opacity="0.6"/>
<rect x="439.32" y="471.76" width="1" height="1" fill="#333" opacity="0.6"/>
<rect x="444.74" y="479.32" width="1" height="1" fill="#333" opacity="0.6"/>
<rect x="438.39" y="496.15" width="1" height="1" fill="#333" opacity="0.6"/>
<rect x="452.16" y="473.01" width="1" height="1" fill="#333" opacity="0.6"/>
<rect x="436.29" y="499.90" width="1" height="1" fill="#333" opacity="0.6"/>
<rect x="440.27" y="492.59" width="1" height="1" fill="#333" opacity="0.6"/>
<rect x="442.67" y="516.70" width="1" height="1" fill="#333" opacity="0.6"/>
<rect x="435.59" y="481.11" width="1" height="1" fill="#333" opacity="0.6"/>
<rect x="448.66" y="469.02" width="1" height="1" fill="#333" opacity="0.6"/>
<rect x="438.50" y="514.12" width="1" height="1" fill="#333" opacity="0.6"/>
<rect x="438.51" y="475.15" width="1" height="1" fill="#333" opacity="0.6"/>
<rect x="445.59" y="515.91" width="1" height="1" fill="#333" opacity="0.6"/>
<rect x="448.47" y="489.85" width="1" height="1" fill="#333" opacity="0.6"/>
<rect x="445.22" y="506.59" width="1" height="1" fill="#333" opacity="0.6"/>
<rect x="438.80" y="520.50" width="1" height="1" fill="#333" opacity="0.6"/>
<rect x="442.03" y="505.13" width="1" height="1" fill="#333" opacity="0.6"/>
<rect x="448.09" y="520.30" width="1" height="1" fill="#333" opacity="0.6"/>
<rect x="455.06" y="477.27" width="1" height="1" fill="#333" opacity="0.6"/>
<rect x="448.37" y="474.71" width="1" height="1" fill="#333" opacity="0.6"/>
<rect x="440.57" y="509.68" width="1" height="1" fill="#333" opacity="0.6"/>
<rect x="429.48" y="500.12" width="1" height="1" fill="#333" opacity="0.6"/>
<rect x="441.48" y="511.97" width="1" height="1" fill="#333" opacity="0.6"/>
<rect x="443.34" y="501.39" width="1" height="1" fill="#333" opacity="0.6"/>
<rect x="431.55" y="485.78" width="1" height="1" fill="#333" opacity="0.6"/>
<rect x="441.41" y="517.06" width="1" height="1" fill="#333" opacity="0.6"/>
<rect x="441.64" y="478.66" width="1" height="1" fill="#333" opacity="0.6"/>
<rect x="434.42" y="503.06" width="1" height="1" fill="#333" opacity="0.6"/>
<rect x="442.03" y="497.97" width="1" height="1" fill="#333" opacity="0.6"/>
<rect x="443.90" y="487.85" width="1" height="1" fill="#333" opacity="0.6"/>
<rect x="434.11" y="504.92" width="1" height="1" fill="#333" opacity="0.6"/>
<rect x="439.02" y="484.90" width="1" height="1" fill="#333" opacity="0.6"/>
<rect x="424.70" y="518.80" width="1" height="1" fill="#333" opacity="0.6"/>
<rect x="457.85" y="474.12" width="1" height="1" fill="#333" opacity="0.6"/>
<rect x="437.35" y="488.93" width="1" height="1" fill="#333" opacity="0.6"/>
<rect x="441.34" y="468.83" width="1" height="1" fill="#333" opacity="0.6"/>
<rect x="427.38" y="489.81" width="1" height="1" fill="#333" opacity="0.6"/>
<rect x="437.73" y="498.07" width="1" height="1" fill="#333" opacity="0.6"/>
<rect x="428.69" y="478.92" width="1" height="1" fill="#333" opacity="0.6"/>
<rect x="437.62" y="485.13" width="1" height="1" fill="#333" opacity="0.6"/>
<rect x="440.75" y="491.71" width="1" height="1" fill="#333" opacity="0.6"/>
<rect x="443.34" y="490.95" width="1" height="1" fill="#333" opacity="0.6"/>
<rect x="431.72" y="481.01" width="1" height="1" fill="#333" opacity="0.6"/>
<rect x="435.64" y="492.78" width="1" height="1" fill="#333" opacity="0.6"/>
<rect x="448.39" y="476.71" width="1" height="1" fill="#333" opacity="0.6"/>
<rect x="443.21" y="523.58" width="1" height="1" fill="#333" opacity="0.6"/>
<rect x="431.84" y="498.15" width="1" height="1" fill="#333" opacity="0.6"/>
<rect x="434.59" y="502.39" width="1" height="1" fill="#333" opacity="0.6"/>
<rect x="434.70" y="520.71" width="1" height="1" fill="#333" opacity="0.6"/>
<rect x="448.99" y="491.88" width="1" height="1" fill="#333" opacity="0.6"/>
<rect x="438.38" y="470.20" width="1" height="1" fill="#333" opacity="0.6"/>
<rect x="442.98" y="489.06" width="1" height="1" fill="#333" opacity="0.6"/>
<rect x="434.03" y="469.87" width="1" height="1" fill="#333" opacity="0.6"/>
<rect x="445.82" y="524.01" width="1" height="1" fill="#333" opacity="0.6"/>
<rect x="440.88" y="510.19" width="1" height="1" fill="#333" opacity="0.6"/>
<rect x="437.03" y="482.60" width="1" height="1" fill="#333" opacity="0.6"/>
<rect x="430.16" y="476.45" width="1" height="1" fill="#333" opacity="0.6"/>
<rect x="437.61" y="501.20" width="1" height="1" fill="#333" opacity="0.6"/>
<rect x="438.09" y="496.85" width="1" height="1" fill="#333" opacity="0.6"/>
<rect x="436.31" y="470.49" width="1" height="1" fill="#333" opacity="0.6"/>
<rect x="438.63" y="494.42" width="1" height="1" fill="#333" opacity="0.6"/>
<rect x="445.18" y="484.76" width="1" height="1" fill="#333" opacity="0.6"/>
<rect x="446.88" y="503.12" width="1" height="1" fill="#333" opacity="0.6"/>
<rect x="439.51" y="497.86" width="1" height="1" fill="#333" opacity="0.6"/>
<rect x="430.62" y="478.14" width="1" height="1" fill="#333" opacity="0.6"/>
<rect x="429.21" y="482.35" width="1" height="1" fill="#333" opacity="0.6"/>
<rect x="454.21" y="483.28" width="1" height="1" fill="#333" opacity="0.6"/>
<rect x="431.34" y="513.15" width="1" height="1" fill="#333" opacity="0.6"/>
<rect x="439.84" y="483.92" width="1" height="1" fill="#333" opacity="0.6"/>
<rect x="440.84" y="513.13" width="1" height="1" fill="#333" opacity="0.6"/>
<rect x="439.18" y="500.11" width="1" height="1" fill="#333" opacity="0.6"/>
<rect x="442.55" y="507.16" width="1" height="1" fill="#333" opacity="0.6"/>
<rect x="437.32" y="522.39" width="1" height="1" fill="#333" opacity="0.6"/>
<rect x="437.92" y="520.84" width="1" height="1" fill="#333" opacity="0.6"/>
<rect x="436.75" y="523.71" width="1" height="1" fill="#333" opacity="0.6"/>
<rect x="448.85" y="471.18" width="1" height="1" fill="#333" opacity="0.6"/>
<rect x="447.31" y="471.30" width="1" height="1" fill="#333" opacity="0.6"/>
<rect x="442.42" y="522.97" width="1" height="1" fill="#333" opacity="0.6"/>
<rect x="429.55" y="503.78" width="1" height="1" fill="#333" opacity="0.6"/>
<rect x="434.33" y="500.30" width="1" height="1" fill="#333" opacity="0.6"/>
<rect x="431.48" y="478.15" width="1" height="1" fill="#333" opacity="0.6"/>
<rect x="428.93" y="509.86" width="1" height="1" fill="#333" opacity="0.6"/>
<rect x="439.22" y="514.89" width="1" height="1" fill="#333" opacity="0.6"/>
<rect x="437.02" y="476.89" width="1" height="1" fill="#333" opacity="0.6"/>
<rect x="439.97" y="505.60" width="1" height="1" fill="#333" opacity="0.6"/>
<rect x="441.76" y="474.90" width="1" height="1" fill="#333" opacity="0.6"/>
<rect x="439.56" y="514.26" width="1" height="1" fill="#333" opacity="0.6"/>
<rect x="439.49" y="511.29" width="1" height="1" fill="#333" opacity="0.6"/>
<rect x="431.82" y="513.58" width="1" height="1" fill="#333" opacity="0.6"/>
<rect x="435.93" y="504.05" width="1" height="1" fill="#333" opacity="0.6"/>
<rect x="446.93" y="487.38" width="1" height="1" fill="#333" opacity="0.6"/>
<rect x="448.41" y="500.94" width="1" height="1" fill="#333" opacity="0.6"/>
<rect x="425.47" y="490.95" width="1" height="1" fill="#333" opacity="0.6"/>
<rect x="438.40" y="516.85" width="1" height="1" fill="#333" opacity="0.6"/>
<rect x="444.53" y="506.06" width="1" height="1" fill="#333" opacity="0.6"/>
<rect x="442.34" y="502.60" width="1" height="1" fill="#333" opacity="0.6"/>
<rect x="441.69" y="513.95" width="1" height="1" fill="#333" opacity="0.6"/>
<rect x="435.64" y="513.44" width="1" height="1" fill="#333" opacity="0.6"/>
<rect x="441.72" y="500.91" width="1" height="1" fill="#333" opacity="0.6"/>
<rect x="442.29" y="524.06" width="1" height="1" fill="#333" opacity="0.6"/>
<rect x="434.31" y="496.41" width="1" height="1" fill="#333" opacity="0.6"/>
<rect x="435.00" y="514.26" width="1" height="1" fill="#333" opacity="0.6"/>
<rect x="431.52" y="501.50" width="1" height="1" fill="#333" opacity="0.6"/>
<rect x="438.37" y="521.49" width="1" height="1" fill="#333" opacity="0.6"/>
<rect x="443.37" y="482.21" width="1" height="1" fill="#333" opacity="0.6"/>
<rect x="427.69" y="501.91" width="1" height="1" fill="#333" opacity="0.6"/>
<rect x="444.09" y="522.66" width="1" height="1" fill="#333" opacity="0.6"/>
<rect x="430.23" y="520.50" width="1" height="1" fill="#333" opacity="0.6"/>
<rect x="444.88" y="487.61" width="1" height="1" fill="#333" opacity="0.6"/>
<rect x="445.07" y="478.60" width="1" height="1" fill="#333" opacity="0.6"/>
<rect x="420.86" y="511.83" width="1" height="1" fill="#333" opacity="0.6"/>
<rect x="439.41" y="472.35" width="1" height="1" fill="#333" opacity="0.6"/>
<rect x="439.59" y="518.72" width="1" height="1" fill="#333" opacity="0.6"/>
<rect x="445.74" y="493.61" width="1" height="1" fill="#333" opacity="0.6"/>
<rect x="443.92" y="481.09" width="1" height="1" fill="#333" opacity="0.6"/>
<rect x="446.42" y="468.76" width="1" height="1" fill="#333" opacity="0.6"/>
<rect x="422.86" y="512.28" width="1" height="1" fill="#333" opacity="0.6"/>
<rect x="428.55" y="509.94" width="1" height="1" fill="#333" opacity="0.6"/>
<rect x="444.29" y="504.08" width="1" height="1" fill="#333" opacity="0.6"/>
<rect x="446.33" y="511.29" width="1" height="1" fill="#333" opacity="0.6"/>
<rect x="437.47" y="521.23" width="1" height="1" fill="#333" opacity="0.6"/>
<rect x="440.21" y="482.17" width="1" height="1" fill="#333" opacity="0.6"/>
<rect x="438.97" y="512.47" width="1" height="1" fill="#333" opacity="0.6"/>
<rect x="432.26" y="486.43" width="1" height="1" fill="#333" opacity="0.6"/>
<rect x="445.24" y="494.82" width="1" height="1" fill="#333" opacity="0.6"/>
<rect x="443.27" y="513.26" width="1" height="1" fill="#333" opacity="0.6"/>
<rect x="431.58" y="488.70" width="1" height="1" fill="#333" opacity="0.6"/>
<rect x="444.98" y="509.73" width="1" height="1" fill="#333" opacity="0.6"/>
<rect x="445.64" y="522.22" width="1" height="1" fill="#333" opacity="0.6"/>
<rect x="451.40" y="467.90" width="1" height="1" fill="#333" opacity="0.6"/>
<rect x="446.60" y="507.39" width="1" height="1" fill="#333" opacity="0.6"/>
<rect x="430.74" y="472.75" width="1" height="1" fill="#333" opacity="0.6"/>
<rect x="438.30" y="503.45" width="1" height="1" fill="#333" opacity="0.6"/>
<rect x="428.39" y="523.36" width="1" height="1" fill="#333" opacity="0.6"/>
<rect x="448.20" y="521.08" width="1" height="1" fill="#333" opacity="0.6"/>
<rect x="436.49" y="474.98" width="1" height="1" fill="#333" opacity="0.6"/>
<rect x="437.11" y="497.34" width="1" height="1" fill="#333" opacity="0.6"/>
<rect x="447.12" y="522.72" width="1" height="1" fill="#333" opacity="0.6"/>
<rect x="433.55" y="503.15" width="1" height="1" fill="#333" opacity="0.6"/>
<rect x="432.67" y="522.29" width="1" height="1" fill="#333" opacity="0.6"/>
<rect x="430.86" y="501.91" width="1" height="1" fill="#333" opacity="0.6"/>
<rect x="445.74" y="490.24" width="1" height="1" fill="#333" opacity="0.6"/>
<rect x="437.51" y="467.14" width="1" height="1" fill="#333" opacity="0.6"/>
<rect x="442.68" y="486.32" width="1" height="1" fill="#333" opacity="0.6"/>
<rect x="438.67" y="495.14" width="1" height="1" fill="#333" opacity="0.6"/>
<rect x="442.04" y="487.20" width="1" height="1" fill="#333" opacity="0.6"/>
<rect x="449.62" y="505.74" width="1" height="1" fill="#333" opacity="0.6"/>
<rect x="434.42" y="516.47" width="1" height="1" fill="#333" opacity="0.6"/>
<rect x="439.00" y="502.47" width="1" height="1" fill="#333" opacity="0.6"/>
<rect x="442.69" y="479.92" width="1" height="1" fill="#333" opacity="0.6"/>
<rect x="446.31" y="518.78" width="1" height="1" fill="#333" opacity="0.6"/>
<rect x="438.86" y="481.00" width="1" height="1" fill="#333" opacity="0.6"/>
<rect x="447.09" y="507.38" width="1" height="1" fill="#333" opacity="0.6"/>
<rect x="444.57" y="481.61" width="1" height="1" fill="#333" opacity="0.6"/>
<rect x="455.17" y="507.05" width="1" height="1" fill="#333" opacity="0.6"/>
<rect x="443.16" y="509.59" width="1" height="1" fill="#333" opacity="0.6"/>
<rect x="439.11" y="510.51" width="1" height="1" fill="#333" opacity="0.6"/>
<rect x="438.83" y="498.56" width="1" height="1" fill="#333" opacity="0.6"/>
<rect x="433.62" y="501.20" width="1" height="1" fill="#333" opacity="0.6"/>
<rect x="440.74" y="488.64" width="1" height="1" fill="#333" opacity="0.6"/>
<rect x="437.79" y="485.08" width="1" height="1" fill="#333" opacity="0.6"/>
<rect x="440.34" y="470.14" width="1" height="1" fill="#333" opacity="0.6"/>
<rect x="436.37" y="473.31" width="1" height="1" fill="#333" opacity="0.6"/>
<rect x="444.68" y="517.58" width="1" height="1" fill="#333" opacity="0.6"/>
<rect x="444.13" y="487.45" width="1" height="1" fill="#333" opacity="0.6"/>
<rect x="447.29" y="486.13" width="1" height="1" fill="#333" opacity="0.6"/>
<rect x="445.25" y="500.20" width="1" height="1" fill="#333" opacity="0.6"/>
<rect x="439.39" y="509.76" width="1" height="1" fill="#333" opacity="0.6"/>
<rect x="432.33" y="503.05" width="1" height="1" fill="#333" opacity="0.6"/>
<rect x="446.08" y="519.67" width="1" height="1" fill="#333" opacity="0.6"/>
<rect x="430.66" y="510.53" width="1" height="1" fill="#333" opacity="0.6"/>
<rect x="437.95" y="512.06" width="1" height="1" fill="#333" opacity="0.6"/>
<rect x="447.05" y="512.79" width="1" height="1" fill="#333" opacity="0.6"/>
<rect x="437.96" y="515.15" width="1" height="1" fill="#333" opacity="0.6"/>
<rect x="427.09" y="498.42" width="1" height="1" fill="#333" opacity="0.6"/>
<rect x="438.26" y="494.67" width="1" height="1" fill="#333" opacity="0.6"/>
<rect x="438.00" y="509.38" width="1" height="1" fill="#333" opacity="0.6"/>
<rect x="450.31" y="492.42" width="1" height="1" fill="#333" opacity="0.6"/>
<rect x="432.97" y="480.05" width="1" height="1" fill="#333" opacity="0.6"/>
<rect x="446.66" y="477.80" width="1" height="1" fill="#333" opacity="0.6"/>
<rect x="433.23" y="468.72" width="1" height="1" fill="#333" opacity="0.6"/>
<rect x="445.64" y="472.96" width="1" height="1" fill="#333" opacity="0.6"/>
<rect x="430.15" y="514.08" width="1" height="1" fill="#333" opacity="0.6"/>
<rect x="433.79" y="481.60" width="1" height="1" fill="#333" opacity="0.6"/>
<rect x="435.54" y="502.63" width="1" height="1" fill="#333" opacity="0.6"/>
<rect x="438.94" y="492.14" width="1" height="1" fill="#333" opacity="0.6"/>
<rect x="440.30" y="478.63" width="1" height="1" fill="#333" opacity="0.6"/>
<rect x="436.38" y="489.33" width="1" height="1" fill="#333" opacity="0.6"/>
<rect x="446.14" y="523.29" width="1" height="1" fill="#333" opacity="0.6"/>
<rect x="439.57" y="517.58" width="1" height="1" fill="#333" opacity="0.6"/>
<rect x="444.72" y="479.78" width="1" height="1" fill="#333" opacity="0.6"/>
<rect x="450.61" y="480.64" width="1" height="1" fill="#333" opacity="0.6"/>
<rect x="435.98" y="478.37" width="1" height="1" fill="#333" opacity="0.6"/>
<rect x="435.37" y="471.55" width="1" height="1" fill="#333" opacity="0.6"/>
<rect x="441.39" y="520.30" width="1" height="1" fill="#333" opacity="0.6"/>
<rect x="443.31" y="468.98" width="1" height="1" fill="#333" opacity="0.6"/>
<rect x="435.15" y="509.00" width="1" height="1" fill="#333" opacity="0.6"/>
<rect x="438.38" y="466.68" width="1" height="1" fill="#333" opacity="0.6"/>
<rect x="432.15" y="468.03" width="1" height="1" fill="#333" opacity="0.6"/>
<rect x="447.19" y="490.77" width="1" height="1" fill="#333" opacity="0.6"/>
<rect x="436.06" y="503.59" width="1" height="1" fill="#333" opacity="0.6"/>
<rect x="446.14" y="471.22" width="1" height="1" fill="#333" opacity="0.6"/>
<rect x="442.93" y="512.05" width="1" height="1" fill="#333" opacity="0.6"/>
<rect x="435.65" y="474.34" width="1" height="1" fill="#333" opacity="0.6"/>
<rect x="443.05" y="471.45" width="1" height="1" fill="#333" opacity="0.6"/>
<rect x="441.87" y="481.12" width="1" height="1" fill="#333" opacity="0.6"/>
<rect x="441.27" y="516.76" width="1" height="1" fill="#333" opacity="0.6"/>
<rect x="441.63" y="497.68" width="1" height="1" fill="#333" opacity="0.6"/>
<rect x="431.76" y="514.32" width="1" height="1" fill="#333" opacity="0.6"/>
<rect x="439.67" y="469.21" width="1" height="1" fill="#333" opacity="0.6"/>
<rect x="448.74" y="466.91" width="1" height="1" fill="#333" opacity="0.6"/>
<rect x="442.21" y="496.34" width="1" height="1" fill="#333" opacity="0.6"/>
<rect x="430.55" y="466.54" width="1" height="1" fill="#333" opacity="0.6"/>
<rect x="430.56" y="490.22" width="1" height="1" fill="#333" opacity="0.6"/>
<rect x="436.20" y="468.45" width="1" height="1" fill="#333" opacity="0.6"/>
<rect x="447.40" y="510.99" width="1" height="1" fill="#333" opacity="0.6"/>
<rect x="447.40" y="505.81" width="1" height="1" fill="#333" opacity="0.6"/>
<rect x="437.31" y="515.77" width="1" height="1" fill="#333" opacity="0.6"/>
<rect x="446.18" y="495.25" width="1" height="1" fill="#333" opacity="0.6"/>
<rect x="429.50" y="471.67" width="1" height="1" fill="#333" opacity="0.6"/>
<rect x="442.95" y="507.86" width="1" height="1" fill="#333" opacity="0.6"/>
<rect x="427.46" y="485.06" width="1" height="1" fill="#333" opacity="0.6"/>
<rect x="448.46" y="484.93" width="1" height="1" fill="#333" opacity="0.6"/>
<rect x="438.08" y="512.88" width="1" height="1" fill="#333" opacity="0.6"/>
<rect x="440.28" y="519.91" width="1" height="1" fill="#333" opacity="0.6"/>
<rect x="444.26" y="469.76" width="1" height="1" fill="#333" opacity="0.6"/>
<rect x="443.97" y="500.25" width="1" height="1" fill="#333" opacity="0.6"/>
<rect x="434.73" y="507.27" width="1" height="1" fill="#333" opacity="0.6"/>
<rect x="443.25" y="471.98" width="1" height="1" fill="#333" opacity="0.6"/>
<rect x="436.87" y="496.72" width="1" height="1" fill="#333" opacity="0.6"/>
<rect x="440.61" y="473.00" width="1" height="1" fill="#333" opacity="0.6"/>
<rect x="446.24" y="471.81" width="1" height="1" fill="#333" opacity="0.6"/>
<rect x="437.57" y="482.23" width="1" height="1" fill="#333" opacity="0.6"/>
<rect x="438.63" y="489.40" width="1" height="1" fill="#333" opacity="0.6"/>
<rect x="449.23" y="519.69" width="1" height="1" fill="#333" opacity="0.6"/>
<rect x="446.11" y="468.39" width="1" height="1" fill="#333" opacity="0.6"/>
<rect x="440.91" y="509.54" width="1" height="1" fill="#333" opacity="0.6"/>
<rect x="435.71" y="470.08" width="1" height="1" fill="#333" opacity="0.6"/>
<rect x="439.07" y="481.78" width="1" height="1" fill="#333" opacity="0.6"/>
<rect x="424.42" y="476.24" width="1" height="1" fill="#333" opacity="0.6"/>
<rect x="432.56" y="512.53" width="1" height="1" fill="#333" opacity="0.6"/>
<rect x="450.36" y="475.75" width="1" height="1" fill="#333" opacity="0.6"/>
<rect x="448.19" y="522.97" width="1" height="1" fill="#333" opacity="0.6"/>
<rect x="433.34" y="523.89" width="1" height="1" fill="#333" opacity="0.6"/>
<rect x="445.20" y="467.94" width="1" height="1" fill="#333" opacity="0.6"/>
<rect x="448.30" y="477.81" width="1" height="1" fill="#333" opacity="0.6"/>
<rect x="434.95" y="482.84" width="1" height="1" fill="#333" opacity="0.6"/>
<rect x="439.43" y="493.72" width="1" height="1" fill="#333" opacity="0.6"/>
<rect x="427.68" y="490.14" width="1" height="1" fill="#333" opacity="0.6"/>
<rect x="432.94" y="478.27" width="1" height="1" fill="#333" opacity="0.6"/>
<rect x="437.88" y="478.16" width="1" height="1" fill="#333" opacity="0.6"/>
<rect x="441.29" y="468.48" width="1" height="1" fill="#333" opacity="0.6"/>
<rect x="440.65" y="474.44" width="1" height="1" fill="#333" opacity="0.6"/>
<rect x="436.60" y="483.48" width="1" height="1" fill="#333" opacity="0.6"/>
<rect x="431.56" y="488.21" width="1" height="1" fill="#333" opacity="0.6"/>
<rect x="448.62" y="477.91" width="1" height="1" fill="#333" opacity="0.6"/>
<rect x="434.03" y="498.73" width="1" height="1" fill="#333" opacity="0.6"/>
<rect x="436.61" y="476.40" width="1" height="1" fill="#333" opacity="0.6"/>
<rect x="439.13" y="483.21" width="1" height="1" fill="#333" opacity="0.6"/>
<rect x="433.46" y="479.94" width="1" height="1" fill="#333" opacity="0.6"/>
<rect x="443.66" y="475.14" width="1" height="1" fill="#333" opacity="0.6"/>
<rect x="439.42" y="490.23" width="1" height="1" fill="#333" opacity="0.6"/>
<rect x="446.64" y="488.25" width="1" height="1" fill="#333" opacity="0.6"/>
<rect x="439.50" y="475.04" width="1" height="1" fill="#333" opacity="0.6"/>
<rect x="439.55" y="497.10" width="1" height="1" fill="#333" opacity="0.6"/>
<rect x="440.55" y="496.02" width="1" height="1" fill="#333" opacity="0.6"/>
<rect x="436.07" y="491.79" width="1" height="1" fill="#333" opacity="0.6"/>
<rect x="437.13" y="477.45" width="1" height="1" fill="#333" opacity="0.6"/>
<rect x="435.35" y="495.73" width="1" height="1" fill="#333" opacity="0.6"/>
<rect x="441.16" y="482.46" width="1" height="1" fill="#333" opacity="0.6"/>
<rect x="437.11" y="491.98" width="1" height="1" fill="#333" opacity="0.6"/>
<rect x="436.20" y="495.11" width="1" height="1" fill="#333" opacity="0.6"/>
<rect x="439.85" y="478.78" width="1" height="1" fill="#333" opacity="0.6"/>
<rect x="437.46" y="474.07" width="1" height="1" fill="#333" opacity="0.6"/>
<rect x="433.18" y="479.34" width="1" height="1" fill="#333" opacity="0.6"/>
<rect x="435.99" y="480.71" width="1" height="1" fill="#333" opacity="0.6"/>
<rect x="434.72" y="477.74" width="1" height="1" fill="#333" opacity="0.6"/>
<rect x="439.93" y="471.35" width="1" height="1" fill="#333" opacity="0.6"/>
<rect x="426.15" y="500.62" width="1" height="1" fill="#333" opacity="0.6"/>
<rect x="438.86" y="486.00" width="1" height="1" fill="#333" opacity="0.6"/>
<rect x="443.97" y="495.19" width="1" height="1" fill="#333" opacity="0.6"/>
<rect x="445.33" y="493.40" width="1" height="1" fill="#333" opacity="0.6"/>
<rect x="442.07" y="488.93" width="1" height="1" fill="#333" opacity="0.6"/>
<rect x="437.76" y="483.08" width="1" height="1" fill="#333" opacity="0.6"/>
<rect x="421.05" y="500.16" width="1" height="1" fill="#333" opacity="0.6"/>
<rect x="437.81" y="474.67" width="1" height="1" fill="#333" opacity="0.6"/>
<rect x="443.94" y="477.44" width="1" height="1" fill="#333" opacity="0.6"/>
<rect x="440.21" y="475.98" width="1" height="1" fill="#333" opacity="0.6"/>
<rect x="432.79" y="495.01" width="1" height="1" fill="#333" opacity="0.6"/>
<rect x="439.03" y="469.18" width="1" height="1" fill="#333" opacity="0.6"/>
<rect x="441.57" y="492.98" width="1" height="1" fill="#333" opacity="0.6"/>
<rect x="436.99" y="491.10" width="1" height="1" fill="#333" opacity="0.6"/>
<rect x="444.69" y="495.58" width="1" height="1" fill="#333" opacity="0.6"/>
<rect x="441.44" y="491.76" width="1" height="1" fill="#333" opacity="0.6"/>
<rect x="446.26" y="486.34" width="1" height="1" fill="#333" opacity="0.6"/>
<rect x="437.08" y="481.64" width="1" height="1" fill="#333" opacity="0.6"/>
<rect x="453.98" y="474.47" width="1" height="1" fill="#333" opacity="0.6"/>
<rect x="438.50" y="466.40" width="1" height="1" fill="#333" opacity="0.6"/>
<rect x="438.20" y="482.48" width="1" height="1" fill="#333" opacity="0.6"/>
<rect x="437.97" y="491.77" width="1" height="1" fill="#333" opacity="0.6"/>
<rect x="445.57" y="486.43" width="1" height="1" fill="#333" opacity="0.6"/>
<rect x="434.52" y="479.36" width="1" height="1" fill="#333" opacity="0.6"/>
<rect x="438.46" y="477.19" width="1" height="1" fill="#333" opacity="0.6"/>
<rect x="438.02" y="489.35" width="1" height="1" fill="#333" opacity="0.6"/>
<rect x="439.40" y="503.92" width="1" height="1" fill="#333" opacity="0.6"/>
<rect x="430.35" y="485.52" width="1" height="1" fill="#333" opacity="0.6"/>
<rect x="443.50" y="473.56" width="1" height="1" fill="#333" opacity="0.6"/>
<rect x="430.09" y="504.53" width="1" height="1" fill="#333" opacity="0.6"/>
<rect x="443.02" y="489.48" width="1" height="1" fill="#333" opacity="0.6"/>
<rect x="444.18" y="474.49" width="1" height="1" fill="#333" opacity="0.6"/>
<rect x="432.82" y="499.40" width="1" height="1" fill="#333" opacity="0.6"/>
<rect x="438.90" y="468.49" width="1" height="1" fill="#333" opacity="0.6"/>
<rect x="437.72" y="499.52" width="1" height="1" fill="#333" opacity="0.6"/>
<rect x="433.16" y="468.61" width="1" height="1" fill="#333" opacity="0.6"/>
<rect x="427.03" y="482.63" width="1" height="1" fill="#333" opacity="0.6"/>
<rect x="415.60" y="500.63" width="1" height="1" fill="#333" opacity="0.6"/>
<rect x="411.78" y="478.08" width="1" height="1" fill="#333" opacity="0.6"/>
<rect x="412.32" y="486.69" width="1" height="1" fill="#333" opacity="0.6"/>
<rect x="419.80" y="488.53" width="1" height="1" fill="#333" opacity="0.6"/>
<rect x="403.61" y="501.25" width="1" height="1" fill="#333" opacity="0.6"/>
<rect x="417.23" y="492.41" width="1" height="1" fill="#333" opacity="0.6"/>
<rect x="423.25" y="508.48" width="1" height="1" fill="#333" opacity="0.6"/>
<rect x="412.36" y="504.79" width="1" height="1" fill="#333" opacity="0.6"/>
<rect x="416.29" y="496.95" width="1" height="1" fill="#333" opacity="0.6"/>
<rect x="408.99" y="517.64" width="1" height="1" fill="#333" opacity="0.6"/>
<rect x="415.30" y="505.10" width="1" height="1" fill="#333" opacity="0.6"/>
<rect x="412.15" y="490.21" width="1" height="1" fill="#333" opacity="0.6"/>
<rect x="409.48" y="491.70" width="1" height="1" fill="#333" opacity="0.6"/>
<rect x="413.25" y="470.60" width="1" height="1" fill="#333" opacity="0.6"/>
<rect x="409.72" y="479.52" width="1" height="1" fill="#333" opacity="0.6"/>
<rect x="418.60" y="487.70" width="1" height="1" fill="#333" opacity="0.6"/>
<rect x="417.23" y="488.79" width="1" height="1" fill="#333" opacity="0.6"/>
<rect x="411.98" y="480.25" width="1" height="1" fill="#333" opacity="0.6"/>
<rect x="417.77" y="492.88" width="1" height="1" fill="#333" opacity="0.6"/>
<rect x="415.13" y="495.50" width="1" height="1" fill="#333" opacity="0.6"/>
<rect x="421.77" y="511.55" width="1" height="1" fill="#333" opacity="0.6"/>
<rect x="417.58" y="492.93" width="1" height="1" fill="#333" opacity="0.6"/>
<rect x="416.93" y="519.26" width="1" height="1" fill="#333" opacity="0.6"/>
<rect x="411.99" y="523.89" width="1" height="1" fill="#333" opacity="0.6"/>
<rect x="411.58" y="506.55" width="1" height="1" fill="#333" opacity="0.6"/>
<rect x="422.64" y="468.79" width="1" height="1" fill="#333" opacity="0.6"/>
<rect x="404.53" y="478.00" width="1" height="1" fill="#333" opacity="0.6"/>
<rect x="418.27" y="519.62" width="1" height="1" fill="#333" opacity="0.6"/>
<rect x="409.76" y="470.70" width="1" height="1" fill="#333" opacity="0.6"/>
<rect x="425.51" y="490.77" width="1" height="1" fill="#333" opacity="0.6"/>
<rect x="412.79" y="515.45" width="1" height="1" fill="#333" opacity="0.6"/>
<rect x="408.93" y="477.37" width="1" height="1" fill="#333" opacity="0.6"/>
<rect x="414.78" y="512.75" width="1" height="1" fill="#333" opacity="0.6"/>
<rect x="420.09" y="471.70" width="1" height="1" fill="#333" opacity="0.6"/>
<rect x="421.20" y="467.43" width="1" height="1" fill="#333" opacity="0.6"/>
<rect x="415.89" y="494.18" width="1" height="1" fill="#333" opacity="0.6"/>
<rect x="418.52" y="486.97" width="1" height="1" fill="#333" opacity="0.6"/>
<rect x="424.27" y="483.40" width="1" height="1" fill="#333" opacity="0.6"/>
<rect x="417.39" y="480.16" width="1" height="1" fill="#333" opacity="0.6"/>
<rect x="410.41" y="469.71" width="1" height="1" fill="#333" opacity="0.6"/>
<rect x="414.89" y="521.43" width="1" height="1" fill="#333" opacity="0.6"/>
<rect x="421.57" y="505.40" width="1" height="1" fill="#333" opacity="0.6"/>
<rect x="415.59" y="501.02" width="1" height="1" fill="#333" opacity="0.6"/>
<rect x="416.58" y="482.16" width="1" height="1" fill="#333" opacity="0.6"/>
<rect x="425.20" y="482.74" width="1" height="1" fill="#333" opacity="0.6"/>
<rect x="414.46" y="480.07" width="1" height="1" fill="#333" opacity="0.6"/>
<rect x="410.27" y="485.90" width="1" height="1" fill="#333" opacity="0.6"/>
<rect x="420.17" y="519.25" width="1" height="1" fill="#333" opacity="0.6"/>
<rect x="411.53" y="493.17" width="1" height="1" fill="#333" opacity="0.6"/>
<rect x="419.13" y="489.77" width="1" height="1" fill="#333" opacity="0.6"/>
<rect x="413.76" y="486.83" width="1" height="1" fill="#333" opacity="0.6"/>
<rect x="419.28" y="474.50" width="1" height="1" fill="#333" opacity="0.6"/>
<text x="431.95" y="541.30" font-size="8" fill="#222" stroke="#222" stroke-width="0.15" text-anchor="middle" textLength="40.1" lengthAdjust="spacingAndGlyphs">MYH9 log<tspan font-size="4.6" dy="1.5">2</tspan><tspan dy="-1.5">(TPM)</tspan></text>
<line x1="411.90" y1="542.00" x2="426.74" y2="542.00" stroke="#333" stroke-width="0.7" />
<text transform="translate(386.00,496.95) rotate(-90)" x="0" y="2.7" font-size="7.6" fill="#222" stroke="#222" stroke-width="0.12" text-anchor="middle" textLength="39.3" lengthAdjust="spacingAndGlyphs">GPX2 log<tspan font-size="4.4" dy="1.5">2</tspan><tspan dy="-1.5">(TPM)</tspan></text>
<line x1="389.30" y1="516.60" x2="389.30" y2="505.99" stroke="#222" stroke-width="0.6" />
</svg>
</body></html>
